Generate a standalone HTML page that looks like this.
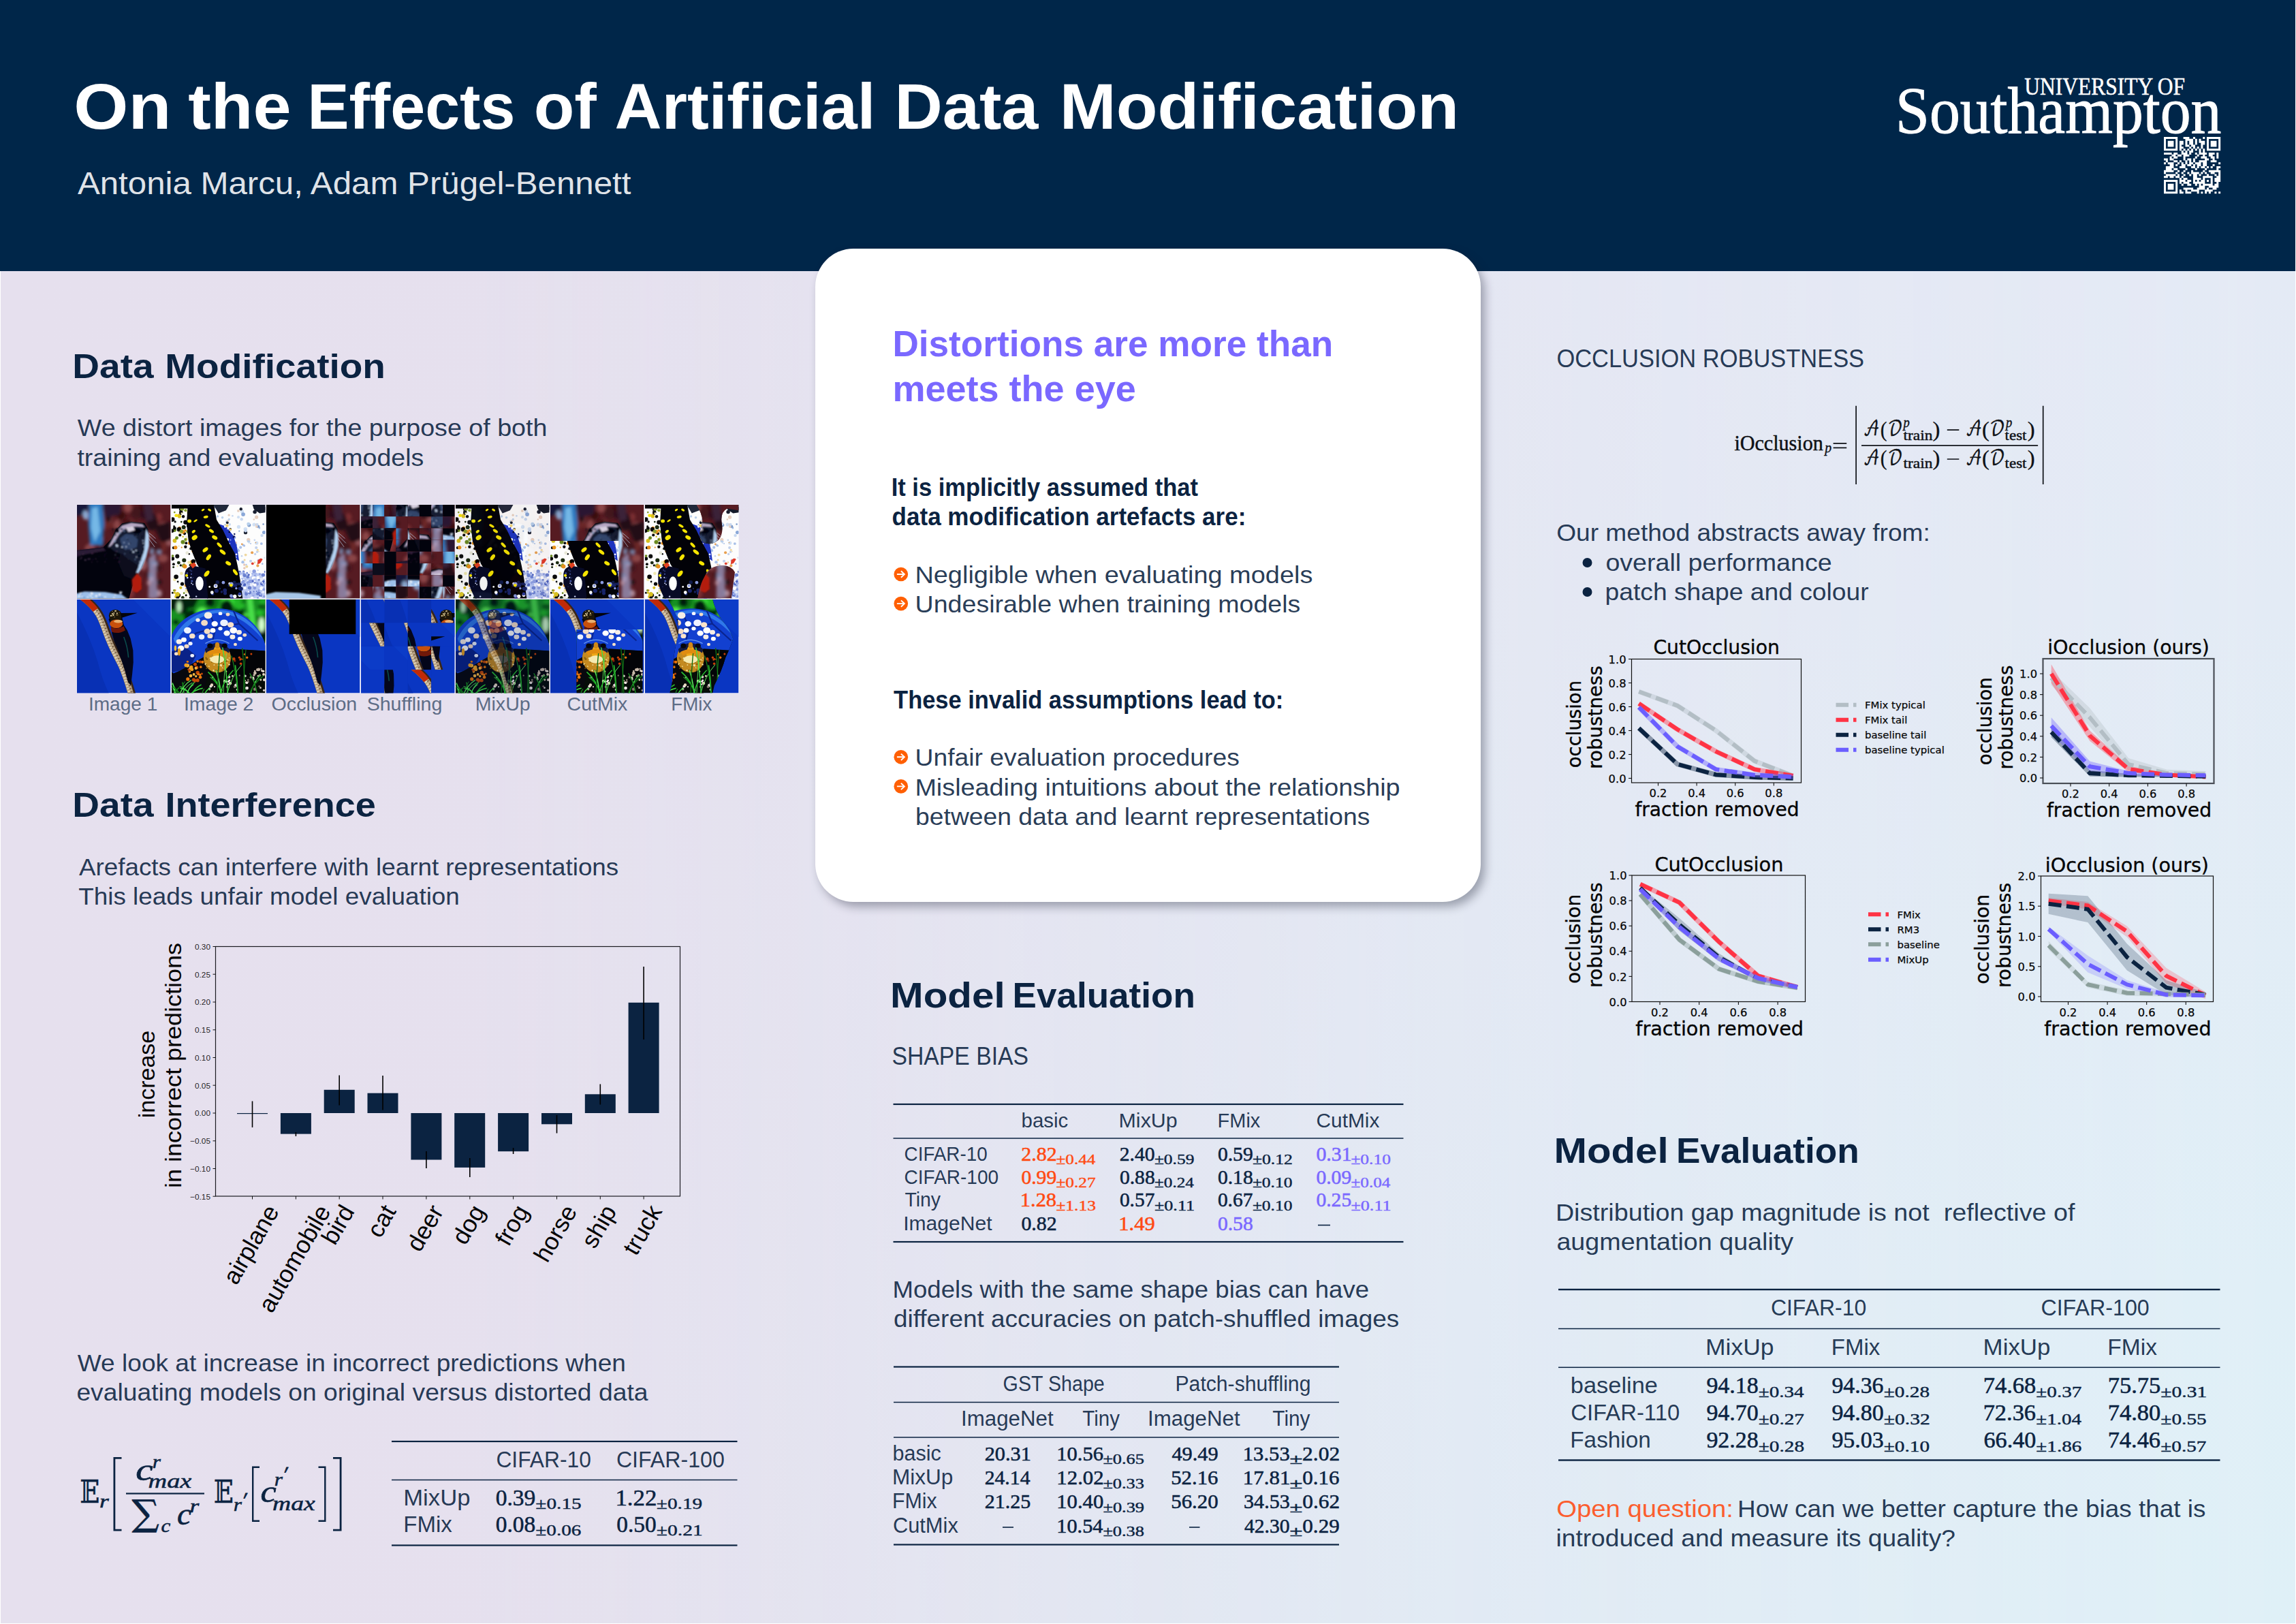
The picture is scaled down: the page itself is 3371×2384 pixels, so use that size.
<!DOCTYPE html>
<html lang="en"><head><meta charset="utf-8"><title>On the Effects of Artificial Data Modification</title>
<style>
html,body{margin:0;padding:0;background:#fff;}
body{width:3371px;height:2384px;overflow:hidden;position:relative;}
#bg{position:absolute;left:1px;top:0;width:3369px;height:2383px;background:linear-gradient(90deg,#e6e0ee 0%,#e6e1ef 100%);}
#bg2{position:absolute;left:1px;top:398px;width:3369px;height:1985px;background:linear-gradient(180deg,#e4eaf5 0%,#e3ebf5 25%,#e0eff7 75%,#dff0f7 100%);-webkit-mask-image:linear-gradient(90deg,rgba(0,0,0,0) 20%,rgba(0,0,0,.62) 62%,rgba(0,0,0,1) 100%);mask-image:linear-gradient(90deg,rgba(0,0,0,0) 20%,rgba(0,0,0,.62) 62%,rgba(0,0,0,1) 100%);}
#hdr{position:absolute;left:0;top:0;width:3370px;height:398px;background:#002649;}
#card{position:absolute;left:1197px;top:365px;width:976.5px;height:958.5px;border-radius:56px;background:#fff;box-shadow:6px 7px 14px rgba(25,30,50,.36);}
svg{position:absolute;left:0;top:0;}
text{white-space:pre;}
</style></head><body>
<div id="bg"></div><div id="bg2"></div><div id="hdr"></div><div id="card"></div>
<svg width="3371" height="2384" viewBox="0 0 3371 2384" fill="#0b2341" font-family="'Liberation Sans', sans-serif">
<text x="108.3" y="189.0" font-size="95" textLength="143.1" lengthAdjust="spacingAndGlyphs" font-weight="700" fill="#fff">On</text>
<text x="276.3" y="189.0" font-size="95" textLength="151.2" lengthAdjust="spacingAndGlyphs" font-weight="700" fill="#fff">the</text>
<text x="451.4" y="189.0" font-size="95" textLength="304.9" lengthAdjust="spacingAndGlyphs" font-weight="700" fill="#fff">Effects</text>
<text x="783.7" y="189.0" font-size="95" textLength="92.1" lengthAdjust="spacingAndGlyphs" font-weight="700" fill="#fff">of</text>
<text x="902.6" y="189.0" font-size="95" textLength="382.7" lengthAdjust="spacingAndGlyphs" font-weight="700" fill="#fff">Artificial</text>
<text x="1313.5" y="189.0" font-size="95" textLength="210.9" lengthAdjust="spacingAndGlyphs" font-weight="700" fill="#fff">Data</text>
<text x="1555.8" y="189.0" font-size="95" textLength="586.3" lengthAdjust="spacingAndGlyphs" font-weight="700" fill="#fff">Modification</text>
<text x="113.9" y="285.0" font-size="45.5" textLength="812.5" lengthAdjust="spacingAndGlyphs" fill="#fff" fill-opacity="0.9">Antonia Marcu, Adam Prügel-Bennett</text>
<text x="2783.0" y="195.0" font-size="98" textLength="478.4" lengthAdjust="spacingAndGlyphs" fill="#fff" font-family="'Liberation Serif', serif" stroke="#fff" stroke-width="1.1">Southampton</text>
<text x="2972.3" y="139.3" font-size="35.5" textLength="235.8" lengthAdjust="spacingAndGlyphs" fill="#fff" font-family="'Liberation Serif', serif" stroke="#fff" stroke-width="0.5">UNIVERSITY OF</text>
<text x="106.3" y="555.0" font-size="50.5" textLength="119.3" lengthAdjust="spacingAndGlyphs" font-weight="700">Data</text>
<text x="242.3" y="555.0" font-size="50.5" textLength="323.6" lengthAdjust="spacingAndGlyphs" font-weight="700">Modification</text>
<text x="113.8" y="640.0" font-size="35" textLength="689.6" lengthAdjust="spacingAndGlyphs" fill-opacity="0.9">We distort images for the purpose of both</text>
<text x="113.4" y="684.0" font-size="35" textLength="508.9" lengthAdjust="spacingAndGlyphs" fill-opacity="0.9">training and evaluating models</text>
<text x="129.9" y="1042.5" font-size="28" textLength="101.5" lengthAdjust="spacingAndGlyphs" fill="#5d6c86" fill-opacity="1">Image 1</text>
<text x="269.9" y="1042.5" font-size="28" textLength="102.5" lengthAdjust="spacingAndGlyphs" fill="#5d6c86" fill-opacity="1">Image 2</text>
<text x="398.6" y="1042.5" font-size="28" textLength="125.7" lengthAdjust="spacingAndGlyphs" fill="#5d6c86" fill-opacity="1">Occlusion</text>
<text x="538.7" y="1042.5" font-size="28" textLength="110.6" lengthAdjust="spacingAndGlyphs" fill="#5d6c86" fill-opacity="1">Shuffling</text>
<text x="697.7" y="1042.5" font-size="28" textLength="81.0" lengthAdjust="spacingAndGlyphs" fill="#5d6c86" fill-opacity="1">MixUp</text>
<text x="832.6" y="1042.5" font-size="28" textLength="88.8" lengthAdjust="spacingAndGlyphs" fill="#5d6c86" fill-opacity="1">CutMix</text>
<text x="985.2" y="1042.5" font-size="28" textLength="60.1" lengthAdjust="spacingAndGlyphs" fill="#5d6c86" fill-opacity="1">FMix</text>
<text x="106.3" y="1198.5" font-size="50.5" textLength="119.3" lengthAdjust="spacingAndGlyphs" font-weight="700">Data</text>
<text x="242.4" y="1198.5" font-size="50.5" textLength="309.5" lengthAdjust="spacingAndGlyphs" font-weight="700">Interference</text>
<text x="115.9" y="1284.5" font-size="35" textLength="792.4" lengthAdjust="spacingAndGlyphs" fill-opacity="0.9">Arefacts can interfere with learnt representations</text>
<text x="115.2" y="1327.5" font-size="35" textLength="559.7" lengthAdjust="spacingAndGlyphs" fill-opacity="0.9">This leads unfair model evaluation</text>
<text x="113.8" y="2012.5" font-size="35" textLength="805.1" lengthAdjust="spacingAndGlyphs" fill-opacity="0.9">We look at increase in incorrect predictions when</text>
<text x="112.4" y="2056.0" font-size="35" textLength="839.1" lengthAdjust="spacingAndGlyphs" fill-opacity="0.9">evaluating models on original versus distorted data</text>
<rect x="575.0" y="2114.90" width="507.5" height="2.2" fill="#0b2341"/>
<rect x="575.0" y="2171.75" width="507.5" height="1.5" fill="#0b2341"/>
<rect x="575.0" y="2267.40" width="507.5" height="2.2" fill="#0b2341"/>
<text x="728.4" y="2154.0" font-size="34" textLength="139.4" lengthAdjust="spacingAndGlyphs" fill-opacity="0.9">CIFAR-10</text>
<text x="904.9" y="2154.0" font-size="34" textLength="158.9" lengthAdjust="spacingAndGlyphs" fill-opacity="0.9">CIFAR-100</text>
<text x="592.2" y="2210.0" font-size="34" textLength="98.3" lengthAdjust="spacingAndGlyphs" fill-opacity="0.9">MixUp</text>
<text x="592.3" y="2249.0" font-size="34" textLength="71.6" lengthAdjust="spacingAndGlyphs" fill-opacity="0.9">FMix</text>
<text x="727.7" y="2210.0" font-size="33.3" textLength="58.7" lengthAdjust="spacingAndGlyphs" font-family="'Liberation Serif', serif" stroke="#0b2341" stroke-width="0.55">0.39</text>
<text x="786.3" y="2215.0" font-size="23" textLength="67.4" lengthAdjust="spacingAndGlyphs" font-family="'Liberation Serif', serif" stroke="#0b2341" stroke-width="0.4">±0.15</text>
<text x="903.4" y="2210.0" font-size="33.3" textLength="61.0" lengthAdjust="spacingAndGlyphs" font-family="'Liberation Serif', serif" stroke="#0b2341" stroke-width="0.55">1.22</text>
<text x="963.8" y="2215.0" font-size="23" textLength="67.4" lengthAdjust="spacingAndGlyphs" font-family="'Liberation Serif', serif" stroke="#0b2341" stroke-width="0.4">±0.19</text>
<text x="727.7" y="2249.0" font-size="33.3" textLength="58.5" lengthAdjust="spacingAndGlyphs" font-family="'Liberation Serif', serif" stroke="#0b2341" stroke-width="0.55">0.08</text>
<text x="786.3" y="2254.0" font-size="23" textLength="67.1" lengthAdjust="spacingAndGlyphs" font-family="'Liberation Serif', serif" stroke="#0b2341" stroke-width="0.4">±0.06</text>
<text x="905.2" y="2249.0" font-size="33.3" textLength="58.5" lengthAdjust="spacingAndGlyphs" font-family="'Liberation Serif', serif" stroke="#0b2341" stroke-width="0.55">0.50</text>
<text x="963.8" y="2254.0" font-size="23" textLength="68.0" lengthAdjust="spacingAndGlyphs" font-family="'Liberation Serif', serif" stroke="#0b2341" stroke-width="0.4">±0.21</text>
<text x="1310.4" y="522.5" font-size="54" textLength="646.9" lengthAdjust="spacingAndGlyphs" font-weight="700" fill="#7a68ff">Distortions are more than</text>
<text x="1310.4" y="589.0" font-size="54" textLength="357.4" lengthAdjust="spacingAndGlyphs" font-weight="700" fill="#7a68ff">meets the eye</text>
<text x="1308.7" y="727.5" font-size="36" textLength="450.2" lengthAdjust="spacingAndGlyphs" font-weight="700">It is implicitly assumed that</text>
<text x="1309.6" y="771.0" font-size="36" textLength="519.8" lengthAdjust="spacingAndGlyphs" font-weight="700">data modification artefacts are:</text>
<circle cx="1322.8" cy="843" r="10.35" fill="#ff5f03"/>
<path d="M1316.9 843H1327.4M1322.9 838.3L1327.9 843L1322.9 847.7" stroke="#fff" stroke-width="1.9" fill="none" stroke-linejoin="miter"/>
<circle cx="1322.8" cy="886.1" r="10.35" fill="#ff5f03"/>
<path d="M1316.9 886.1H1327.4M1322.9 881.4L1327.9 886.1L1322.9 890.8" stroke="#fff" stroke-width="1.9" fill="none" stroke-linejoin="miter"/>
<circle cx="1322.8" cy="1111.3" r="10.35" fill="#ff5f03"/>
<path d="M1316.9 1111.3H1327.4M1322.9 1106.6L1327.9 1111.3L1322.9 1116.0" stroke="#fff" stroke-width="1.9" fill="none" stroke-linejoin="miter"/>
<circle cx="1322.8" cy="1154.4" r="10.35" fill="#ff5f03"/>
<path d="M1316.9 1154.4H1327.4M1322.9 1149.7L1327.9 1154.4L1322.9 1159.1" stroke="#fff" stroke-width="1.9" fill="none" stroke-linejoin="miter"/>
<text x="1343.4" y="856.0" font-size="35" textLength="584.0" lengthAdjust="spacingAndGlyphs" fill-opacity="0.9">Negligible when evaluating models</text>
<text x="1343.6" y="899.0" font-size="35" textLength="565.8" lengthAdjust="spacingAndGlyphs" fill-opacity="0.9">Undesirable when training models</text>
<text x="1312.1" y="1040.0" font-size="36" textLength="572.2" lengthAdjust="spacingAndGlyphs" font-weight="700">These invalid assumptions lead to:</text>
<text x="1343.6" y="1124.0" font-size="35" textLength="476.2" lengthAdjust="spacingAndGlyphs" fill-opacity="0.9">Unfair evaluation procedures</text>
<text x="1343.4" y="1167.5" font-size="35" textLength="712.2" lengthAdjust="spacingAndGlyphs" fill-opacity="0.9">Misleading intuitions about the relationship</text>
<text x="1344.1" y="1211.0" font-size="35" textLength="667.2" lengthAdjust="spacingAndGlyphs" fill-opacity="0.9">between data and learnt representations</text>
<text x="1307.1" y="1478.5" font-size="52" textLength="168.5" lengthAdjust="spacingAndGlyphs" font-weight="700">Model</text>
<text x="1486.5" y="1478.5" font-size="52" textLength="268.3" lengthAdjust="spacingAndGlyphs" font-weight="700">Evaluation</text>
<text x="1309.5" y="1562.5" font-size="36" textLength="200.6" lengthAdjust="spacingAndGlyphs" fill-opacity="0.9">SHAPE BIAS</text>
<rect x="1311.5" y="1619.90" width="749.0" height="2.2" fill="#0b2341"/>
<rect x="1311.5" y="1670.25" width="749.0" height="1.5" fill="#0b2341"/>
<rect x="1311.5" y="1821.90" width="749.0" height="2.2" fill="#0b2341"/>
<text x="1499.6" y="1655.0" font-size="30" textLength="68.7" lengthAdjust="spacingAndGlyphs" fill-opacity="0.9">basic</text>
<text x="1642.5" y="1655.0" font-size="30" textLength="86.3" lengthAdjust="spacingAndGlyphs" fill-opacity="0.9">MixUp</text>
<text x="1787.6" y="1655.0" font-size="30" textLength="62.7" lengthAdjust="spacingAndGlyphs" fill-opacity="0.9">FMix</text>
<text x="1932.5" y="1655.0" font-size="30" textLength="92.8" lengthAdjust="spacingAndGlyphs" fill-opacity="0.9">CutMix</text>
<text x="1327.6" y="1703.5" font-size="30" textLength="122.0" lengthAdjust="spacingAndGlyphs" fill-opacity="0.9">CIFAR-10</text>
<text x="1499.2" y="1703.5" font-size="29.6" textLength="52.5" lengthAdjust="spacingAndGlyphs" fill="#ff4a12" font-family="'Liberation Serif', serif" stroke="#ff4a12" stroke-width="0.55">2.82</text>
<text x="1550.5" y="1709.0" font-size="20.5" textLength="57.9" lengthAdjust="spacingAndGlyphs" fill="#ff4a12" font-family="'Liberation Serif', serif" stroke="#ff4a12" stroke-width="0.4">±0.44</text>
<text x="1643.7" y="1703.5" font-size="29.6" textLength="51.9" lengthAdjust="spacingAndGlyphs" font-family="'Liberation Serif', serif" stroke="#0b2341" stroke-width="0.55">2.40</text>
<text x="1694.9" y="1709.0" font-size="20.5" textLength="58.6" lengthAdjust="spacingAndGlyphs" font-family="'Liberation Serif', serif" stroke="#0b2341" stroke-width="0.4">±0.59</text>
<text x="1787.9" y="1703.5" font-size="29.6" textLength="51.8" lengthAdjust="spacingAndGlyphs" font-family="'Liberation Serif', serif" stroke="#0b2341" stroke-width="0.55">0.59</text>
<text x="1838.9" y="1709.0" font-size="20.5" textLength="59.0" lengthAdjust="spacingAndGlyphs" font-family="'Liberation Serif', serif" stroke="#0b2341" stroke-width="0.4">±0.12</text>
<text x="1932.4" y="1703.5" font-size="29.6" textLength="52.4" lengthAdjust="spacingAndGlyphs" fill="#7a68ff" font-family="'Liberation Serif', serif" stroke="#7a68ff" stroke-width="0.55">0.31</text>
<text x="1983.4" y="1709.0" font-size="20.5" textLength="58.5" lengthAdjust="spacingAndGlyphs" fill="#7a68ff" font-family="'Liberation Serif', serif" stroke="#7a68ff" stroke-width="0.4">±0.10</text>
<text x="1327.6" y="1737.5" font-size="30" textLength="138.5" lengthAdjust="spacingAndGlyphs" fill-opacity="0.9">CIFAR-100</text>
<text x="1499.4" y="1737.5" font-size="29.6" textLength="51.8" lengthAdjust="spacingAndGlyphs" fill="#ff4a12" font-family="'Liberation Serif', serif" stroke="#ff4a12" stroke-width="0.55">0.99</text>
<text x="1550.4" y="1743.0" font-size="20.5" textLength="58.3" lengthAdjust="spacingAndGlyphs" fill="#ff4a12" font-family="'Liberation Serif', serif" stroke="#ff4a12" stroke-width="0.4">±0.27</text>
<text x="1643.9" y="1737.5" font-size="29.6" textLength="51.8" lengthAdjust="spacingAndGlyphs" font-family="'Liberation Serif', serif" stroke="#0b2341" stroke-width="0.55">0.88</text>
<text x="1695.0" y="1743.0" font-size="20.5" textLength="57.9" lengthAdjust="spacingAndGlyphs" font-family="'Liberation Serif', serif" stroke="#0b2341" stroke-width="0.4">±0.24</text>
<text x="1787.9" y="1737.5" font-size="29.6" textLength="51.8" lengthAdjust="spacingAndGlyphs" font-family="'Liberation Serif', serif" stroke="#0b2341" stroke-width="0.55">0.18</text>
<text x="1838.9" y="1743.0" font-size="20.5" textLength="58.5" lengthAdjust="spacingAndGlyphs" font-family="'Liberation Serif', serif" stroke="#0b2341" stroke-width="0.4">±0.10</text>
<text x="1932.4" y="1737.5" font-size="29.6" textLength="51.8" lengthAdjust="spacingAndGlyphs" fill="#7a68ff" font-family="'Liberation Serif', serif" stroke="#7a68ff" stroke-width="0.55">0.09</text>
<text x="1983.5" y="1743.0" font-size="20.5" textLength="57.9" lengthAdjust="spacingAndGlyphs" fill="#7a68ff" font-family="'Liberation Serif', serif" stroke="#7a68ff" stroke-width="0.4">±0.04</text>
<text x="1328.4" y="1771.0" font-size="30" textLength="52.7" lengthAdjust="spacingAndGlyphs" fill-opacity="0.9">Tiny</text>
<text x="1497.8" y="1771.0" font-size="29.6" textLength="53.3" lengthAdjust="spacingAndGlyphs" fill="#ff4a12" font-family="'Liberation Serif', serif" stroke="#ff4a12" stroke-width="0.55">1.28</text>
<text x="1550.4" y="1776.5" font-size="20.5" textLength="58.6" lengthAdjust="spacingAndGlyphs" fill="#ff4a12" font-family="'Liberation Serif', serif" stroke="#ff4a12" stroke-width="0.4">±1.13</text>
<text x="1643.9" y="1771.0" font-size="29.6" textLength="51.5" lengthAdjust="spacingAndGlyphs" font-family="'Liberation Serif', serif" stroke="#0b2341" stroke-width="0.55">0.57</text>
<text x="1694.9" y="1776.5" font-size="20.5" textLength="59.2" lengthAdjust="spacingAndGlyphs" font-family="'Liberation Serif', serif" stroke="#0b2341" stroke-width="0.4">±0.11</text>
<text x="1787.9" y="1771.0" font-size="29.6" textLength="51.5" lengthAdjust="spacingAndGlyphs" font-family="'Liberation Serif', serif" stroke="#0b2341" stroke-width="0.55">0.67</text>
<text x="1838.9" y="1776.5" font-size="20.5" textLength="58.5" lengthAdjust="spacingAndGlyphs" font-family="'Liberation Serif', serif" stroke="#0b2341" stroke-width="0.4">±0.10</text>
<text x="1932.4" y="1771.0" font-size="29.6" textLength="51.8" lengthAdjust="spacingAndGlyphs" fill="#7a68ff" font-family="'Liberation Serif', serif" stroke="#7a68ff" stroke-width="0.55">0.25</text>
<text x="1983.4" y="1776.5" font-size="20.5" textLength="59.2" lengthAdjust="spacingAndGlyphs" fill="#7a68ff" font-family="'Liberation Serif', serif" stroke="#7a68ff" stroke-width="0.4">±0.11</text>
<text x="1326.2" y="1806.0" font-size="30" textLength="130.5" lengthAdjust="spacingAndGlyphs" fill-opacity="0.9">ImageNet</text>
<text x="1499.4" y="1806.0" font-size="29.6" textLength="52.3" lengthAdjust="spacingAndGlyphs" font-family="'Liberation Serif', serif" stroke="#0b2341" stroke-width="0.55">0.82</text>
<text x="1642.3" y="1806.0" font-size="29.6" textLength="53.4" lengthAdjust="spacingAndGlyphs" fill="#ff4a12" font-family="'Liberation Serif', serif" stroke="#ff4a12" stroke-width="0.55">1.49</text>
<text x="1787.9" y="1806.0" font-size="29.6" textLength="51.8" lengthAdjust="spacingAndGlyphs" fill="#7a68ff" font-family="'Liberation Serif', serif" stroke="#7a68ff" stroke-width="0.55">0.58</text>
<rect x="1935.0" y="1797.70" width="18.0" height="1.6" fill="#0b2341"/>
<text x="1310.5" y="1905.0" font-size="35" textLength="699.6" lengthAdjust="spacingAndGlyphs" fill-opacity="0.9">Models with the same shape bias can have</text>
<text x="1311.9" y="1948.0" font-size="35" textLength="742.4" lengthAdjust="spacingAndGlyphs" fill-opacity="0.9">different accuracies on patch-shuffled images</text>
<rect x="1312.0" y="2005.40" width="654.0" height="2.2" fill="#0b2341"/>
<rect x="1312.0" y="2057.75" width="654.0" height="1.5" fill="#0b2341"/>
<rect x="1312.0" y="2109.25" width="654.0" height="1.5" fill="#0b2341"/>
<rect x="1312.0" y="2266.40" width="654.0" height="2.2" fill="#0b2341"/>
<text x="1472.6" y="2041.5" font-size="31" textLength="149.2" lengthAdjust="spacingAndGlyphs" fill-opacity="0.9">GST Shape</text>
<text x="1725.5" y="2041.5" font-size="31" textLength="198.9" lengthAdjust="spacingAndGlyphs" fill-opacity="0.9">Patch-shuffling</text>
<text x="1411.1" y="2092.5" font-size="31" textLength="135.6" lengthAdjust="spacingAndGlyphs" fill-opacity="0.9">ImageNet</text>
<text x="1589.3" y="2092.5" font-size="31" textLength="54.7" lengthAdjust="spacingAndGlyphs" fill-opacity="0.9">Tiny</text>
<text x="1685.1" y="2092.5" font-size="31" textLength="135.6" lengthAdjust="spacingAndGlyphs" fill-opacity="0.9">ImageNet</text>
<text x="1868.3" y="2092.5" font-size="31" textLength="55.2" lengthAdjust="spacingAndGlyphs" fill-opacity="0.9">Tiny</text>
<text x="1310.5" y="2143.5" font-size="31" textLength="71.3" lengthAdjust="spacingAndGlyphs" fill-opacity="0.9">basic</text>
<text x="1445.7" y="2143.5" font-size="29.6" textLength="68.2" lengthAdjust="spacingAndGlyphs" font-family="'Liberation Serif', serif" stroke="#0b2341" stroke-width="0.55">20.31</text>
<text x="1551.3" y="2143.5" font-size="29.6" textLength="68.6" lengthAdjust="spacingAndGlyphs" font-family="'Liberation Serif', serif" stroke="#0b2341" stroke-width="0.55">10.56</text>
<text x="1619.4" y="2149.0" font-size="20.5" textLength="60.6" lengthAdjust="spacingAndGlyphs" font-family="'Liberation Serif', serif" stroke="#0b2341" stroke-width="0.4">±0.65</text>
<text x="1720.4" y="2143.5" font-size="29.6" textLength="68.3" lengthAdjust="spacingAndGlyphs" font-family="'Liberation Serif', serif" stroke="#0b2341" stroke-width="0.55">49.49</text>
<text x="1824.8" y="2143.5" font-size="29.6" textLength="68.9" lengthAdjust="spacingAndGlyphs" font-family="'Liberation Serif', serif" stroke="#0b2341" stroke-width="0.55">13.53</text>
<text x="1893.6" y="2149.0" font-size="20.5" textLength="18.9" lengthAdjust="spacingAndGlyphs" font-family="'Liberation Serif', serif" stroke="#0b2341" stroke-width="0.55">±</text>
<text x="1912.1" y="2143.5" font-size="29.6" textLength="55.1" lengthAdjust="spacingAndGlyphs" font-family="'Liberation Serif', serif" stroke="#0b2341" stroke-width="0.55">2.02</text>
<text x="1309.9" y="2179.0" font-size="31" textLength="89.4" lengthAdjust="spacingAndGlyphs" fill-opacity="0.9">MixUp</text>
<text x="1445.7" y="2179.0" font-size="29.6" textLength="66.8" lengthAdjust="spacingAndGlyphs" font-family="'Liberation Serif', serif" stroke="#0b2341" stroke-width="0.55">24.14</text>
<text x="1551.3" y="2179.0" font-size="29.6" textLength="69.4" lengthAdjust="spacingAndGlyphs" font-family="'Liberation Serif', serif" stroke="#0b2341" stroke-width="0.55">12.02</text>
<text x="1619.4" y="2184.5" font-size="20.5" textLength="60.6" lengthAdjust="spacingAndGlyphs" font-family="'Liberation Serif', serif" stroke="#0b2341" stroke-width="0.4">±0.33</text>
<text x="1719.2" y="2179.0" font-size="29.6" textLength="69.2" lengthAdjust="spacingAndGlyphs" font-family="'Liberation Serif', serif" stroke="#0b2341" stroke-width="0.55">52.16</text>
<text x="1824.8" y="2179.0" font-size="29.6" textLength="69.6" lengthAdjust="spacingAndGlyphs" font-family="'Liberation Serif', serif" stroke="#0b2341" stroke-width="0.55">17.81</text>
<text x="1893.6" y="2184.5" font-size="20.5" textLength="18.9" lengthAdjust="spacingAndGlyphs" font-family="'Liberation Serif', serif" stroke="#0b2341" stroke-width="0.55">±</text>
<text x="1912.3" y="2179.0" font-size="29.6" textLength="54.1" lengthAdjust="spacingAndGlyphs" font-family="'Liberation Serif', serif" stroke="#0b2341" stroke-width="0.55">0.16</text>
<text x="1310.0" y="2214.0" font-size="31" textLength="65.8" lengthAdjust="spacingAndGlyphs" fill-opacity="0.9">FMix</text>
<text x="1445.7" y="2214.0" font-size="29.6" textLength="67.5" lengthAdjust="spacingAndGlyphs" font-family="'Liberation Serif', serif" stroke="#0b2341" stroke-width="0.55">21.25</text>
<text x="1551.3" y="2214.0" font-size="29.6" textLength="68.9" lengthAdjust="spacingAndGlyphs" font-family="'Liberation Serif', serif" stroke="#0b2341" stroke-width="0.55">10.40</text>
<text x="1619.4" y="2219.5" font-size="20.5" textLength="60.7" lengthAdjust="spacingAndGlyphs" font-family="'Liberation Serif', serif" stroke="#0b2341" stroke-width="0.4">±0.39</text>
<text x="1719.2" y="2214.0" font-size="29.6" textLength="69.5" lengthAdjust="spacingAndGlyphs" font-family="'Liberation Serif', serif" stroke="#0b2341" stroke-width="0.55">56.20</text>
<text x="1826.1" y="2214.0" font-size="29.6" textLength="67.6" lengthAdjust="spacingAndGlyphs" font-family="'Liberation Serif', serif" stroke="#0b2341" stroke-width="0.55">34.53</text>
<text x="1893.6" y="2219.5" font-size="20.5" textLength="18.9" lengthAdjust="spacingAndGlyphs" font-family="'Liberation Serif', serif" stroke="#0b2341" stroke-width="0.55">±</text>
<text x="1912.3" y="2214.0" font-size="29.6" textLength="54.9" lengthAdjust="spacingAndGlyphs" font-family="'Liberation Serif', serif" stroke="#0b2341" stroke-width="0.55">0.62</text>
<text x="1310.9" y="2249.5" font-size="31" textLength="95.9" lengthAdjust="spacingAndGlyphs" fill-opacity="0.9">CutMix</text>
<rect x="1472.0" y="2241.20" width="16.0" height="1.6" fill="#0b2341"/>
<text x="1551.3" y="2249.5" font-size="29.6" textLength="68.1" lengthAdjust="spacingAndGlyphs" font-family="'Liberation Serif', serif" stroke="#0b2341" stroke-width="0.55">10.54</text>
<text x="1619.4" y="2255.0" font-size="20.5" textLength="60.6" lengthAdjust="spacingAndGlyphs" font-family="'Liberation Serif', serif" stroke="#0b2341" stroke-width="0.4">±0.38</text>
<rect x="1746.0" y="2241.20" width="15.5" height="1.6" fill="#0b2341"/>
<text x="1826.9" y="2249.5" font-size="29.6" textLength="66.7" lengthAdjust="spacingAndGlyphs" font-family="'Liberation Serif', serif" stroke="#0b2341" stroke-width="0.55">42.30</text>
<text x="1893.6" y="2255.0" font-size="20.5" textLength="18.9" lengthAdjust="spacingAndGlyphs" font-family="'Liberation Serif', serif" stroke="#0b2341" stroke-width="0.55">±</text>
<text x="1912.3" y="2249.5" font-size="29.6" textLength="54.5" lengthAdjust="spacingAndGlyphs" font-family="'Liberation Serif', serif" stroke="#0b2341" stroke-width="0.55">0.29</text>
<text x="2285.4" y="538.5" font-size="36" textLength="451.7" lengthAdjust="spacingAndGlyphs" fill-opacity="0.9">OCCLUSION ROBUSTNESS</text>
<text x="2285.2" y="794.0" font-size="35" textLength="548.6" lengthAdjust="spacingAndGlyphs" fill-opacity="0.9">Our method abstracts away from:</text>
<circle cx="2330.5" cy="826" r="7" fill="#0b2341"/><circle cx="2330.5" cy="869" r="7" fill="#0b2341"/>
<text x="2357.4" y="837.5" font-size="35" textLength="332.2" lengthAdjust="spacingAndGlyphs" fill-opacity="0.9">overall performance</text>
<text x="2356.6" y="881.0" font-size="35" textLength="387.0" lengthAdjust="spacingAndGlyphs" fill-opacity="0.9">patch shape and colour</text>
<text x="2281.6" y="1706.5" font-size="52" textLength="168.0" lengthAdjust="spacingAndGlyphs" font-weight="700">Model</text>
<text x="2460.9" y="1706.5" font-size="52" textLength="268.9" lengthAdjust="spacingAndGlyphs" font-weight="700">Evaluation</text>
<text x="2283.9" y="1791.5" font-size="35" textLength="762.5" lengthAdjust="spacingAndGlyphs" fill-opacity="0.9">Distribution gap magnitude is not  reflective of</text>
<text x="2285.4" y="1835.0" font-size="35" textLength="347.7" lengthAdjust="spacingAndGlyphs" fill-opacity="0.9">augmentation quality</text>
<rect x="2288.0" y="1891.80" width="971.5" height="2.4" fill="#0b2341"/>
<rect x="2288.0" y="1949.75" width="971.5" height="1.5" fill="#0b2341"/>
<rect x="2288.0" y="2006.55" width="971.5" height="1.5" fill="#0b2341"/>
<rect x="2288.0" y="2142.30" width="971.5" height="2.4" fill="#0b2341"/>
<text x="2599.9" y="1931.0" font-size="34" textLength="140.4" lengthAdjust="spacingAndGlyphs" fill-opacity="0.9">CIFAR-10</text>
<text x="2996.4" y="1931.0" font-size="34" textLength="159.4" lengthAdjust="spacingAndGlyphs" fill-opacity="0.9">CIFAR-100</text>
<text x="2504.1" y="1989.0" font-size="34" textLength="100.4" lengthAdjust="spacingAndGlyphs" fill-opacity="0.9">MixUp</text>
<text x="2688.8" y="1989.0" font-size="34" textLength="71.6" lengthAdjust="spacingAndGlyphs" fill-opacity="0.9">FMix</text>
<text x="2911.6" y="1989.0" font-size="34" textLength="98.8" lengthAdjust="spacingAndGlyphs" fill-opacity="0.9">MixUp</text>
<text x="3094.3" y="1989.0" font-size="34" textLength="72.6" lengthAdjust="spacingAndGlyphs" fill-opacity="0.9">FMix</text>
<text x="2305.8" y="2045.0" font-size="34" textLength="128.2" lengthAdjust="spacingAndGlyphs" fill-opacity="0.9">baseline</text>
<text x="2505.4" y="2045.0" font-size="33.3" textLength="76.4" lengthAdjust="spacingAndGlyphs" font-family="'Liberation Serif', serif" stroke="#0b2341" stroke-width="0.55">94.18</text>
<text x="2581.8" y="2051.0" font-size="23" textLength="66.7" lengthAdjust="spacingAndGlyphs" font-family="'Liberation Serif', serif" stroke="#0b2341" stroke-width="0.4">±0.34</text>
<text x="2689.4" y="2045.0" font-size="33.3" textLength="76.1" lengthAdjust="spacingAndGlyphs" font-family="'Liberation Serif', serif" stroke="#0b2341" stroke-width="0.55">94.36</text>
<text x="2765.8" y="2051.0" font-size="23" textLength="67.3" lengthAdjust="spacingAndGlyphs" font-family="'Liberation Serif', serif" stroke="#0b2341" stroke-width="0.4">±0.28</text>
<text x="2911.7" y="2045.0" font-size="33.3" textLength="77.6" lengthAdjust="spacingAndGlyphs" font-family="'Liberation Serif', serif" stroke="#0b2341" stroke-width="0.55">74.68</text>
<text x="2989.3" y="2051.0" font-size="23" textLength="67.1" lengthAdjust="spacingAndGlyphs" font-family="'Liberation Serif', serif" stroke="#0b2341" stroke-width="0.4">±0.37</text>
<text x="3094.7" y="2045.0" font-size="33.3" textLength="77.6" lengthAdjust="spacingAndGlyphs" font-family="'Liberation Serif', serif" stroke="#0b2341" stroke-width="0.55">75.75</text>
<text x="3172.3" y="2051.0" font-size="23" textLength="68.0" lengthAdjust="spacingAndGlyphs" font-family="'Liberation Serif', serif" stroke="#0b2341" stroke-width="0.4">±0.31</text>
<text x="2306.3" y="2084.5" font-size="34" textLength="159.9" lengthAdjust="spacingAndGlyphs" fill-opacity="0.9">CIFAR-110</text>
<text x="2505.4" y="2084.5" font-size="33.3" textLength="76.4" lengthAdjust="spacingAndGlyphs" font-family="'Liberation Serif', serif" stroke="#0b2341" stroke-width="0.55">94.70</text>
<text x="2581.8" y="2090.5" font-size="23" textLength="67.1" lengthAdjust="spacingAndGlyphs" font-family="'Liberation Serif', serif" stroke="#0b2341" stroke-width="0.4">±0.27</text>
<text x="2689.4" y="2084.5" font-size="33.3" textLength="76.4" lengthAdjust="spacingAndGlyphs" font-family="'Liberation Serif', serif" stroke="#0b2341" stroke-width="0.55">94.80</text>
<text x="2765.8" y="2090.5" font-size="23" textLength="67.9" lengthAdjust="spacingAndGlyphs" font-family="'Liberation Serif', serif" stroke="#0b2341" stroke-width="0.4">±0.32</text>
<text x="2911.7" y="2084.5" font-size="33.3" textLength="77.3" lengthAdjust="spacingAndGlyphs" font-family="'Liberation Serif', serif" stroke="#0b2341" stroke-width="0.55">72.36</text>
<text x="2989.3" y="2090.5" font-size="23" textLength="66.7" lengthAdjust="spacingAndGlyphs" font-family="'Liberation Serif', serif" stroke="#0b2341" stroke-width="0.4">±1.04</text>
<text x="3094.7" y="2084.5" font-size="33.3" textLength="77.6" lengthAdjust="spacingAndGlyphs" font-family="'Liberation Serif', serif" stroke="#0b2341" stroke-width="0.55">74.80</text>
<text x="3172.3" y="2090.5" font-size="23" textLength="67.4" lengthAdjust="spacingAndGlyphs" font-family="'Liberation Serif', serif" stroke="#0b2341" stroke-width="0.4">±0.55</text>
<text x="2305.3" y="2124.5" font-size="34" textLength="118.4" lengthAdjust="spacingAndGlyphs" fill-opacity="0.9">Fashion</text>
<text x="2505.4" y="2124.5" font-size="33.3" textLength="76.4" lengthAdjust="spacingAndGlyphs" font-family="'Liberation Serif', serif" stroke="#0b2341" stroke-width="0.55">92.28</text>
<text x="2581.8" y="2130.5" font-size="23" textLength="67.3" lengthAdjust="spacingAndGlyphs" font-family="'Liberation Serif', serif" stroke="#0b2341" stroke-width="0.4">±0.28</text>
<text x="2689.4" y="2124.5" font-size="33.3" textLength="76.4" lengthAdjust="spacingAndGlyphs" font-family="'Liberation Serif', serif" stroke="#0b2341" stroke-width="0.55">95.03</text>
<text x="2765.8" y="2130.5" font-size="23" textLength="67.3" lengthAdjust="spacingAndGlyphs" font-family="'Liberation Serif', serif" stroke="#0b2341" stroke-width="0.4">±0.10</text>
<text x="2912.5" y="2124.5" font-size="33.3" textLength="76.8" lengthAdjust="spacingAndGlyphs" font-family="'Liberation Serif', serif" stroke="#0b2341" stroke-width="0.55">66.40</text>
<text x="2989.3" y="2130.5" font-size="23" textLength="67.1" lengthAdjust="spacingAndGlyphs" font-family="'Liberation Serif', serif" stroke="#0b2341" stroke-width="0.4">±1.86</text>
<text x="3094.7" y="2124.5" font-size="33.3" textLength="77.3" lengthAdjust="spacingAndGlyphs" font-family="'Liberation Serif', serif" stroke="#0b2341" stroke-width="0.55">74.46</text>
<text x="3172.3" y="2130.5" font-size="23" textLength="67.1" lengthAdjust="spacingAndGlyphs" font-family="'Liberation Serif', serif" stroke="#0b2341" stroke-width="0.4">±0.57</text>
<text x="2285.2" y="2226.5" font-size="35" textLength="259.8" lengthAdjust="spacingAndGlyphs" fill="#ff4a12" fill-opacity="0.9">Open question:</text>
<text x="2551.0" y="2226.5" font-size="35" textLength="687.4" lengthAdjust="spacingAndGlyphs" fill-opacity="0.9">How can we better capture the bias that is</text>
<text x="2284.5" y="2270.0" font-size="35" textLength="586.4" lengthAdjust="spacingAndGlyphs" fill-opacity="0.9">introduced and measure its quality?</text>
<rect x="316.5" y="1389.5" width="682.0" height="366.5" fill="none" stroke="#1c1c22" stroke-width="1.2"/>
<path d="M312.5 1389.5H316.5" stroke="#111" stroke-width="1"/>
<text x="309.0" y="1393.7" font-size="11.8" fill="#050505" text-anchor="end" fill-opacity="0.9">0.30</text>
<path d="M312.5 1430.2H316.5" stroke="#111" stroke-width="1"/>
<text x="309.0" y="1434.5" font-size="11.8" fill="#050505" text-anchor="end" fill-opacity="0.9">0.25</text>
<path d="M312.5 1471.0H316.5" stroke="#111" stroke-width="1"/>
<text x="309.0" y="1475.2" font-size="11.8" fill="#050505" text-anchor="end" fill-opacity="0.9">0.20</text>
<path d="M312.5 1511.8H316.5" stroke="#111" stroke-width="1"/>
<text x="309.0" y="1516.0" font-size="11.8" fill="#050505" text-anchor="end" fill-opacity="0.9">0.15</text>
<path d="M312.5 1552.5H316.5" stroke="#111" stroke-width="1"/>
<text x="309.0" y="1556.7" font-size="11.8" fill="#050505" text-anchor="end" fill-opacity="0.9">0.10</text>
<path d="M312.5 1593.2H316.5" stroke="#111" stroke-width="1"/>
<text x="309.0" y="1597.5" font-size="11.8" fill="#050505" text-anchor="end" fill-opacity="0.9">0.05</text>
<path d="M312.5 1634.0H316.5" stroke="#111" stroke-width="1"/>
<text x="309.0" y="1638.2" font-size="11.8" fill="#050505" text-anchor="end" fill-opacity="0.9">0.00</text>
<path d="M312.5 1674.8H316.5" stroke="#111" stroke-width="1"/>
<text x="309.0" y="1679.0" font-size="11.8" fill="#050505" text-anchor="end" fill-opacity="0.9">−0.05</text>
<path d="M312.5 1715.5H316.5" stroke="#111" stroke-width="1"/>
<text x="309.0" y="1719.7" font-size="11.8" fill="#050505" text-anchor="end" fill-opacity="0.9">−0.10</text>
<path d="M312.5 1756.2H316.5" stroke="#111" stroke-width="1"/>
<text x="309.0" y="1760.5" font-size="11.8" fill="#050505" text-anchor="end" fill-opacity="0.9">−0.15</text>
<rect x="348.0" y="1634.0" width="45.0" height="1.2" fill="#0b2341" />
<path d="M370.5 1616.5V1655" stroke="#000" stroke-width="1.6"/>
<path d="M370.5 1756.0v4.5" stroke="#111" stroke-width="1"/>
<text transform="translate(410.7,1778.0) rotate(-60)" font-size="35.7" text-anchor="end" fill="#050505">airplane</text>
<rect x="411.9" y="1634.0" width="45.0" height="30.6" fill="#0b2341" />
<path d="M434.4 1662V1668" stroke="#000" stroke-width="1.6"/>
<path d="M434.4 1756.0v4.5" stroke="#111" stroke-width="1"/>
<text transform="translate(486.5,1778.0) rotate(-60)" font-size="35.7" text-anchor="end" fill="#050505">automobile</text>
<rect x="475.7" y="1599.8" width="45.0" height="34.2" fill="#0b2341" />
<path d="M498.2 1578.5V1622.5" stroke="#000" stroke-width="1.6"/>
<path d="M498.2 1756.0v4.5" stroke="#111" stroke-width="1"/>
<text transform="translate(521.5,1778.0) rotate(-60)" font-size="35.7" text-anchor="end" fill="#050505">bird</text>
<rect x="539.5" y="1604.7" width="45.0" height="29.3" fill="#0b2341" />
<path d="M562.0 1579V1629.5" stroke="#000" stroke-width="1.6"/>
<path d="M562.0 1756.0v4.5" stroke="#111" stroke-width="1"/>
<text transform="translate(582.4,1778.0) rotate(-60)" font-size="35.7" text-anchor="end" fill="#050505">cat</text>
<rect x="603.4" y="1634.0" width="45.0" height="68.5" fill="#0b2341" />
<path d="M625.9 1690V1715" stroke="#000" stroke-width="1.6"/>
<path d="M625.9 1756.0v4.5" stroke="#111" stroke-width="1"/>
<text transform="translate(652.2,1778.0) rotate(-60)" font-size="35.7" text-anchor="end" fill="#050505">deer</text>
<rect x="667.2" y="1634.0" width="45.0" height="79.9" fill="#0b2341" />
<path d="M689.8 1700V1728" stroke="#000" stroke-width="1.6"/>
<path d="M689.8 1756.0v4.5" stroke="#111" stroke-width="1"/>
<text transform="translate(713.1,1778.0) rotate(-60)" font-size="35.7" text-anchor="end" fill="#050505">dog</text>
<rect x="731.1" y="1634.0" width="45.0" height="56.2" fill="#0b2341" />
<path d="M753.6 1685V1694" stroke="#000" stroke-width="1.6"/>
<path d="M753.6 1756.0v4.5" stroke="#111" stroke-width="1"/>
<text transform="translate(777.4,1778.0) rotate(-60)" font-size="35.7" text-anchor="end" fill="#050505">frog</text>
<rect x="795.0" y="1634.0" width="45.0" height="16.3" fill="#0b2341" />
<path d="M817.5 1637V1663.5" stroke="#000" stroke-width="1.6"/>
<path d="M817.5 1756.0v4.5" stroke="#111" stroke-width="1"/>
<text transform="translate(848.2,1778.0) rotate(-60)" font-size="35.7" text-anchor="end" fill="#050505">horse</text>
<rect x="858.8" y="1606.3" width="45.0" height="27.7" fill="#0b2341" />
<path d="M881.3 1591.5V1621.5" stroke="#000" stroke-width="1.6"/>
<path d="M881.3 1756.0v4.5" stroke="#111" stroke-width="1"/>
<text transform="translate(906.1,1778.0) rotate(-60)" font-size="35.7" text-anchor="end" fill="#050505">ship</text>
<rect x="922.6" y="1471.8" width="45.0" height="162.2" fill="#0b2341" />
<path d="M945.1 1419V1526" stroke="#000" stroke-width="1.6"/>
<path d="M945.1 1756.0v4.5" stroke="#111" stroke-width="1"/>
<text transform="translate(972.9,1778.0) rotate(-60)" font-size="35.7" text-anchor="end" fill="#050505">truck</text>
<text transform="translate(226.5,1577) rotate(-90)" font-size="34" text-anchor="middle" fill="#050505" textLength="128.5" lengthAdjust="spacingAndGlyphs">increase</text>
<text transform="translate(266,1564) rotate(-90)" font-size="34" text-anchor="middle" fill="#050505" textLength="360" lengthAdjust="spacingAndGlyphs">in incorrect predictions</text>
<polyline points="2406.2,1015.3 2462.8,1035.9 2519.4,1072.5 2576.0,1117.1 2632.6,1139.0" fill="none" stroke="#b3bec5" stroke-width="7" opacity="0.42"/>
<polyline points="2406.2,1015.3 2462.8,1035.9 2519.4,1072.5 2576.0,1117.1 2632.6,1139.0" fill="none" stroke="#b3bec5" stroke-width="6" stroke-dasharray="19 7.5" stroke-linejoin="miter"/>
<polyline points="2406.2,1032.8 2462.8,1070.8 2519.4,1103.1 2576.0,1129.4 2632.6,1139.0" fill="none" stroke="#ff3344" stroke-width="7" opacity="0.42"/>
<polyline points="2406.2,1032.8 2462.8,1070.8 2519.4,1103.1 2576.0,1129.4 2632.6,1139.0" fill="none" stroke="#ff3344" stroke-width="6" stroke-dasharray="19 7.5" stroke-linejoin="miter"/>
<polyline points="2406.2,1069.0 2462.8,1121.8 2519.4,1137.2 2576.0,1141.1 2632.6,1142.5" fill="none" stroke="#0b2341" stroke-width="7" opacity="0.42"/>
<polyline points="2406.2,1069.0 2462.8,1121.8 2519.4,1137.2 2576.0,1141.1 2632.6,1142.5" fill="none" stroke="#0b2341" stroke-width="6" stroke-dasharray="19 7.5" stroke-linejoin="miter"/>
<polyline points="2406.2,1038.2 2462.8,1095.8 2519.4,1129.4 2576.0,1137.6 2632.6,1140.4" fill="none" stroke="#6b5eff" stroke-width="7" opacity="0.42"/>
<polyline points="2406.2,1038.2 2462.8,1095.8 2519.4,1129.4 2576.0,1137.6 2632.6,1140.4" fill="none" stroke="#6b5eff" stroke-width="6" stroke-dasharray="19 7.5" stroke-linejoin="miter"/>
<rect x="2395.5" y="967.5" width="249.0" height="181.5" fill="none" stroke="#111" stroke-width="1.2"/>
<path d="M2391.0 967.5H2395.5" stroke="#111" stroke-width="1.1"/>
<text x="2387.5" y="973.6" font-size="16.3" fill="#050505" font-family="'DejaVu Sans', sans-serif" text-anchor="end" stroke="#050505" stroke-width="0.25">1.0</text>
<path d="M2391.0 1002.5H2395.5" stroke="#111" stroke-width="1.1"/>
<text x="2387.5" y="1008.6" font-size="16.3" fill="#050505" font-family="'DejaVu Sans', sans-serif" text-anchor="end" stroke="#050505" stroke-width="0.25">0.8</text>
<path d="M2391.0 1037.5H2395.5" stroke="#111" stroke-width="1.1"/>
<text x="2387.5" y="1043.6" font-size="16.3" fill="#050505" font-family="'DejaVu Sans', sans-serif" text-anchor="end" stroke="#050505" stroke-width="0.25">0.6</text>
<path d="M2391.0 1072.5H2395.5" stroke="#111" stroke-width="1.1"/>
<text x="2387.5" y="1078.6" font-size="16.3" fill="#050505" font-family="'DejaVu Sans', sans-serif" text-anchor="end" stroke="#050505" stroke-width="0.25">0.4</text>
<path d="M2391.0 1107.5H2395.5" stroke="#111" stroke-width="1.1"/>
<text x="2387.5" y="1113.6" font-size="16.3" fill="#050505" font-family="'DejaVu Sans', sans-serif" text-anchor="end" stroke="#050505" stroke-width="0.25">0.2</text>
<path d="M2391.0 1142.5H2395.5" stroke="#111" stroke-width="1.1"/>
<text x="2387.5" y="1148.6" font-size="16.3" fill="#050505" font-family="'DejaVu Sans', sans-serif" text-anchor="end" stroke="#050505" stroke-width="0.25">0.0</text>
<path d="M2434.5 1149v4.5" stroke="#111" stroke-width="1.1"/>
<text x="2434.5" y="1170.0" font-size="16.3" fill="#050505" font-family="'DejaVu Sans', sans-serif" text-anchor="middle" stroke="#050505" stroke-width="0.25">0.2</text>
<path d="M2491.1 1149v4.5" stroke="#111" stroke-width="1.1"/>
<text x="2491.1" y="1170.0" font-size="16.3" fill="#050505" font-family="'DejaVu Sans', sans-serif" text-anchor="middle" stroke="#050505" stroke-width="0.25">0.4</text>
<path d="M2547.7 1149v4.5" stroke="#111" stroke-width="1.1"/>
<text x="2547.7" y="1170.0" font-size="16.3" fill="#050505" font-family="'DejaVu Sans', sans-serif" text-anchor="middle" stroke="#050505" stroke-width="0.25">0.6</text>
<path d="M2604.3 1149v4.5" stroke="#111" stroke-width="1.1"/>
<text x="2604.3" y="1170.0" font-size="16.3" fill="#050505" font-family="'DejaVu Sans', sans-serif" text-anchor="middle" stroke="#050505" stroke-width="0.25">0.8</text>
<text x="2427.4" y="960.0" font-size="27.6" textLength="185.5" lengthAdjust="spacingAndGlyphs" fill="#050505" font-family="'DejaVu Sans', sans-serif" stroke="#050505" stroke-width="0.35">CutOcclusion</text>
<text x="2400.4" y="1197.5" font-size="27.6" textLength="241.2" lengthAdjust="spacingAndGlyphs" fill="#050505" font-family="'DejaVu Sans', sans-serif" stroke="#050505" stroke-width="0.35">fraction removed</text>
<text transform="translate(2320.5,1063.1) rotate(-90)" font-size="27.6" font-family="'DejaVu Sans', sans-serif" text-anchor="middle" fill="#050505" stroke="#050505" stroke-width="0.35" textLength="128.5" lengthAdjust="spacingAndGlyphs">occlusion</text>
<text transform="translate(2351.6,1052.9) rotate(-90)" font-size="27.6" font-family="'DejaVu Sans', sans-serif" text-anchor="middle" fill="#050505" stroke="#050505" stroke-width="0.35" textLength="151.5" lengthAdjust="spacingAndGlyphs">robustness</text>
<polygon points="3011.7,984.4 3068.3,1039.5 3125.1,1112.9 3181.8,1129.8 3238.4,1132.1 3238.4,1141.2 3181.8,1140.5 3125.1,1131.3 3068.3,1067.0 3011.7,1005.8" fill="#b3bec5" opacity="0.36"/>
<polygon points="3011.7,975.2 3068.3,1072.4 3125.1,1124.4 3181.8,1135.1 3238.4,1138.9 3238.4,1142.0 3181.8,1139.7 3125.1,1133.6 3068.3,1087.7 3011.7,1002.8" fill="#ff3344" opacity="0.36"/>
<polygon points="3011.7,1067.0 3068.3,1130.5 3125.1,1135.9 3181.8,1137.4 3238.4,1138.2 3238.4,1141.2 3181.8,1140.5 3125.1,1140.5 3068.3,1139.7 3011.7,1082.3" fill="#0b2341" opacity="0.36"/>
<polygon points="3011.7,1053.3 3068.3,1117.5 3125.1,1132.1 3181.8,1135.1 3238.4,1136.6 3238.4,1139.7 3181.8,1139.7 3125.1,1138.2 3068.3,1132.8 3011.7,1077.7" fill="#6b5eff" opacity="0.36"/>
<polyline points="3011.7,995.1 3068.3,1053.3 3125.1,1122.1 3181.8,1135.1 3238.4,1136.6" fill="none" stroke="#b3bec5" stroke-width="6" stroke-dasharray="19 7.5" stroke-linejoin="miter"/>
<polyline points="3011.7,989.0 3068.3,1080.0 3125.1,1129.0 3181.8,1137.4 3238.4,1140.5" fill="none" stroke="#ff3344" stroke-width="6" stroke-dasharray="19 7.5" stroke-linejoin="miter"/>
<polyline points="3011.7,1074.7 3068.3,1135.1 3125.1,1138.2 3181.8,1138.9 3238.4,1139.7" fill="none" stroke="#0b2341" stroke-width="6" stroke-dasharray="19 7.5" stroke-linejoin="miter"/>
<polyline points="3011.7,1065.5 3068.3,1125.2 3125.1,1135.1 3181.8,1137.4 3238.4,1138.2" fill="none" stroke="#6b5eff" stroke-width="6" stroke-dasharray="19 7.5" stroke-linejoin="miter"/>
<rect x="2999.5" y="967" width="251.0" height="183" fill="none" stroke="#4a4f57" stroke-width="2.2"/>
<path d="M2995.0 989.0H2999.5" stroke="#111" stroke-width="1.1"/>
<text x="2991.0" y="995.1" font-size="16.3" fill="#050505" font-family="'DejaVu Sans', sans-serif" text-anchor="end" stroke="#050505" stroke-width="0.25">1.0</text>
<path d="M2995.0 1019.6H2999.5" stroke="#111" stroke-width="1.1"/>
<text x="2991.0" y="1025.7" font-size="16.3" fill="#050505" font-family="'DejaVu Sans', sans-serif" text-anchor="end" stroke="#050505" stroke-width="0.25">0.8</text>
<path d="M2995.0 1050.2H2999.5" stroke="#111" stroke-width="1.1"/>
<text x="2991.0" y="1056.3" font-size="16.3" fill="#050505" font-family="'DejaVu Sans', sans-serif" text-anchor="end" stroke="#050505" stroke-width="0.25">0.6</text>
<path d="M2995.0 1080.8H2999.5" stroke="#111" stroke-width="1.1"/>
<text x="2991.0" y="1086.9" font-size="16.3" fill="#050505" font-family="'DejaVu Sans', sans-serif" text-anchor="end" stroke="#050505" stroke-width="0.25">0.4</text>
<path d="M2995.0 1111.4H2999.5" stroke="#111" stroke-width="1.1"/>
<text x="2991.0" y="1117.5" font-size="16.3" fill="#050505" font-family="'DejaVu Sans', sans-serif" text-anchor="end" stroke="#050505" stroke-width="0.25">0.2</text>
<path d="M2995.0 1142.0H2999.5" stroke="#111" stroke-width="1.1"/>
<text x="2991.0" y="1148.1" font-size="16.3" fill="#050505" font-family="'DejaVu Sans', sans-serif" text-anchor="end" stroke="#050505" stroke-width="0.25">0.0</text>
<path d="M3040.0 1150v4.5" stroke="#111" stroke-width="1.1"/>
<text x="3040.0" y="1171.0" font-size="16.3" fill="#050505" font-family="'DejaVu Sans', sans-serif" text-anchor="middle" stroke="#050505" stroke-width="0.25">0.2</text>
<path d="M3096.7 1150v4.5" stroke="#111" stroke-width="1.1"/>
<text x="3096.7" y="1171.0" font-size="16.3" fill="#050505" font-family="'DejaVu Sans', sans-serif" text-anchor="middle" stroke="#050505" stroke-width="0.25">0.4</text>
<path d="M3153.4 1150v4.5" stroke="#111" stroke-width="1.1"/>
<text x="3153.4" y="1171.0" font-size="16.3" fill="#050505" font-family="'DejaVu Sans', sans-serif" text-anchor="middle" stroke="#050505" stroke-width="0.25">0.6</text>
<path d="M3210.1 1150v4.5" stroke="#111" stroke-width="1.1"/>
<text x="3210.1" y="1171.0" font-size="16.3" fill="#050505" font-family="'DejaVu Sans', sans-serif" text-anchor="middle" stroke="#050505" stroke-width="0.25">0.8</text>
<text x="3006.3" y="960.0" font-size="27.6" textLength="237.6" lengthAdjust="spacingAndGlyphs" fill="#050505" font-family="'DejaVu Sans', sans-serif" stroke="#050505" stroke-width="0.35">iOcclusion (ours)</text>
<text x="3004.9" y="1198.5" font-size="27.6" textLength="242.2" lengthAdjust="spacingAndGlyphs" fill="#050505" font-family="'DejaVu Sans', sans-serif" stroke="#050505" stroke-width="0.35">fraction removed</text>
<text transform="translate(2924.1,1058.7) rotate(-90)" font-size="27.6" font-family="'DejaVu Sans', sans-serif" text-anchor="middle" fill="#050505" stroke="#050505" stroke-width="0.35" textLength="129.2" lengthAdjust="spacingAndGlyphs">occlusion</text>
<text transform="translate(2955.3,1053) rotate(-90)" font-size="27.6" font-family="'DejaVu Sans', sans-serif" text-anchor="middle" fill="#050505" stroke="#050505" stroke-width="0.35" textLength="152.9" lengthAdjust="spacingAndGlyphs">robustness</text>
<polygon points="2408.2,1301.3 2465.8,1348.1 2523.6,1399.5 2581.2,1434.9 2638.9,1447.3 2638.9,1451.0 2581.2,1439.3 2523.6,1410.6 2465.8,1366.6 2408.2,1305.8" fill="#0b2341" opacity="0.22"/>
<polyline points="2408.2,1298.0 2465.8,1324.9 2523.6,1382.4 2581.2,1432.5 2638.9,1449.2" fill="none" stroke="#ff3344" stroke-width="7" opacity="0.42"/>
<polyline points="2408.2,1298.0 2465.8,1324.9 2523.6,1382.4 2581.2,1432.5 2638.9,1449.2" fill="none" stroke="#ff3344" stroke-width="6" stroke-dasharray="19 7.5" stroke-linejoin="miter"/>
<polyline points="2408.2,1303.5 2465.8,1357.3 2523.6,1405.0 2581.2,1437.1 2638.9,1449.2" fill="none" stroke="#0b2341" stroke-width="6" stroke-dasharray="19 7.5" stroke-linejoin="miter"/>
<polyline points="2408.2,1312.8 2465.8,1379.6 2523.6,1422.3 2581.2,1440.8 2638.9,1450.1" fill="none" stroke="#8b9f9b" stroke-width="7" opacity="0.42"/>
<polyline points="2408.2,1312.8 2465.8,1379.6 2523.6,1422.3 2581.2,1440.8 2638.9,1450.1" fill="none" stroke="#8b9f9b" stroke-width="6" stroke-dasharray="19 7.5" stroke-linejoin="miter"/>
<polyline points="2408.2,1305.4 2465.8,1361.1 2523.6,1407.4 2581.2,1436.0 2638.9,1449.2" fill="none" stroke="#6b5eff" stroke-width="7" opacity="0.42"/>
<polyline points="2408.2,1305.4 2465.8,1361.1 2523.6,1407.4 2581.2,1436.0 2638.9,1449.2" fill="none" stroke="#6b5eff" stroke-width="6" stroke-dasharray="19 7.5" stroke-linejoin="miter"/>
<rect x="2396" y="1285" width="254.5" height="185.5" fill="none" stroke="#111" stroke-width="1.2"/>
<path d="M2391.5 1285.0H2396" stroke="#111" stroke-width="1.1"/>
<text x="2388.5" y="1291.1" font-size="16.3" fill="#050505" font-family="'DejaVu Sans', sans-serif" text-anchor="end" stroke="#050505" stroke-width="0.25">1.0</text>
<path d="M2391.5 1322.1H2396" stroke="#111" stroke-width="1.1"/>
<text x="2388.5" y="1328.2" font-size="16.3" fill="#050505" font-family="'DejaVu Sans', sans-serif" text-anchor="end" stroke="#050505" stroke-width="0.25">0.8</text>
<path d="M2391.5 1359.2H2396" stroke="#111" stroke-width="1.1"/>
<text x="2388.5" y="1365.3" font-size="16.3" fill="#050505" font-family="'DejaVu Sans', sans-serif" text-anchor="end" stroke="#050505" stroke-width="0.25">0.6</text>
<path d="M2391.5 1396.3H2396" stroke="#111" stroke-width="1.1"/>
<text x="2388.5" y="1402.4" font-size="16.3" fill="#050505" font-family="'DejaVu Sans', sans-serif" text-anchor="end" stroke="#050505" stroke-width="0.25">0.4</text>
<path d="M2391.5 1433.4H2396" stroke="#111" stroke-width="1.1"/>
<text x="2388.5" y="1439.5" font-size="16.3" fill="#050505" font-family="'DejaVu Sans', sans-serif" text-anchor="end" stroke="#050505" stroke-width="0.25">0.2</text>
<path d="M2391.5 1470.5H2396" stroke="#111" stroke-width="1.1"/>
<text x="2388.5" y="1476.6" font-size="16.3" fill="#050505" font-family="'DejaVu Sans', sans-serif" text-anchor="end" stroke="#050505" stroke-width="0.25">0.0</text>
<path d="M2437.0 1470.5v4.5" stroke="#111" stroke-width="1.1"/>
<text x="2437.0" y="1492.0" font-size="16.3" fill="#050505" font-family="'DejaVu Sans', sans-serif" text-anchor="middle" stroke="#050505" stroke-width="0.25">0.2</text>
<path d="M2494.7 1470.5v4.5" stroke="#111" stroke-width="1.1"/>
<text x="2494.7" y="1492.0" font-size="16.3" fill="#050505" font-family="'DejaVu Sans', sans-serif" text-anchor="middle" stroke="#050505" stroke-width="0.25">0.4</text>
<path d="M2552.4 1470.5v4.5" stroke="#111" stroke-width="1.1"/>
<text x="2552.4" y="1492.0" font-size="16.3" fill="#050505" font-family="'DejaVu Sans', sans-serif" text-anchor="middle" stroke="#050505" stroke-width="0.25">0.6</text>
<path d="M2610.1 1470.5v4.5" stroke="#111" stroke-width="1.1"/>
<text x="2610.1" y="1492.0" font-size="16.3" fill="#050505" font-family="'DejaVu Sans', sans-serif" text-anchor="middle" stroke="#050505" stroke-width="0.25">0.8</text>
<text x="2429.4" y="1278.5" font-size="28.2" textLength="189.1" lengthAdjust="spacingAndGlyphs" fill="#050505" font-family="'DejaVu Sans', sans-serif" stroke="#050505" stroke-width="0.35">CutOcclusion</text>
<text x="2401.3" y="1520.0" font-size="28.2" textLength="246.8" lengthAdjust="spacingAndGlyphs" fill="#050505" font-family="'DejaVu Sans', sans-serif" stroke="#050505" stroke-width="0.35">fraction removed</text>
<text transform="translate(2319.8,1378.4) rotate(-90)" font-size="28.2" font-family="'DejaVu Sans', sans-serif" text-anchor="middle" fill="#050505" stroke="#050505" stroke-width="0.35" textLength="131.2" lengthAdjust="spacingAndGlyphs">occlusion</text>
<text transform="translate(2351.6,1372.6) rotate(-90)" font-size="28.2" font-family="'DejaVu Sans', sans-serif" text-anchor="middle" fill="#050505" stroke="#050505" stroke-width="0.35" textLength="154.9" lengthAdjust="spacingAndGlyphs">robustness</text>
<polygon points="3007.7,1317.9 3065.3,1324.1 3122.9,1359.5 3180.5,1421.0 3238.1,1455.9 3238.1,1466.5 3180.5,1444.0 3122.9,1375.4 3065.3,1334.7 3007.7,1326.7" fill="#ff3344" opacity="0.22"/>
<polygon points="3007.7,1311.7 3065.3,1315.2 3122.9,1385.6 3180.5,1439.1 3238.1,1456.8 3238.1,1463.9 3180.5,1460.3 3122.9,1424.5 3065.3,1354.1 3007.7,1341.8" fill="#0b2341" opacity="0.22"/>
<polygon points="3007.7,1381.6 3065.3,1440.9 3122.9,1453.3 3180.5,1455.5 3238.1,1457.7 3238.1,1463.0 3180.5,1462.6 3122.9,1462.1 3065.3,1449.7 3007.7,1394.0" fill="#8b9f9b" opacity="0.22"/>
<polygon points="3007.7,1360.3 3065.3,1402.8 3122.9,1439.1 3180.5,1456.8 3238.1,1458.6 3238.1,1463.9 3180.5,1463.9 3122.9,1451.5 3065.3,1427.6 3007.7,1367.4" fill="#6b5eff" opacity="0.22"/>
<polyline points="3007.7,1322.3 3065.3,1329.4 3122.9,1367.4 3180.5,1432.5 3238.1,1461.2" fill="none" stroke="#ff3344" stroke-width="6" stroke-dasharray="19 7.5" stroke-linejoin="miter"/>
<polyline points="3007.7,1326.7 3065.3,1334.7 3122.9,1405.0 3180.5,1449.7 3238.1,1460.3" fill="none" stroke="#0b2341" stroke-width="6" stroke-dasharray="19 7.5" stroke-linejoin="miter"/>
<polyline points="3007.7,1387.8 3065.3,1445.3 3122.9,1457.7 3180.5,1459.0 3238.1,1460.3" fill="none" stroke="#8b9f9b" stroke-width="6" stroke-dasharray="19 7.5" stroke-linejoin="miter"/>
<polyline points="3007.7,1363.9 3065.3,1415.2 3122.9,1445.3 3180.5,1460.3 3238.1,1461.2" fill="none" stroke="#6b5eff" stroke-width="6" stroke-dasharray="19 7.5" stroke-linejoin="miter"/>
<rect x="2996.5" y="1286" width="253.0" height="184.5" fill="none" stroke="#111" stroke-width="1.2"/>
<path d="M2992.0 1286.0H2996.5" stroke="#111" stroke-width="1.1"/>
<text x="2988.5" y="1292.1" font-size="16.3" fill="#050505" font-family="'DejaVu Sans', sans-serif" text-anchor="end" stroke="#050505" stroke-width="0.25">2.0</text>
<path d="M2992.0 1330.2H2996.5" stroke="#111" stroke-width="1.1"/>
<text x="2988.5" y="1336.3" font-size="16.3" fill="#050505" font-family="'DejaVu Sans', sans-serif" text-anchor="end" stroke="#050505" stroke-width="0.25">1.5</text>
<path d="M2992.0 1374.5H2996.5" stroke="#111" stroke-width="1.1"/>
<text x="2988.5" y="1380.6" font-size="16.3" fill="#050505" font-family="'DejaVu Sans', sans-serif" text-anchor="end" stroke="#050505" stroke-width="0.25">1.0</text>
<path d="M2992.0 1418.8H2996.5" stroke="#111" stroke-width="1.1"/>
<text x="2988.5" y="1424.8" font-size="16.3" fill="#050505" font-family="'DejaVu Sans', sans-serif" text-anchor="end" stroke="#050505" stroke-width="0.25">0.5</text>
<path d="M2992.0 1463.0H2996.5" stroke="#111" stroke-width="1.1"/>
<text x="2988.5" y="1469.1" font-size="16.3" fill="#050505" font-family="'DejaVu Sans', sans-serif" text-anchor="end" stroke="#050505" stroke-width="0.25">0.0</text>
<path d="M3036.5 1470.5v4.5" stroke="#111" stroke-width="1.1"/>
<text x="3036.5" y="1492.0" font-size="16.3" fill="#050505" font-family="'DejaVu Sans', sans-serif" text-anchor="middle" stroke="#050505" stroke-width="0.25">0.2</text>
<path d="M3094.1 1470.5v4.5" stroke="#111" stroke-width="1.1"/>
<text x="3094.1" y="1492.0" font-size="16.3" fill="#050505" font-family="'DejaVu Sans', sans-serif" text-anchor="middle" stroke="#050505" stroke-width="0.25">0.4</text>
<path d="M3151.7 1470.5v4.5" stroke="#111" stroke-width="1.1"/>
<text x="3151.7" y="1492.0" font-size="16.3" fill="#050505" font-family="'DejaVu Sans', sans-serif" text-anchor="middle" stroke="#050505" stroke-width="0.25">0.6</text>
<path d="M3209.3 1470.5v4.5" stroke="#111" stroke-width="1.1"/>
<text x="3209.3" y="1492.0" font-size="16.3" fill="#050505" font-family="'DejaVu Sans', sans-serif" text-anchor="middle" stroke="#050505" stroke-width="0.25">0.8</text>
<text x="3002.8" y="1279.5" font-size="28.2" textLength="240.2" lengthAdjust="spacingAndGlyphs" fill="#050505" font-family="'DejaVu Sans', sans-serif" stroke="#050505" stroke-width="0.35">iOcclusion (ours)</text>
<text x="3001.3" y="1520.0" font-size="28.2" textLength="245.2" lengthAdjust="spacingAndGlyphs" fill="#050505" font-family="'DejaVu Sans', sans-serif" stroke="#050505" stroke-width="0.35">fraction removed</text>
<text transform="translate(2920,1378.7) rotate(-90)" font-size="28.2" font-family="'DejaVu Sans', sans-serif" text-anchor="middle" fill="#050505" stroke="#050505" stroke-width="0.35" textLength="131.9" lengthAdjust="spacingAndGlyphs">occlusion</text>
<text transform="translate(2951.6,1373) rotate(-90)" font-size="28.2" font-family="'DejaVu Sans', sans-serif" text-anchor="middle" fill="#050505" stroke="#050505" stroke-width="0.35" textLength="154.2" lengthAdjust="spacingAndGlyphs">robustness</text>
<path d="M2695.5 1034.8h18.5M2721.0 1034.8h4.5" stroke="#b3bec5" stroke-width="6"/>
<text x="2738.0" y="1040.0" font-size="14.9" fill="#050505" font-family="'DejaVu Sans', sans-serif" stroke="#050505" stroke-width="0.25">FMix typical</text>
<path d="M2695.5 1056.8h18.5M2721.0 1056.8h4.5" stroke="#ff3344" stroke-width="6"/>
<text x="2738.0" y="1062.0" font-size="14.9" fill="#050505" font-family="'DejaVu Sans', sans-serif" stroke="#050505" stroke-width="0.25">FMix tail</text>
<path d="M2695.5 1078.8h18.5M2721.0 1078.8h4.5" stroke="#0b2341" stroke-width="6"/>
<text x="2738.0" y="1084.0" font-size="14.9" fill="#050505" font-family="'DejaVu Sans', sans-serif" stroke="#050505" stroke-width="0.25">baseline tail</text>
<path d="M2695.5 1100.8h18.5M2721.0 1100.8h4.5" stroke="#6b5eff" stroke-width="6"/>
<text x="2738.0" y="1106.0" font-size="14.9" fill="#050505" font-family="'DejaVu Sans', sans-serif" stroke="#050505" stroke-width="0.25">baseline typical</text>
<path d="M2743 1342.3h18.5M2768.5 1342.3h4.5" stroke="#ff3344" stroke-width="6"/>
<text x="2785.5" y="1347.5" font-size="14.9" fill="#050505" font-family="'DejaVu Sans', sans-serif" stroke="#050505" stroke-width="0.25">FMix</text>
<path d="M2743 1364.3h18.5M2768.5 1364.3h4.5" stroke="#0b2341" stroke-width="6"/>
<text x="2785.5" y="1369.5" font-size="14.9" fill="#050505" font-family="'DejaVu Sans', sans-serif" stroke="#050505" stroke-width="0.25">RM3</text>
<path d="M2743 1386.3h18.5M2768.5 1386.3h4.5" stroke="#8b9f9b" stroke-width="6"/>
<text x="2785.5" y="1391.5" font-size="14.9" fill="#050505" font-family="'DejaVu Sans', sans-serif" stroke="#050505" stroke-width="0.25">baseline</text>
<path d="M2743 1408.8h18.5M2768.5 1408.8h4.5" stroke="#6b5eff" stroke-width="6"/>
<text x="2785.5" y="1414.0" font-size="14.9" fill="#050505" font-family="'DejaVu Sans', sans-serif" stroke="#050505" stroke-width="0.25">MixUp</text>
<defs><filter id="bl1" x="-10%" y="-10%" width="120%" height="120%"><feGaussianBlur stdDeviation="1.6"/></filter><filter id="bl2" x="-10%" y="-10%" width="120%" height="120%"><feGaussianBlur stdDeviation="0.7"/></filter><clipPath id="sq"><rect x="0" y="0" width="100" height="100"/></clipPath><g id="imA" clip-path="url(#sq)"><rect width="100" height="100" fill="#561b22"/><g filter="url(#bl1)"><g><ellipse cx="32.4" cy="15.1" rx="5.1" ry="7.2" fill="#8a4446"/><ellipse cx="9.4" cy="58.3" rx="6.1" ry="3.3" fill="#6a2628"/><ellipse cx="43.4" cy="7.0" rx="2.9" ry="1.6" fill="#42161f"/><ellipse cx="56.5" cy="94.7" rx="5.0" ry="5.7" fill="#7a2e30"/><ellipse cx="39.7" cy="97.6" rx="2.7" ry="2.2" fill="#32101c"/><ellipse cx="14.4" cy="11.8" rx="3.7" ry="2.3" fill="#32101c"/><ellipse cx="57.1" cy="18.8" rx="2.9" ry="3.2" fill="#8a4446"/><ellipse cx="61.9" cy="49.6" rx="4.6" ry="4.7" fill="#94545a"/><ellipse cx="92.3" cy="36.2" rx="3.5" ry="4.4" fill="#32101c"/><ellipse cx="24.4" cy="57.4" rx="4.6" ry="6.0" fill="#94545a"/><ellipse cx="28.8" cy="98.0" rx="3.0" ry="2.0" fill="#42161f"/><ellipse cx="34.2" cy="93.3" rx="4.2" ry="5.6" fill="#8a4446"/><ellipse cx="57.3" cy="87.5" rx="3.8" ry="4.3" fill="#94545a"/><ellipse cx="58.0" cy="45.6" rx="5.9" ry="6.0" fill="#220a14"/><ellipse cx="66.4" cy="6.1" rx="5.3" ry="4.3" fill="#3a0e10"/><ellipse cx="38.6" cy="66.9" rx="2.6" ry="2.3" fill="#3a0e10"/><ellipse cx="61.1" cy="49.4" rx="3.4" ry="2.2" fill="#220a14"/><ellipse cx="24.8" cy="39.1" rx="6.0" ry="4.1" fill="#8a4446"/><ellipse cx="40.2" cy="27.8" rx="3.0" ry="4.4" fill="#42161f"/><ellipse cx="27.8" cy="41.5" rx="3.9" ry="6.1" fill="#42161f"/><ellipse cx="15.1" cy="17.6" rx="3.4" ry="1.8" fill="#6a2628"/><ellipse cx="83.1" cy="18.2" rx="3.6" ry="3.5" fill="#32101c"/><ellipse cx="36.9" cy="56.6" rx="6.3" ry="6.3" fill="#7a2e30"/><ellipse cx="87.1" cy="95.2" rx="5.2" ry="4.9" fill="#42161f"/><ellipse cx="39.4" cy="48.2" rx="4.1" ry="2.4" fill="#6a2628"/><ellipse cx="20.9" cy="16.2" rx="3.9" ry="2.4" fill="#7a2e30"/><ellipse cx="56.7" cy="53.7" rx="6.3" ry="3.6" fill="#7a2e30"/><ellipse cx="20.8" cy="37.6" rx="5.0" ry="5.9" fill="#94545a"/><ellipse cx="47.4" cy="11.5" rx="4.5" ry="4.6" fill="#3a0e10"/><ellipse cx="31.2" cy="14.4" rx="5.5" ry="5.6" fill="#220a14"/><ellipse cx="69.2" cy="51.6" rx="3.3" ry="2.2" fill="#94545a"/><ellipse cx="54.3" cy="2.7" rx="4.6" ry="5.8" fill="#8a4446"/><ellipse cx="26.1" cy="36.7" rx="3.2" ry="3.4" fill="#6a2628"/><ellipse cx="77.9" cy="33.0" rx="3.4" ry="4.7" fill="#6a2628"/><ellipse cx="81.8" cy="74.0" rx="3.4" ry="3.0" fill="#3a0e10"/><ellipse cx="2.9" cy="2.8" rx="3.6" ry="2.6" fill="#220a14"/><ellipse cx="60.5" cy="34.4" rx="5.7" ry="8.9" fill="#94545a"/><ellipse cx="36.5" cy="22.0" rx="3.4" ry="3.0" fill="#6a2628"/><ellipse cx="48.3" cy="98.5" rx="4.9" ry="5.1" fill="#7a2e30"/><ellipse cx="65.3" cy="80.0" rx="2.8" ry="4.3" fill="#8a4446"/><ellipse cx="78.2" cy="75.0" rx="4.4" ry="4.3" fill="#32101c"/><ellipse cx="63.6" cy="8.7" rx="6.3" ry="6.3" fill="#42161f"/><ellipse cx="74.3" cy="8.5" rx="3.1" ry="1.7" fill="#32101c"/><ellipse cx="59.1" cy="46.5" rx="5.1" ry="6.3" fill="#3a0e10"/><ellipse cx="35.0" cy="54.9" rx="3.0" ry="4.2" fill="#7a2e30"/><ellipse cx="72.6" cy="10.3" rx="5.5" ry="5.4" fill="#32101c"/><ellipse cx="87.2" cy="82.6" rx="3.3" ry="2.5" fill="#220a14"/><ellipse cx="50.1" cy="76.4" rx="3.8" ry="5.4" fill="#42161f"/><ellipse cx="6.1" cy="74.0" rx="6.1" ry="8.6" fill="#42161f"/><ellipse cx="87.8" cy="13.1" rx="3.1" ry="4.5" fill="#7a2e30"/><ellipse cx="77.7" cy="60.9" rx="5.6" ry="3.9" fill="#32101c"/><ellipse cx="47.3" cy="72.5" rx="4.7" ry="5.9" fill="#94545a"/><ellipse cx="53.1" cy="48.2" rx="5.6" ry="4.3" fill="#7a2e30"/><ellipse cx="27.7" cy="77.2" rx="4.5" ry="6.1" fill="#7a2e30"/><ellipse cx="91.2" cy="44.3" rx="5.0" ry="6.2" fill="#6a2628"/><ellipse cx="45.2" cy="53.3" rx="4.4" ry="5.6" fill="#6a2628"/><ellipse cx="87.7" cy="94.2" rx="3.5" ry="5.0" fill="#6a2628"/><ellipse cx="13.7" cy="12.2" rx="4.3" ry="5.3" fill="#8a4446"/><ellipse cx="42.8" cy="21.3" rx="3.7" ry="5.5" fill="#8a4446"/><ellipse cx="15.4" cy="71.6" rx="5.1" ry="4.0" fill="#32101c"/><ellipse cx="13.7" cy="46.8" rx="5.5" ry="5.1" fill="#8a4446"/><ellipse cx="48.7" cy="99.0" rx="5.8" ry="7.4" fill="#32101c"/><ellipse cx="99.4" cy="40.4" rx="4.2" ry="3.6" fill="#94545a"/><ellipse cx="72.2" cy="1.9" rx="4.7" ry="6.0" fill="#3a0e10"/><ellipse cx="38.4" cy="51.7" rx="3.7" ry="2.3" fill="#8a4446"/><ellipse cx="91.9" cy="22.9" rx="6.0" ry="4.8" fill="#8a4446"/><ellipse cx="4.0" cy="77.9" rx="3.6" ry="5.0" fill="#32101c"/><ellipse cx="85.0" cy="67.6" rx="6.3" ry="4.2" fill="#42161f"/><ellipse cx="91.9" cy="57.1" rx="5.3" ry="4.3" fill="#8a4446"/><ellipse cx="80.0" cy="18.3" rx="6.1" ry="9.3" fill="#220a14"/><ellipse cx="63.4" cy="80.2" rx="2.8" ry="1.6" fill="#6a2628"/><ellipse cx="86.3" cy="45.4" rx="3.9" ry="5.9" fill="#42161f"/><ellipse cx="26.8" cy="12.9" rx="4.6" ry="7.1" fill="#6a2628"/><ellipse cx="96.9" cy="26.2" rx="3.2" ry="3.8" fill="#220a14"/><ellipse cx="53.1" cy="20.6" rx="4.3" ry="3.4" fill="#32101c"/><ellipse cx="80.4" cy="99.4" rx="2.6" ry="3.5" fill="#7a2e30"/><ellipse cx="55.1" cy="18.9" rx="4.4" ry="2.7" fill="#3a0e10"/><ellipse cx="81.9" cy="43.2" rx="4.5" ry="7.0" fill="#42161f"/><ellipse cx="30.8" cy="21.5" rx="3.4" ry="4.8" fill="#6a2628"/><ellipse cx="70.7" cy="63.6" rx="4.1" ry="6.5" fill="#94545a"/></g><path d="M13 -3 L27 -3 L29 20 L27 43 L14 43 L12 20Z" fill="#2a78c0"/><path d="M16 4 L22 2 L25 28 L19 40 L15 25Z" fill="#74b8e6"/><path d="M-2 -2 L12 -2 L11 10 L-2 12Z" fill="#14183a"/><ellipse cx="9" cy="11" rx="3" ry="5" fill="#8aa8d0"/><path d="M28 -2 L48 -2 L46 10 L30 14Z" fill="#2a1830"/><path d="M82 22 L100 18 L100 38 L90 40Z" fill="#200812"/><path d="M70 -2 L80 -2 L82 16 L74 18Z" fill="#3a2038"/><path d="M77 56 L84 52 L86 100 L76 100Z" fill="#8a7a9a"/><g><ellipse cx="87.7" cy="50.7" rx="2.4" ry="2.4" fill="#7a8ab0"/><ellipse cx="76.8" cy="83.3" rx="2.1" ry="2.6" fill="#b08a9a"/><ellipse cx="79.9" cy="62.1" rx="1.9" ry="1.4" fill="#7a8ab0"/><ellipse cx="79.8" cy="50.2" rx="2.0" ry="3.2" fill="#7a8ab0"/><ellipse cx="83.7" cy="62.2" rx="2.9" ry="2.2" fill="#7a8ab0"/><ellipse cx="78.6" cy="66.8" rx="1.6" ry="1.7" fill="#7a8ab0"/><ellipse cx="78.8" cy="75.2" rx="1.5" ry="2.1" fill="#7a8ab0"/><ellipse cx="78.0" cy="79.3" rx="2.1" ry="1.7" fill="#7a8ab0"/><ellipse cx="79.3" cy="79.3" rx="2.3" ry="2.8" fill="#a898b8"/><ellipse cx="86.0" cy="94.0" rx="2.1" ry="2.7" fill="#7a8ab0"/><ellipse cx="82.9" cy="64.2" rx="2.4" ry="1.3" fill="#a898b8"/><ellipse cx="87.7" cy="94.6" rx="2.4" ry="3.1" fill="#b08a9a"/></g></g><path d="M-2 49 L28 45.5 L36.5 36.5 L41 27.5 L48 20 L58 18 L72 19.5 L76 26 L76.5 38 L74.5 52 L70 65.5 L64.5 74.5 L59 88 L55 102 L-2 102Z" fill="#02030d"/><g filter="url(#bl2)"><path d="M33 44 L38 36 L43 27 L49 21.5 L58 19.5 L70 21 L74 27 L74 40 L71 54 L66 66 L58 60 L50 62 L46 52 L40 50Z" fill="#121a30"/><path d="M48 22 L58 19 L70 20.5 L73 24 L64 23 L54 24 L46 30 L41 38 L37 43 L33 46 L38 36 L43 27Z" fill="#b6a8c4"/><path d="M74 25 L77 32 L77 44 L74 56 L69 68 L65 74 L63 72 L68 60 L72 48 L73 36Z" fill="#b4d2f2"/><path d="M46 36 L52 31 L60 32 L65 37 L64 45 L58 48 L50 47 L47 42Z" fill="#33446a"/><g><circle cx="55.2" cy="58.6" r="1.0" fill="#060a18"/><circle cx="66.4" cy="54.6" r="1.1" fill="#060a18"/><circle cx="65.1" cy="51.0" r="1.2" fill="#060a18"/><circle cx="45.8" cy="25.2" r="0.6" fill="#5a6e94"/><circle cx="70.6" cy="38.3" r="0.8" fill="#8ea2c4"/><circle cx="59.3" cy="47.8" r="1.0" fill="#0a1024"/><circle cx="47.0" cy="41.4" r="0.5" fill="#060a18"/><circle cx="68.5" cy="27.5" r="0.9" fill="#060a18"/><circle cx="63.1" cy="33.6" r="0.6" fill="#5a6e94"/><circle cx="46.0" cy="52.7" r="0.7" fill="#060a18"/><circle cx="71.2" cy="42.8" r="0.8" fill="#0a1024"/><circle cx="69.0" cy="34.9" r="0.5" fill="#060a18"/><circle cx="59.9" cy="26.9" r="0.6" fill="#5a6e94"/><circle cx="60.2" cy="50.3" r="0.9" fill="#c4d4ec"/><circle cx="38.4" cy="26.3" r="0.7" fill="#060a18"/><circle cx="41.4" cy="32.3" r="0.8" fill="#060a18"/><circle cx="55.6" cy="41.7" r="0.8" fill="#8ea2c4"/><circle cx="71.8" cy="44.9" r="0.7" fill="#8ea2c4"/><circle cx="69.8" cy="24.7" r="0.8" fill="#060a18"/><circle cx="70.9" cy="41.1" r="0.7" fill="#c4d4ec"/><circle cx="69.2" cy="59.4" r="0.6" fill="#8ea2c4"/><circle cx="42.8" cy="43.9" r="1.2" fill="#c4d4ec"/><circle cx="58.5" cy="48.0" r="0.7" fill="#8ea2c4"/><circle cx="61.9" cy="32.8" r="1.1" fill="#0a1024"/><circle cx="51.4" cy="30.0" r="1.2" fill="#060a18"/><circle cx="53.3" cy="35.5" r="0.6" fill="#5a6e94"/><circle cx="50.8" cy="28.6" r="0.7" fill="#5a6e94"/><circle cx="63.5" cy="55.9" r="0.6" fill="#c4d4ec"/><circle cx="62.2" cy="58.3" r="0.7" fill="#5a6e94"/><circle cx="40.2" cy="38.8" r="1.1" fill="#8ea2c4"/><circle cx="50.3" cy="40.3" r="0.7" fill="#8ea2c4"/><circle cx="47.5" cy="26.0" r="1.0" fill="#060a18"/><circle cx="69.8" cy="33.5" r="0.7" fill="#060a18"/><circle cx="48.7" cy="53.4" r="1.0" fill="#0a1024"/><circle cx="68.1" cy="54.9" r="0.9" fill="#060a18"/><circle cx="56.7" cy="51.3" r="0.5" fill="#060a18"/><circle cx="52.0" cy="47.4" r="0.6" fill="#5a6e94"/><circle cx="54.5" cy="58.7" r="0.9" fill="#c4d4ec"/><circle cx="54.1" cy="37.1" r="0.7" fill="#060a18"/><circle cx="63.1" cy="48.8" r="0.8" fill="#c4d4ec"/><circle cx="48.2" cy="45.2" r="0.8" fill="#c4d4ec"/><circle cx="59.9" cy="26.9" r="0.9" fill="#0a1024"/><circle cx="56.7" cy="41.2" r="0.7" fill="#0a1024"/><circle cx="52.5" cy="44.8" r="0.7" fill="#c4d4ec"/><circle cx="49.6" cy="27.5" r="0.7" fill="#5a6e94"/><circle cx="65.5" cy="31.7" r="0.5" fill="#0a1024"/><circle cx="51.0" cy="52.3" r="0.6" fill="#5a6e94"/><circle cx="49.5" cy="26.4" r="0.7" fill="#5a6e94"/><circle cx="42.3" cy="43.1" r="0.9" fill="#c4d4ec"/><circle cx="41.1" cy="58.1" r="0.8" fill="#060a18"/><circle cx="53.2" cy="60.2" r="1.1" fill="#8ea2c4"/><circle cx="42.3" cy="40.2" r="1.0" fill="#0a1024"/><circle cx="70.9" cy="42.6" r="0.6" fill="#060a18"/><circle cx="67.1" cy="60.9" r="0.7" fill="#8ea2c4"/><circle cx="45.6" cy="29.8" r="1.2" fill="#8ea2c4"/><circle cx="70.0" cy="51.4" r="1.0" fill="#0a1024"/><circle cx="40.9" cy="53.5" r="0.5" fill="#c4d4ec"/><circle cx="45.9" cy="59.0" r="1.0" fill="#5a6e94"/><circle cx="70.7" cy="47.8" r="0.9" fill="#0a1024"/><circle cx="61.8" cy="28.3" r="0.5" fill="#060a18"/></g><ellipse cx="43" cy="27.5" rx="2.2" ry="2.6" fill="#04050c"/><ellipse cx="64" cy="28" rx="4.6" ry="2.8" fill="#04050c"/><ellipse cx="72.3" cy="25.7" rx="1.8" ry="2.2" fill="#04050c"/><path d="M52 24 L60 23 L62 27 L55 29Z" fill="#d8d0e0"/><path d="M46 52 L58 60 L66 66 L60 80 L50 76 L44 62Z" fill="#070a1c"/><path d="M-2 49 L28 45.5 L31 49 L-2 55Z" fill="#2c1a34"/><g><circle cx="42.5" cy="49.9" r="0.5" fill="#6a4a6a"/><circle cx="0.1" cy="55.1" r="0.9" fill="#2a1a3a"/><circle cx="43.2" cy="56.7" r="0.8" fill="#2a1a3a"/><circle cx="23.7" cy="55.2" r="0.4" fill="#2a1a3a"/><circle cx="31.7" cy="51.6" r="0.4" fill="#2a1a3a"/><circle cx="39.8" cy="56.7" r="0.4" fill="#4a2a4a"/><circle cx="30.0" cy="60.9" r="0.5" fill="#4a2a4a"/><circle cx="31.3" cy="57.8" r="0.6" fill="#2a1a3a"/><circle cx="8.9" cy="59.0" r="0.8" fill="#6a4a6a"/><circle cx="3.0" cy="54.4" r="0.5" fill="#4a2a4a"/><circle cx="10.4" cy="50.3" r="0.8" fill="#2a1a3a"/><circle cx="4.9" cy="56.4" r="0.7" fill="#4a2a4a"/><circle cx="21.8" cy="60.7" r="0.4" fill="#6a4a6a"/><circle cx="6.6" cy="52.9" r="0.5" fill="#6a4a6a"/><circle cx="6.4" cy="47.8" r="0.4" fill="#2a1a3a"/><circle cx="20.2" cy="57.7" r="0.6" fill="#4a2a4a"/><circle cx="44.9" cy="61.0" r="0.6" fill="#4a2a4a"/><circle cx="29.4" cy="54.9" r="0.6" fill="#2a1a3a"/><circle cx="29.9" cy="52.7" r="0.6" fill="#2a1a3a"/><circle cx="19.9" cy="48.6" r="0.4" fill="#4a2a4a"/><circle cx="15.8" cy="61.3" r="0.5" fill="#4a2a4a"/><circle cx="17.1" cy="58.5" r="0.6" fill="#2a1a3a"/><circle cx="3.9" cy="57.6" r="0.5" fill="#6a4a6a"/><circle cx="41.4" cy="49.9" r="0.6" fill="#2a1a3a"/><circle cx="1.4" cy="53.2" r="0.8" fill="#2a1a3a"/><circle cx="1.8" cy="47.5" r="0.4" fill="#4a2a4a"/><circle cx="11.6" cy="58.2" r="0.8" fill="#2a1a3a"/><circle cx="16.3" cy="52.0" r="0.9" fill="#4a2a4a"/><circle cx="11.8" cy="57.7" r="0.6" fill="#2a1a3a"/><circle cx="13.4" cy="57.8" r="0.7" fill="#6a4a6a"/></g></g><g filter="url(#bl2)"><path d="M-2 95 L8 92.5 L30 93 L48 96 L56 102 L-2 102Z" fill="#9cc0ea"/><g><circle cx="47.3" cy="93.5" r="1.0" fill="#d8e8f8"/><circle cx="23.8" cy="99.7" r="1.1" fill="#5a88c8"/><circle cx="39.5" cy="99.4" r="1.0" fill="#d8e8f8"/><circle cx="46.4" cy="94.3" r="1.0" fill="#ffffff"/><circle cx="15.2" cy="97.8" r="0.6" fill="#d8e8f8"/><circle cx="16.4" cy="95.2" r="0.7" fill="#ffffff"/><circle cx="4.0" cy="94.4" r="1.0" fill="#d8e8f8"/><circle cx="20.4" cy="97.5" r="0.8" fill="#ffffff"/><circle cx="16.3" cy="99.9" r="1.0" fill="#d8e8f8"/><circle cx="13.2" cy="93.6" r="0.6" fill="#5a88c8"/><circle cx="49.4" cy="99.8" r="0.6" fill="#d8e8f8"/><circle cx="20.8" cy="97.3" r="0.9" fill="#ffffff"/><circle cx="26.9" cy="98.4" r="1.0" fill="#5a88c8"/><circle cx="14.7" cy="97.0" r="0.7" fill="#ffffff"/><circle cx="13.0" cy="96.1" r="0.6" fill="#d8e8f8"/><circle cx="7.7" cy="99.2" r="0.8" fill="#5a88c8"/><circle cx="3.2" cy="94.8" r="0.6" fill="#ffffff"/><circle cx="11.6" cy="98.7" r="0.9" fill="#d8e8f8"/><circle cx="5.1" cy="96.3" r="1.0" fill="#5a88c8"/><circle cx="45.7" cy="93.3" r="0.7" fill="#d8e8f8"/><circle cx="2.5" cy="97.2" r="1.0" fill="#d8e8f8"/><circle cx="46.5" cy="95.6" r="1.0" fill="#5a88c8"/><circle cx="30.2" cy="98.4" r="0.9" fill="#d8e8f8"/><circle cx="5.3" cy="97.2" r="0.9" fill="#d8e8f8"/><circle cx="1.9" cy="95.4" r="0.5" fill="#5a88c8"/><circle cx="1.9" cy="98.1" r="1.0" fill="#d8e8f8"/><circle cx="40.9" cy="95.9" r="0.7" fill="#ffffff"/><circle cx="15.6" cy="94.4" r="1.0" fill="#ffffff"/><circle cx="24.2" cy="95.9" r="1.0" fill="#ffffff"/><circle cx="27.5" cy="97.5" r="0.6" fill="#d8e8f8"/></g><path d="M58.5 80 L64 73 L68.5 78 L69 90 L64 94 L59.5 92Z" fill="#b21a08"/></g><path d="M77 30 L84 36 M77 33 L85 41 M76.5 36 L83 45" stroke="#b8cce8" stroke-width="0.5" fill="none"/></g><g id="imB" clip-path="url(#sq)"><rect width="100" height="100" fill="#fdfdfd"/><g><circle cx="9.5" cy="29.3" r="2.4" fill="#f0e8b0"/><circle cx="10.0" cy="8.0" r="2.0" fill="#101010"/><circle cx="9.9" cy="4.8" r="2.0" fill="#101010"/><circle cx="15.5" cy="40.9" r="1.4" fill="#0a0a0a"/><circle cx="10.4" cy="18.2" r="1.0" fill="#1a2a10"/><circle cx="9.7" cy="88.6" r="1.5" fill="#d8c020"/><circle cx="3.1" cy="8.0" r="1.0" fill="#8aa030"/><circle cx="2.1" cy="63.4" r="1.4" fill="#050505"/><circle cx="4.1" cy="36.8" r="1.1" fill="#d8c020"/><circle cx="22.2" cy="13.6" r="1.6" fill="#6a8a20"/><circle cx="7.2" cy="84.2" r="0.9" fill="#e8e8d8"/><circle cx="7.5" cy="61.9" r="1.8" fill="#1a2a10"/><circle cx="21.7" cy="63.2" r="2.1" fill="#d8c020"/><circle cx="15.4" cy="86.1" r="1.8" fill="#e8901c"/><circle cx="20.3" cy="83.4" r="1.1" fill="#6a8a20"/><circle cx="1.0" cy="94.0" r="1.1" fill="#101010"/><circle cx="3.0" cy="27.0" r="2.0" fill="#6a8a20"/><circle cx="1.0" cy="57.5" r="2.0" fill="#0a0a0a"/><circle cx="16.0" cy="34.4" r="1.4" fill="#e8e8d8"/><circle cx="13.2" cy="63.8" r="1.3" fill="#8aa030"/><circle cx="7.4" cy="27.2" r="1.4" fill="#101010"/><circle cx="10.7" cy="45.5" r="0.8" fill="#e8901c"/><circle cx="23.7" cy="48.1" r="1.5" fill="#e8901c"/><circle cx="18.7" cy="47.5" r="1.1" fill="#e8e8d8"/><circle cx="9.6" cy="9.5" r="1.4" fill="#101010"/><circle cx="2.2" cy="45.9" r="1.6" fill="#0a0a0a"/><circle cx="1.0" cy="15.6" r="2.3" fill="#101010"/><circle cx="18.7" cy="52.6" r="0.9" fill="#050505"/><circle cx="21.5" cy="66.3" r="2.1" fill="#0a0a0a"/><circle cx="20.6" cy="99.6" r="2.0" fill="#1a2a10"/><circle cx="4.6" cy="98.2" r="1.6" fill="#d8c020"/><circle cx="16.5" cy="72.9" r="1.2" fill="#101010"/><circle cx="14.7" cy="27.5" r="1.3" fill="#e8901c"/><circle cx="6.6" cy="82.1" r="1.0" fill="#050505"/><circle cx="23.1" cy="49.6" r="1.7" fill="#e8901c"/><circle cx="12.1" cy="34.0" r="0.9" fill="#d8c020"/><circle cx="9.7" cy="64.7" r="1.2" fill="#101010"/><circle cx="21.5" cy="19.4" r="2.1" fill="#1a2a10"/><circle cx="18.4" cy="7.7" r="2.2" fill="#e8e8d8"/><circle cx="13.3" cy="59.3" r="2.2" fill="#1a2a10"/><circle cx="6.0" cy="55.0" r="2.2" fill="#101010"/><circle cx="6.4" cy="99.1" r="1.7" fill="#101010"/><circle cx="7.9" cy="10.9" r="1.2" fill="#e8901c"/><circle cx="17.8" cy="7.7" r="2.1" fill="#f0e8b0"/><circle cx="7.4" cy="96.7" r="2.2" fill="#101010"/><circle cx="17.6" cy="75.5" r="1.2" fill="#f0e8b0"/><circle cx="14.8" cy="44.9" r="1.6" fill="#0a0a0a"/><circle cx="3.2" cy="25.0" r="1.8" fill="#0a0a0a"/><circle cx="1.3" cy="58.0" r="1.3" fill="#050505"/><circle cx="8.6" cy="24.8" r="1.7" fill="#e8901c"/><circle cx="3.2" cy="38.5" r="2.1" fill="#d8c020"/><circle cx="3.2" cy="93.8" r="1.2" fill="#d8c020"/><circle cx="10.8" cy="9.2" r="1.0" fill="#f0e8b0"/><circle cx="9.6" cy="28.6" r="0.8" fill="#050505"/><circle cx="21.4" cy="60.7" r="1.7" fill="#e8901c"/><circle cx="22.5" cy="74.2" r="1.2" fill="#0a0a0a"/><circle cx="1.1" cy="54.6" r="1.4" fill="#6a8a20"/><circle cx="3.8" cy="91.4" r="1.0" fill="#e8901c"/><circle cx="13.2" cy="94.3" r="1.0" fill="#6a8a20"/><circle cx="12.4" cy="65.3" r="1.8" fill="#8aa030"/><circle cx="19.5" cy="19.9" r="1.3" fill="#f0e8b0"/><circle cx="15.0" cy="99.4" r="2.0" fill="#e8e8d8"/><circle cx="17.2" cy="3.6" r="2.2" fill="#e8e8d8"/><circle cx="1.9" cy="66.6" r="1.1" fill="#1a2a10"/><circle cx="6.3" cy="65.5" r="1.0" fill="#f0e8b0"/><circle cx="17.1" cy="28.8" r="1.7" fill="#8aa030"/><circle cx="16.5" cy="92.0" r="2.4" fill="#f0e8b0"/><circle cx="15.4" cy="96.6" r="1.1" fill="#050505"/><circle cx="0.4" cy="28.3" r="1.2" fill="#6a8a20"/><circle cx="22.7" cy="75.4" r="1.3" fill="#8aa030"/><circle cx="7.9" cy="26.2" r="2.3" fill="#050505"/><circle cx="11.3" cy="84.5" r="1.9" fill="#0a0a0a"/><circle cx="10.5" cy="73.3" r="1.7" fill="#f0e8b0"/><circle cx="18.9" cy="41.0" r="1.7" fill="#e8901c"/><circle cx="21.9" cy="17.0" r="0.8" fill="#1a2a10"/><circle cx="14.9" cy="18.7" r="2.4" fill="#0a0a0a"/><circle cx="0.7" cy="16.4" r="1.8" fill="#0a0a0a"/><circle cx="16.7" cy="74.5" r="0.9" fill="#e8901c"/><circle cx="18.3" cy="22.3" r="2.3" fill="#050505"/><circle cx="21.4" cy="9.4" r="2.2" fill="#8aa030"/><circle cx="2.6" cy="23.0" r="1.0" fill="#0a0a0a"/><circle cx="22.8" cy="91.4" r="2.0" fill="#1a2a10"/><circle cx="19.8" cy="64.3" r="1.3" fill="#1a2a10"/><circle cx="3.2" cy="79.8" r="1.8" fill="#f0e8b0"/><circle cx="7.7" cy="44.1" r="0.8" fill="#f0e8b0"/><circle cx="22.3" cy="7.7" r="2.0" fill="#101010"/><circle cx="18.5" cy="61.4" r="1.6" fill="#f0e8b0"/><circle cx="14.8" cy="6.0" r="1.5" fill="#8aa030"/><circle cx="12.4" cy="12.5" r="1.6" fill="#0a0a0a"/><circle cx="12.9" cy="24.0" r="2.2" fill="#1a2a10"/><circle cx="13.8" cy="30.8" r="1.5" fill="#050505"/><circle cx="4.8" cy="76.9" r="2.4" fill="#0a0a0a"/><circle cx="8.3" cy="12.3" r="1.9" fill="#d8c020"/><circle cx="23.2" cy="60.5" r="2.3" fill="#050505"/><circle cx="6.3" cy="94.6" r="1.3" fill="#6a8a20"/><circle cx="22.5" cy="25.5" r="1.1" fill="#1a2a10"/><circle cx="11.8" cy="99.1" r="1.7" fill="#1a2a10"/><circle cx="15.1" cy="37.5" r="1.4" fill="#8aa030"/><circle cx="21.4" cy="75.3" r="1.5" fill="#0a0a0a"/><circle cx="8.9" cy="32.4" r="1.5" fill="#050505"/><circle cx="12.0" cy="39.8" r="2.2" fill="#6a8a20"/><circle cx="22.7" cy="15.3" r="1.8" fill="#e8901c"/><circle cx="15.5" cy="36.8" r="1.3" fill="#d8c020"/><circle cx="20.8" cy="46.7" r="1.7" fill="#101010"/><circle cx="4.1" cy="45.6" r="2.0" fill="#e8901c"/><circle cx="5.5" cy="35.4" r="1.8" fill="#6a8a20"/><circle cx="12.2" cy="28.9" r="2.0" fill="#e8901c"/><circle cx="3.7" cy="18.1" r="1.2" fill="#101010"/><circle cx="14.5" cy="36.8" r="1.2" fill="#6a8a20"/><circle cx="6.2" cy="95.6" r="2.4" fill="#d8c020"/><circle cx="23.1" cy="12.9" r="1.4" fill="#d8c020"/><circle cx="19.1" cy="74.1" r="1.5" fill="#6a8a20"/><circle cx="2.6" cy="91.4" r="1.2" fill="#8aa030"/><circle cx="11.1" cy="4.2" r="2.2" fill="#8aa030"/><circle cx="16.6" cy="51.5" r="1.8" fill="#e8e8d8"/><circle cx="0.5" cy="27.9" r="2.0" fill="#0a0a0a"/><circle cx="17.8" cy="91.1" r="1.5" fill="#e8901c"/><circle cx="14.1" cy="65.8" r="2.2" fill="#e8901c"/><circle cx="20.5" cy="68.9" r="1.8" fill="#e8e8d8"/><circle cx="10.4" cy="28.2" r="1.9" fill="#8aa030"/></g><g><circle cx="59.1" cy="18.0" r="1.8" fill="#d0e0f4"/><circle cx="59.5" cy="19.1" r="1.4" fill="#1a2030"/><circle cx="92.4" cy="23.3" r="1.7" fill="#7a98c8"/><circle cx="55.9" cy="29.5" r="1.9" fill="#e8d0c0"/><circle cx="90.9" cy="40.9" r="0.9" fill="#8aa8d8"/><circle cx="75.3" cy="7.2" r="1.9" fill="#d0e0f4"/><circle cx="74.0" cy="4.5" r="1.6" fill="#1a2030"/><circle cx="57.1" cy="21.4" r="0.7" fill="#7a98c8"/><circle cx="90.8" cy="23.5" r="1.3" fill="#e8d0c0"/><circle cx="57.3" cy="30.8" r="1.3" fill="#7a98c8"/><circle cx="96.4" cy="32.8" r="1.6" fill="#c8d8f0"/><circle cx="49.1" cy="12.3" r="1.3" fill="#b8d0ec"/><circle cx="50.1" cy="41.2" r="1.6" fill="#c8d8f0"/><circle cx="65.0" cy="11.9" r="1.0" fill="#c8d8f0"/><circle cx="67.6" cy="42.9" r="2.2" fill="#7a98c8"/><circle cx="97.9" cy="20.8" r="0.9" fill="#7a98c8"/><circle cx="49.7" cy="35.9" r="1.0" fill="#c8d8f0"/><circle cx="76.4" cy="10.2" r="2.1" fill="#8aa8d8"/><circle cx="82.0" cy="37.4" r="1.9" fill="#e8d0c0"/><circle cx="71.3" cy="13.2" r="1.5" fill="#d0e0f4"/><circle cx="88.1" cy="21.1" r="1.9" fill="#d0e0f4"/><circle cx="60.4" cy="16.9" r="1.1" fill="#e8d0c0"/><circle cx="82.7" cy="21.7" r="1.9" fill="#7a98c8"/><circle cx="61.2" cy="11.0" r="1.2" fill="#e8d0c0"/><circle cx="72.2" cy="28.1" r="0.8" fill="#8aa8d8"/><circle cx="54.2" cy="13.6" r="1.3" fill="#b8d0ec"/><circle cx="90.7" cy="40.8" r="1.9" fill="#d0e0f4"/><circle cx="74.7" cy="15.5" r="1.6" fill="#c8d8f0"/><circle cx="46.6" cy="42.8" r="1.7" fill="#8aa8d8"/><circle cx="78.8" cy="26.0" r="2.0" fill="#d0e0f4"/><circle cx="87.9" cy="15.6" r="0.9" fill="#e8d0c0"/><circle cx="88.8" cy="7.6" r="2.0" fill="#1a2030"/><circle cx="98.8" cy="4.1" r="2.1" fill="#1a2030"/><circle cx="88.6" cy="37.7" r="1.0" fill="#c8d8f0"/><circle cx="57.5" cy="3.5" r="2.0" fill="#c8d8f0"/><circle cx="93.7" cy="25.0" r="1.1" fill="#d0e0f4"/><circle cx="90.7" cy="21.3" r="1.5" fill="#e8d0c0"/><circle cx="71.2" cy="6.5" r="1.4" fill="#e8d0c0"/><circle cx="54.9" cy="27.0" r="1.8" fill="#d0e0f4"/><circle cx="91.4" cy="21.1" r="1.5" fill="#c8d8f0"/><circle cx="62.0" cy="21.0" r="1.3" fill="#c8d8f0"/><circle cx="50.1" cy="28.7" r="1.7" fill="#b8d0ec"/><circle cx="47.1" cy="2.1" r="1.8" fill="#8aa8d8"/><circle cx="89.7" cy="4.2" r="1.4" fill="#7a98c8"/><circle cx="94.5" cy="1.5" r="1.8" fill="#c8d8f0"/><circle cx="52.9" cy="4.3" r="1.7" fill="#8aa8d8"/><circle cx="71.6" cy="23.6" r="1.9" fill="#d0e0f4"/><circle cx="61.3" cy="15.4" r="1.1" fill="#b8d0ec"/><circle cx="90.6" cy="13.2" r="1.9" fill="#e8d0c0"/><circle cx="64.0" cy="44.3" r="2.0" fill="#8aa8d8"/><circle cx="98.6" cy="29.5" r="1.9" fill="#8aa8d8"/><circle cx="56.4" cy="32.1" r="0.9" fill="#c8d8f0"/><circle cx="50.7" cy="44.8" r="1.3" fill="#1a2030"/><circle cx="93.8" cy="24.5" r="0.8" fill="#8aa8d8"/><circle cx="51.9" cy="2.1" r="1.9" fill="#e8d0c0"/><circle cx="78.9" cy="29.6" r="1.9" fill="#1a2030"/><circle cx="79.0" cy="27.8" r="1.6" fill="#c8d8f0"/><circle cx="83.2" cy="39.4" r="0.8" fill="#b8d0ec"/><circle cx="82.0" cy="20.6" r="1.8" fill="#b8d0ec"/><circle cx="81.8" cy="39.1" r="1.3" fill="#b8d0ec"/></g><g><circle cx="96.9" cy="63.0" r="1.0" fill="#a8c0e8"/><circle cx="69.0" cy="50.8" r="1.3" fill="#a8c0e8"/><circle cx="74.9" cy="54.8" r="0.9" fill="#c0d0ec"/><circle cx="84.4" cy="60.2" r="1.5" fill="#c0d0ec"/><circle cx="84.4" cy="41.4" r="0.7" fill="#a8c0e8"/><circle cx="79.2" cy="64.3" r="1.0" fill="#d8e4f4"/><circle cx="64.5" cy="53.5" r="1.2" fill="#e8a050"/><circle cx="99.3" cy="56.6" r="1.0" fill="#d8e4f4"/><circle cx="67.0" cy="56.5" r="1.5" fill="#e8a050"/><circle cx="64.6" cy="40.2" r="1.3" fill="#d8e4f4"/><circle cx="99.5" cy="70.0" r="0.8" fill="#d8e4f4"/><circle cx="68.6" cy="40.6" r="1.3" fill="#e8c8b8"/><circle cx="80.2" cy="66.0" r="1.5" fill="#f0d8a0"/><circle cx="91.9" cy="65.0" r="1.5" fill="#e8a050"/><circle cx="91.3" cy="50.3" r="1.2" fill="#c0d0ec"/><circle cx="80.6" cy="72.6" r="0.9" fill="#d8e4f4"/><circle cx="89.8" cy="40.4" r="0.6" fill="#e8a050"/><circle cx="88.7" cy="61.6" r="1.0" fill="#f0d8a0"/><circle cx="90.3" cy="45.8" r="1.5" fill="#c0d0ec"/><circle cx="85.9" cy="51.1" r="1.5" fill="#e8a050"/><circle cx="79.8" cy="63.7" r="0.7" fill="#a8c0e8"/><circle cx="68.2" cy="73.4" r="0.8" fill="#a8c0e8"/><circle cx="79.0" cy="53.5" r="1.4" fill="#f0d8a0"/><circle cx="92.2" cy="59.8" r="0.9" fill="#d8e4f4"/><circle cx="86.4" cy="62.8" r="1.4" fill="#e04030"/><circle cx="76.0" cy="61.2" r="1.6" fill="#a8c0e8"/><circle cx="69.4" cy="69.1" r="1.2" fill="#e8c8b8"/><circle cx="77.6" cy="64.0" r="1.2" fill="#e8c8b8"/><circle cx="93.1" cy="49.9" r="0.6" fill="#f0d8a0"/><circle cx="73.6" cy="45.5" r="1.5" fill="#a8c0e8"/><circle cx="95.9" cy="41.5" r="1.4" fill="#a8c0e8"/><circle cx="96.1" cy="74.7" r="0.7" fill="#a8c0e8"/><circle cx="92.7" cy="59.2" r="1.4" fill="#c0d0ec"/><circle cx="76.5" cy="43.0" r="1.2" fill="#a8c0e8"/><circle cx="77.7" cy="67.6" r="1.3" fill="#e8c8b8"/><circle cx="75.1" cy="42.0" r="1.0" fill="#e8a050"/><circle cx="71.4" cy="48.9" r="1.4" fill="#a8c0e8"/><circle cx="77.9" cy="58.9" r="1.1" fill="#f0d8a0"/><circle cx="91.8" cy="48.2" r="1.2" fill="#f0d8a0"/><circle cx="95.9" cy="58.3" r="1.1" fill="#e04030"/><circle cx="71.3" cy="47.4" r="0.7" fill="#a8c0e8"/><circle cx="89.2" cy="52.7" r="1.2" fill="#c0d0ec"/><circle cx="92.1" cy="70.0" r="0.8" fill="#c0d0ec"/><circle cx="77.5" cy="43.7" r="1.2" fill="#a8c0e8"/><circle cx="66.9" cy="51.1" r="0.6" fill="#f0d8a0"/><circle cx="82.7" cy="40.7" r="0.6" fill="#a8c0e8"/></g><rect x="74" y="73" width="26" height="27" fill="#bccaf2"/><g><circle cx="96.0" cy="84.6" r="1.4" fill="#6a80d0"/><circle cx="97.8" cy="78.4" r="0.8" fill="#e8ecfa"/><circle cx="93.0" cy="94.6" r="2.0" fill="#6a80d0"/><circle cx="95.3" cy="80.2" r="2.0" fill="#e8ecfa"/><circle cx="72.5" cy="71.5" r="1.4" fill="#4a60c0"/><circle cx="91.2" cy="84.6" r="1.8" fill="#8a9ce0"/><circle cx="95.9" cy="89.2" r="1.9" fill="#ffffff"/><circle cx="98.8" cy="77.7" r="1.4" fill="#ffffff"/><circle cx="72.7" cy="97.6" r="1.4" fill="#ffffff"/><circle cx="83.5" cy="74.8" r="2.0" fill="#ffffff"/><circle cx="76.7" cy="71.2" r="1.0" fill="#6a80d0"/><circle cx="71.8" cy="86.6" r="0.7" fill="#8a9ce0"/><circle cx="77.7" cy="85.4" r="1.7" fill="#4a60c0"/><circle cx="99.6" cy="71.7" r="0.9" fill="#4a60c0"/><circle cx="70.2" cy="76.0" r="1.7" fill="#a8b8ec"/><circle cx="87.7" cy="92.7" r="0.8" fill="#6a80d0"/><circle cx="81.2" cy="81.7" r="1.2" fill="#e8ecfa"/><circle cx="75.1" cy="77.2" r="0.9" fill="#ffffff"/><circle cx="96.8" cy="84.0" r="1.9" fill="#4a60c0"/><circle cx="71.1" cy="97.8" r="1.0" fill="#a8b8ec"/><circle cx="96.0" cy="96.7" r="0.9" fill="#e8ecfa"/><circle cx="98.7" cy="97.8" r="1.2" fill="#8a9ce0"/><circle cx="88.9" cy="83.6" r="1.1" fill="#4a60c0"/><circle cx="77.0" cy="73.5" r="1.2" fill="#6a80d0"/><circle cx="76.6" cy="71.7" r="1.6" fill="#a8b8ec"/><circle cx="96.7" cy="83.2" r="0.9" fill="#e8ecfa"/><circle cx="82.4" cy="74.7" r="1.1" fill="#4a60c0"/><circle cx="78.9" cy="94.1" r="1.0" fill="#8a9ce0"/><circle cx="79.5" cy="97.1" r="0.8" fill="#a8b8ec"/><circle cx="71.7" cy="96.9" r="1.6" fill="#ffffff"/><circle cx="86.8" cy="95.1" r="0.9" fill="#4a60c0"/><circle cx="76.0" cy="80.9" r="2.0" fill="#ffffff"/><circle cx="97.8" cy="72.9" r="1.1" fill="#ffffff"/><circle cx="71.7" cy="91.8" r="1.1" fill="#ffffff"/><circle cx="70.5" cy="94.2" r="1.1" fill="#ffffff"/><circle cx="83.3" cy="93.7" r="1.9" fill="#6a80d0"/><circle cx="75.6" cy="83.1" r="1.9" fill="#ffffff"/><circle cx="78.3" cy="75.4" r="1.8" fill="#a8b8ec"/><circle cx="93.1" cy="91.3" r="1.0" fill="#8a9ce0"/><circle cx="94.9" cy="96.7" r="1.7" fill="#4a60c0"/><circle cx="78.2" cy="76.2" r="1.5" fill="#ffffff"/><circle cx="88.9" cy="75.8" r="1.1" fill="#8a9ce0"/><circle cx="72.0" cy="92.0" r="1.2" fill="#ffffff"/><circle cx="97.5" cy="85.6" r="1.2" fill="#6a80d0"/><circle cx="95.3" cy="95.9" r="1.3" fill="#8a9ce0"/><circle cx="82.3" cy="92.9" r="0.9" fill="#ffffff"/><circle cx="78.0" cy="75.6" r="1.8" fill="#6a80d0"/><circle cx="71.1" cy="91.1" r="1.4" fill="#4a60c0"/><circle cx="70.1" cy="85.6" r="1.3" fill="#a8b8ec"/><circle cx="72.1" cy="80.7" r="1.0" fill="#4a60c0"/><circle cx="96.0" cy="79.6" r="1.6" fill="#e8ecfa"/><circle cx="87.3" cy="96.9" r="1.1" fill="#8a9ce0"/><circle cx="98.6" cy="84.8" r="1.4" fill="#a8b8ec"/><circle cx="94.1" cy="74.0" r="1.0" fill="#8a9ce0"/><circle cx="76.7" cy="75.5" r="0.8" fill="#6a80d0"/><circle cx="86.7" cy="98.7" r="0.7" fill="#ffffff"/><circle cx="92.2" cy="77.8" r="1.8" fill="#ffffff"/><circle cx="87.3" cy="85.7" r="1.6" fill="#8a9ce0"/><circle cx="80.5" cy="72.8" r="0.9" fill="#6a80d0"/><circle cx="73.7" cy="84.8" r="1.4" fill="#6a80d0"/><circle cx="73.3" cy="73.6" r="1.8" fill="#a8b8ec"/><circle cx="87.8" cy="95.8" r="0.9" fill="#a8b8ec"/><circle cx="83.9" cy="81.9" r="1.9" fill="#8a9ce0"/><circle cx="98.1" cy="81.7" r="1.2" fill="#4a60c0"/><circle cx="88.1" cy="71.1" r="2.0" fill="#8a9ce0"/><circle cx="93.3" cy="80.2" r="1.0" fill="#6a80d0"/><circle cx="91.5" cy="95.3" r="1.4" fill="#6a80d0"/><circle cx="94.5" cy="95.4" r="0.8" fill="#a8b8ec"/><circle cx="74.4" cy="90.4" r="1.2" fill="#4a60c0"/><circle cx="82.7" cy="89.0" r="1.2" fill="#a8b8ec"/><circle cx="75.6" cy="79.7" r="1.0" fill="#ffffff"/><circle cx="70.6" cy="74.2" r="2.0" fill="#4a60c0"/><circle cx="99.9" cy="83.6" r="0.8" fill="#8a9ce0"/><circle cx="71.0" cy="89.2" r="1.0" fill="#ffffff"/><circle cx="88.7" cy="88.8" r="1.7" fill="#8a9ce0"/><circle cx="88.6" cy="77.5" r="1.4" fill="#e8ecfa"/><circle cx="77.1" cy="71.2" r="0.8" fill="#6a80d0"/><circle cx="89.4" cy="73.6" r="1.5" fill="#a8b8ec"/><circle cx="97.0" cy="72.5" r="1.5" fill="#ffffff"/><circle cx="83.2" cy="85.3" r="1.9" fill="#e8ecfa"/><circle cx="87.3" cy="78.2" r="1.7" fill="#ffffff"/><circle cx="86.4" cy="95.2" r="1.5" fill="#a8b8ec"/><circle cx="76.6" cy="81.6" r="1.4" fill="#6a80d0"/><circle cx="83.8" cy="86.4" r="1.5" fill="#e8ecfa"/><circle cx="94.6" cy="70.9" r="1.1" fill="#ffffff"/><circle cx="85.4" cy="81.5" r="1.5" fill="#8a9ce0"/><circle cx="97.7" cy="74.9" r="1.9" fill="#6a80d0"/><circle cx="86.7" cy="84.7" r="1.1" fill="#ffffff"/><circle cx="78.9" cy="93.2" r="0.9" fill="#8a9ce0"/><circle cx="88.2" cy="80.4" r="1.6" fill="#a8b8ec"/><circle cx="81.6" cy="83.2" r="1.7" fill="#8a9ce0"/><circle cx="85.6" cy="99.7" r="1.6" fill="#ffffff"/><circle cx="82.5" cy="90.0" r="0.9" fill="#ffffff"/><circle cx="88.5" cy="95.5" r="1.8" fill="#a8b8ec"/><circle cx="72.9" cy="95.7" r="1.9" fill="#e8ecfa"/><circle cx="78.1" cy="88.9" r="1.5" fill="#ffffff"/><circle cx="73.8" cy="96.1" r="0.7" fill="#4a60c0"/><circle cx="86.5" cy="73.5" r="1.2" fill="#a8b8ec"/><circle cx="74.5" cy="95.5" r="1.1" fill="#a8b8ec"/><circle cx="88.2" cy="81.4" r="1.3" fill="#e8ecfa"/><circle cx="78.6" cy="80.6" r="1.2" fill="#a8b8ec"/><circle cx="86.7" cy="81.5" r="1.1" fill="#4a60c0"/><circle cx="92.4" cy="99.7" r="1.2" fill="#6a80d0"/><circle cx="75.5" cy="79.1" r="0.9" fill="#a8b8ec"/><circle cx="81.3" cy="77.0" r="1.8" fill="#6a80d0"/><circle cx="79.7" cy="95.3" r="1.8" fill="#6a80d0"/><circle cx="76.1" cy="82.8" r="1.9" fill="#8a9ce0"/><circle cx="70.8" cy="77.7" r="1.9" fill="#6a80d0"/><circle cx="97.6" cy="93.2" r="1.4" fill="#e8ecfa"/><circle cx="85.5" cy="85.5" r="1.6" fill="#e8ecfa"/><circle cx="83.9" cy="71.2" r="1.6" fill="#e8ecfa"/><circle cx="98.4" cy="90.3" r="1.4" fill="#8a9ce0"/><circle cx="82.3" cy="85.0" r="1.5" fill="#a8b8ec"/><circle cx="74.6" cy="75.6" r="1.2" fill="#e8ecfa"/><circle cx="83.2" cy="88.7" r="2.0" fill="#6a80d0"/><circle cx="90.7" cy="92.4" r="0.8" fill="#6a80d0"/><circle cx="79.5" cy="99.4" r="1.8" fill="#a8b8ec"/><circle cx="75.3" cy="89.7" r="1.1" fill="#6a80d0"/><circle cx="94.6" cy="99.7" r="1.9" fill="#e8ecfa"/><circle cx="88.9" cy="85.7" r="1.8" fill="#ffffff"/></g><path d="M86 -1 L101 -1 L101 8 L94 9 L88 5Z" fill="#141a2a"/><path d="M44 -1 L62 -1 L58 6 L50 9Z" fill="#20283a"/><path d="M92 59 l3 -2 l1.5 2.5 l-2 3 l-3 1Z" fill="#e03a2a"/><path d="M49 20 L58 23 L66 33 L70 46 L72 60 L66 56 L60 46 L54 34Z" fill="#1e34c0"/><g><circle cx="61.6" cy="29.1" r="0.9" fill="#0a0a20"/><circle cx="62.7" cy="26.1" r="1.3" fill="#0a0a20"/><circle cx="64.1" cy="23.6" r="1.1" fill="#ffffff"/><circle cx="57.8" cy="48.2" r="0.7" fill="#101a60"/><circle cx="59.6" cy="25.7" r="0.7" fill="#ffffff"/><circle cx="55.7" cy="40.9" r="1.3" fill="#101a60"/><circle cx="68.6" cy="56.0" r="1.2" fill="#8aa0f0"/><circle cx="62.9" cy="37.6" r="0.8" fill="#8aa0f0"/><circle cx="61.9" cy="41.4" r="0.7" fill="#ffffff"/><circle cx="55.2" cy="41.9" r="1.5" fill="#ffffff"/><circle cx="60.2" cy="52.4" r="1.4" fill="#0a0a20"/><circle cx="66.6" cy="34.3" r="1.4" fill="#101a60"/><circle cx="57.2" cy="23.2" r="1.3" fill="#ffffff"/><circle cx="53.2" cy="29.3" r="1.3" fill="#ffffff"/><circle cx="53.0" cy="55.8" r="1.3" fill="#ffffff"/><circle cx="60.4" cy="45.6" r="0.9" fill="#ffffff"/><circle cx="55.0" cy="44.3" r="0.9" fill="#ffffff"/><circle cx="69.1" cy="53.0" r="1.0" fill="#ffffff"/><circle cx="56.8" cy="55.7" r="1.7" fill="#ffffff"/><circle cx="56.6" cy="36.8" r="1.4" fill="#8aa0f0"/><circle cx="59.9" cy="37.1" r="1.4" fill="#ffffff"/><circle cx="67.1" cy="31.2" r="0.9" fill="#101a60"/><circle cx="59.2" cy="22.3" r="1.6" fill="#f0d070"/><circle cx="62.7" cy="26.4" r="1.2" fill="#f0d070"/><circle cx="58.4" cy="46.7" r="1.7" fill="#f0d070"/><circle cx="67.7" cy="35.3" r="0.9" fill="#8aa0f0"/></g><path d="M-1 -1 L45 -1 L48 16 L55 27.5 L61.5 41 L67.5 52 L70.5 65.5 L73 79 L76 101 L38 101 L36 89 L34 78 L30 68 L27 63 L22.5 52 L18 38.5 L16 20 L17 4 L-1 4Z" fill="#020208"/><path d="M14 74 Q15 65 25 65.5 L36 68 L39 101 L21 101 L17 92 L14 84Z" fill="#070a26"/><ellipse cx="29.8" cy="84" rx="4.2" ry="7.4" fill="#fff"/><g><circle cx="20.6" cy="77.7" r="0.8" fill="#c8d0f0"/><circle cx="23.0" cy="77.6" r="0.6" fill="#20285a"/><circle cx="16.6" cy="73.1" r="0.9" fill="#4a5aa8"/><circle cx="21.7" cy="81.5" r="1.1" fill="#4a5aa8"/><circle cx="16.9" cy="77.9" r="1.0" fill="#c8d0f0"/><circle cx="22.6" cy="85.0" r="0.7" fill="#c8d0f0"/><circle cx="21.1" cy="74.0" r="0.8" fill="#4a5aa8"/><circle cx="26.3" cy="97.9" r="0.9" fill="#c8d0f0"/><circle cx="22.1" cy="78.4" r="0.7" fill="#20285a"/><circle cx="21.1" cy="70.9" r="1.0" fill="#20285a"/><circle cx="21.2" cy="83.8" r="0.7" fill="#c8d0f0"/><circle cx="15.3" cy="89.3" r="0.6" fill="#4a5aa8"/><circle cx="19.7" cy="69.7" r="0.6" fill="#4a5aa8"/><circle cx="18.9" cy="87.5" r="0.6" fill="#20285a"/></g><g><circle cx="72.7" cy="96.5" r="1.8" fill="#ffffff"/><circle cx="40.5" cy="87.6" r="1.0" fill="#ffffff"/><circle cx="69.0" cy="89.2" r="1.2" fill="#8a9ae0"/><circle cx="67.4" cy="97.9" r="2.0" fill="#ffffff"/><circle cx="73.6" cy="85.2" r="1.2" fill="#18246a"/><circle cx="64.3" cy="98.1" r="0.6" fill="#18246a"/><circle cx="64.6" cy="86.5" r="2.0" fill="#16205a"/><circle cx="72.4" cy="83.8" r="1.1" fill="#16205a"/><circle cx="72.7" cy="95.2" r="1.7" fill="#2a3a9a"/><circle cx="53.4" cy="93.0" r="1.3" fill="#16205a"/><circle cx="43.9" cy="95.3" r="1.5" fill="#18246a"/><circle cx="62.3" cy="85.2" r="1.9" fill="#101a4a"/><circle cx="56.9" cy="91.4" r="2.1" fill="#18246a"/><circle cx="64.0" cy="88.3" r="0.6" fill="#18246a"/><circle cx="48.9" cy="82.8" r="2.0" fill="#101a4a"/><circle cx="64.4" cy="99.5" r="1.7" fill="#2a3a9a"/><circle cx="68.1" cy="85.8" r="2.1" fill="#18246a"/><circle cx="72.7" cy="89.5" r="1.8" fill="#18246a"/><circle cx="61.4" cy="86.0" r="1.4" fill="#16205a"/><circle cx="74.0" cy="89.6" r="2.1" fill="#18246a"/><circle cx="57.1" cy="94.4" r="1.9" fill="#18246a"/><circle cx="55.2" cy="83.0" r="1.7" fill="#8a9ae0"/><circle cx="63.6" cy="97.2" r="1.8" fill="#8a9ae0"/><circle cx="67.0" cy="82.8" r="1.7" fill="#101a4a"/><circle cx="47.9" cy="91.8" r="2.2" fill="#18246a"/><circle cx="47.0" cy="86.7" r="2.1" fill="#ffffff"/><circle cx="51.6" cy="89.4" r="0.9" fill="#16205a"/><circle cx="43.2" cy="94.4" r="1.4" fill="#8a9ae0"/><circle cx="47.0" cy="86.4" r="1.4" fill="#8a9ae0"/><circle cx="43.1" cy="93.5" r="1.7" fill="#ffffff"/><circle cx="71.6" cy="84.6" r="1.5" fill="#16205a"/><circle cx="61.9" cy="84.1" r="1.3" fill="#ffffff"/><circle cx="63.7" cy="84.8" r="2.2" fill="#8a9ae0"/><circle cx="69.6" cy="84.1" r="1.1" fill="#16205a"/></g><ellipse cx="36.5" cy="13" rx="2.6" ry="1.4" transform="rotate(-10 36.5 13)" fill="#f6e400"/><ellipse cx="40.5" cy="5.5" rx="2.0" ry="1.2" transform="rotate(30 40.5 5.5)" fill="#f6e400"/><ellipse cx="33.5" cy="5.5" rx="1.8" ry="1.0" transform="rotate(-30 33.5 5.5)" fill="#f6e400"/><ellipse cx="19" cy="17.5" rx="2.2" ry="1.8" transform="rotate(0 19 17.5)" fill="#f6e400"/><ellipse cx="25.5" cy="17" rx="2.2" ry="1.0" transform="rotate(-30 25.5 17)" fill="#f6e400"/><ellipse cx="38.5" cy="22.5" rx="3.0" ry="1.3" transform="rotate(30 38.5 22.5)" fill="#f6e400"/><ellipse cx="42.5" cy="28" rx="3.0" ry="1.5" transform="rotate(35 42.5 28)" fill="#f6e400"/><ellipse cx="23.5" cy="28.5" rx="2.2" ry="1.4" transform="rotate(-35 23.5 28.5)" fill="#f6e400"/><ellipse cx="24.5" cy="35" rx="3.2" ry="2.4" transform="rotate(-35 24.5 35)" fill="#f6e400"/><ellipse cx="46" cy="35" rx="3.2" ry="1.9" transform="rotate(30 46 35)" fill="#f6e400"/><ellipse cx="51" cy="43" rx="3.4" ry="1.5" transform="rotate(45 51 43)" fill="#f6e400"/><ellipse cx="36" cy="48" rx="3.4" ry="2.0" transform="rotate(-40 36 48)" fill="#f6e400"/><ellipse cx="54.5" cy="50.5" rx="3.8" ry="1.8" transform="rotate(40 54.5 50.5)" fill="#f6e400"/><ellipse cx="39.5" cy="56" rx="3.6" ry="2.0" transform="rotate(-55 39.5 56)" fill="#f6e400"/><ellipse cx="60.5" cy="62.5" rx="3.2" ry="1.9" transform="rotate(30 60.5 62.5)" fill="#f6e400"/><ellipse cx="37.5" cy="73.5" rx="3.9" ry="2.1" transform="rotate(-50 37.5 73.5)" fill="#f6e400"/><ellipse cx="68" cy="72" rx="3.8" ry="1.7" transform="rotate(55 68 72)" fill="#f6e400"/><ellipse cx="63.5" cy="86" rx="1.7" ry="1.6" transform="rotate(0 63.5 86)" fill="#f6e400"/><ellipse cx="16" cy="75.5" rx="1.5" ry="1.5" transform="rotate(0 16 75.5)" fill="#f6e400"/><ellipse cx="5" cy="11.5" rx="1.9" ry="1.6" transform="rotate(0 5 11.5)" fill="#f6e400"/><path d="M19.5 64 l4.5 -2.5 l2.5 3 l-4 3.5Z" fill="#e04020"/></g><g id="imC" clip-path="url(#sq)"><rect width="100" height="100" fill="#0a36c2"/><path d="M0 14 Q14 40 22 66 Q27 86 34 100 L0 100Z" fill="#0830b4"/><path d="M60 0 L100 0 L100 40Z" fill="#0c3cc8"/><g id="imCf"><path d="M6 -3 C14 3 20 9 24 16 C29 25 31 34 35 43 C39 53 44 62 48 70 C52 79 55 88 59 102" stroke="#3a2618" stroke-width="8" fill="none"/><path d="M6 -3 C14 3 20 9 24 16 C29 25 31 34 35 43 C39 53 44 62 48 70 C52 79 55 88 59 102" stroke="#b8a284" stroke-width="6" fill="none" transform="translate(-1,0.4)"/><path d="M6 -3 C14 3 20 9 24 16 C29 25 31 34 35 43 C39 53 44 62 48 70 C52 79 55 88 59 102" stroke="#e0d4bc" stroke-width="2.6" fill="none" stroke-dasharray="1.3 1.7" transform="translate(-2.2,0.8)"/><path d="M6 -3 C14 3 20 9 24 16 C29 25 31 34 35 43 C39 53 44 62 48 70 C52 79 55 88 59 102" stroke="#6a5038" stroke-width="2.2" fill="none" stroke-dasharray="0.9 2.6" transform="translate(0.2,0)"/><path d="M6 -3 C12 1.5 17 6 20.5 11" stroke="#c02a08" stroke-width="6.4" fill="none" transform="translate(-0.8,0.3)"/><path d="M33.8 21 Q40 14 48.2 19 L50 27.3 L53.6 32.7 L57.2 41.7 L59.9 54.4 L60.2 67 L59 79.7 L57.5 92 L54.5 88 L50.9 75 L48.2 67 L44.6 56.2 L40 45.3 L37.4 36.3 L36.5 28Z" fill="#04061a"/><ellipse cx="41" cy="17.3" rx="7" ry="6.6" fill="#1c1608"/><path d="M46.5 14.5 L64.6 14.3 L47.5 19.6Z" fill="#03040c"/><g><circle cx="41.4" cy="12.3" r="0.8" fill="#e0d0a0"/><circle cx="38.2" cy="16.9" r="0.6" fill="#b8a060"/><circle cx="37.8" cy="15.1" r="0.7" fill="#e0d0a0"/><circle cx="37.8" cy="12.5" r="0.4" fill="#e0d0a0"/><circle cx="36.9" cy="17.0" r="0.9" fill="#6a5a30"/><circle cx="38.9" cy="16.5" r="0.9" fill="#e0d0a0"/><circle cx="38.1" cy="15.8" r="0.4" fill="#b8a060"/><circle cx="43.1" cy="16.4" r="0.9" fill="#6a5a30"/><circle cx="43.7" cy="16.6" r="0.4" fill="#6a5a30"/><circle cx="36.3" cy="17.4" r="0.8" fill="#e0d0a0"/><circle cx="40.0" cy="18.7" r="0.7" fill="#6a5a30"/><circle cx="37.9" cy="17.5" r="0.8" fill="#6a5a30"/><circle cx="42.8" cy="14.7" r="0.7" fill="#e0d0a0"/><circle cx="39.5" cy="14.6" r="0.7" fill="#e0d0a0"/><circle cx="45.2" cy="13.8" r="0.4" fill="#b8a060"/><circle cx="42.2" cy="16.4" r="0.8" fill="#6a5a30"/><circle cx="40.4" cy="12.4" r="0.5" fill="#e0d0a0"/><circle cx="41.5" cy="13.1" r="0.5" fill="#6a5a30"/></g><ellipse cx="42" cy="26" rx="7" ry="4.6" fill="#c8500c"/><ellipse cx="44" cy="23.4" rx="4.5" ry="1.7" fill="#e8b070"/><path d="M36 29 Q42 33 50 28.5 L51.5 33 Q44 37.5 37 34.5Z" fill="#701808"/><path d="M50 40 Q54 50 55 62" stroke="#0a4a4a" stroke-width="1.2" fill="none"/></g></g><g id="imD" clip-path="url(#sq)"><rect width="100" height="100" fill="#060c08"/><g filter="url(#bl1)"><rect x="-5" y="-5" width="110" height="50" fill="#189020"/><g><ellipse cx="62.6" cy="5.7" rx="3.9" ry="3.9" fill="#38e038"/><ellipse cx="97.0" cy="3.6" rx="3.2" ry="3.2" fill="#22b828"/><ellipse cx="21.8" cy="14.9" rx="3.1" ry="4.5" fill="#062a10"/><ellipse cx="78.7" cy="17.0" rx="4.1" ry="2.3" fill="#58f050"/><ellipse cx="71.1" cy="35.6" rx="3.3" ry="4.0" fill="#0a5a14"/><ellipse cx="82.6" cy="36.2" rx="3.7" ry="1.8" fill="#0c7018"/><ellipse cx="80.4" cy="27.0" rx="5.3" ry="3.1" fill="#22b828"/><ellipse cx="32.4" cy="18.4" rx="6.9" ry="10.0" fill="#58f050"/><ellipse cx="97.4" cy="38.5" rx="5.5" ry="7.6" fill="#041a08"/><ellipse cx="72.3" cy="13.3" rx="5.6" ry="6.4" fill="#062a10"/><ellipse cx="95.3" cy="19.2" rx="5.6" ry="8.1" fill="#0c7018"/><ellipse cx="53.0" cy="25.3" rx="6.4" ry="8.0" fill="#38e038"/><ellipse cx="44.7" cy="3.4" rx="5.6" ry="6.3" fill="#0c7018"/><ellipse cx="94.3" cy="14.4" rx="4.0" ry="3.7" fill="#22b828"/><ellipse cx="11.4" cy="7.2" rx="6.6" ry="8.7" fill="#062a10"/><ellipse cx="22.1" cy="33.5" rx="5.6" ry="6.1" fill="#38e038"/><ellipse cx="25.2" cy="19.6" rx="5.2" ry="5.7" fill="#38e038"/><ellipse cx="69.7" cy="29.4" rx="6.6" ry="3.9" fill="#062a10"/><ellipse cx="40.8" cy="2.9" rx="4.8" ry="5.0" fill="#041a08"/><ellipse cx="50.7" cy="33.5" rx="6.8" ry="10.8" fill="#58f050"/><ellipse cx="72.2" cy="4.1" rx="6.3" ry="6.9" fill="#22b828"/><ellipse cx="96.8" cy="7.7" rx="4.9" ry="3.2" fill="#0a5a14"/><ellipse cx="77.6" cy="2.3" rx="3.9" ry="2.2" fill="#0c7018"/><ellipse cx="70.2" cy="38.2" rx="4.8" ry="6.2" fill="#0a5a14"/><ellipse cx="42.6" cy="35.5" rx="5.5" ry="4.0" fill="#041a08"/><ellipse cx="11.5" cy="29.1" rx="4.4" ry="5.8" fill="#0c7018"/><ellipse cx="34.1" cy="30.5" rx="5.7" ry="4.5" fill="#041a08"/><ellipse cx="23.9" cy="20.5" rx="5.1" ry="6.6" fill="#0c7018"/><ellipse cx="4.4" cy="24.2" rx="3.4" ry="2.9" fill="#062a10"/><ellipse cx="60.3" cy="1.4" rx="6.6" ry="5.2" fill="#38e038"/><ellipse cx="19.3" cy="17.9" rx="6.4" ry="6.3" fill="#062a10"/><ellipse cx="79.1" cy="19.5" rx="3.3" ry="2.3" fill="#0c7018"/><ellipse cx="55.4" cy="11.6" rx="5.7" ry="8.2" fill="#22b828"/><ellipse cx="58.8" cy="10.0" rx="7.0" ry="9.7" fill="#041a08"/></g><path d="M-3 -3 L30 -3 L24 9 L-3 12Z" fill="#06240c"/><path d="M80 -2 L86 -2 L92 44 L86 44Z" fill="#48e048"/><ellipse cx="96" cy="27" rx="3" ry="8" fill="#d8ffd0"/><ellipse cx="8" cy="8" rx="2.5" ry="6" fill="#c0f8c0"/></g><path d="M-1 76 L-1 41 C4 24 24 10 49.6 9.7 C74 9.5 92 26 98.4 43.5 L101 51.6 L101 55 L63 52.5 L37 60 L9 76 L3 80Z" fill="#1240d0"/><path d="M2 42 C10 24 28 12 49.6 11 C72 11 90 26 97 42 C86 29 70 15 50 14.5 C32 15 14 27 4 47Z" fill="#2f78ea"/><path d="M-1 56 L14 50 L26 60 L22 68 L9 76 L-1 78Z" fill="#0a2288"/><path d="M40 14 L47 30 L44 43 M47 30 L72 26 L92 44 M47 30 L26 36 L14 52 M72 26 L66 12" stroke="#0a2490" stroke-width="1.6" fill="none"/><ellipse cx="39" cy="17" rx="4.2" ry="3.6" fill="#f6eee6"/><ellipse cx="46" cy="26" rx="3.4" ry="2.9" fill="#ffffff"/><ellipse cx="35" cy="25" rx="3.6" ry="3.1" fill="#f4dcc4"/><ellipse cx="56" cy="25" rx="4.2" ry="3.6" fill="#eef2ff"/><ellipse cx="63" cy="27" rx="3.4" ry="2.9" fill="#fae2ca"/><ellipse cx="66" cy="33" rx="3.9" ry="3.4" fill="#ffffff"/><ellipse cx="72" cy="35" rx="2.9" ry="2.5" fill="#f6eee6"/><ellipse cx="44" cy="33" rx="2.9" ry="2.5" fill="#ffffff"/><ellipse cx="38" cy="34" rx="3.4" ry="2.9" fill="#f4dcc4"/><ellipse cx="32" cy="40" rx="3.1" ry="2.7" fill="#eef2ff"/><ellipse cx="41" cy="39" rx="2.9" ry="2.5" fill="#fae2ca"/><ellipse cx="59" cy="36" rx="3.4" ry="2.9" fill="#ffffff"/><ellipse cx="65" cy="40" rx="2.9" ry="2.5" fill="#f6eee6"/><ellipse cx="73" cy="42" rx="2.6" ry="2.2" fill="#ffffff"/><ellipse cx="78" cy="38" rx="2.1" ry="1.8" fill="#f4dcc4"/><ellipse cx="17" cy="33" rx="3.9" ry="3.4" fill="#eef2ff"/><ellipse cx="22" cy="39" rx="3.1" ry="2.7" fill="#fae2ca"/><ellipse cx="13" cy="43" rx="2.9" ry="2.5" fill="#ffffff"/><ellipse cx="8" cy="45" rx="3.1" ry="2.7" fill="#f6eee6"/><ellipse cx="10" cy="52" rx="3.4" ry="2.9" fill="#ffffff"/><ellipse cx="16" cy="50" rx="2.6" ry="2.2" fill="#f4dcc4"/><ellipse cx="20" cy="47" rx="2.3" ry="2.0" fill="#eef2ff"/><ellipse cx="5" cy="58" rx="2.1" ry="1.8" fill="#fae2ca"/><ellipse cx="52" cy="31" rx="2.3" ry="2.0" fill="#ffffff"/><ellipse cx="28" cy="22" rx="2.3" ry="2.0" fill="#f6eee6"/><ellipse cx="52" cy="15" rx="2.1" ry="1.8" fill="#ffffff"/><ellipse cx="60" cy="16" rx="2.1" ry="1.8" fill="#f4dcc4"/><ellipse cx="22" cy="60" rx="2.1" ry="1.8" fill="#eef2ff"/><ellipse cx="68" cy="48" rx="1.8" ry="1.6" fill="#fae2ca"/><ellipse cx="8" cy="56" rx="1.6" ry="4" fill="#e8a020"/><ellipse cx="4" cy="52" rx="1.2" ry="3" fill="#f0c040"/><path d="M61 53 L101 55 L101 80 L66 82 L60 72Z" fill="#030408"/><g><circle cx="85.0" cy="58.2" r="1.1" fill="#c84008"/><circle cx="75.7" cy="63.8" r="0.8" fill="#c84008"/><circle cx="67.5" cy="65.4" r="1.3" fill="#802004"/><circle cx="73.9" cy="63.7" r="0.9" fill="#e87010"/><circle cx="73.9" cy="68.5" r="1.3" fill="#c84008"/><circle cx="73.2" cy="64.3" r="1.0" fill="#c84008"/><circle cx="77.8" cy="58.5" r="0.9" fill="#e87010"/><circle cx="80.5" cy="62.0" r="1.2" fill="#e87010"/><circle cx="72.3" cy="62.0" r="1.2" fill="#c84008"/><circle cx="66.4" cy="63.5" r="1.6" fill="#c84008"/></g><path d="M-1 80 L9 76 L37 60 L40 74 L36 92 L20 100 L-1 100Z" fill="#08080e"/><g><circle cx="26.0" cy="82.0" r="1.2" fill="#f8b840"/><circle cx="19.2" cy="77.0" r="1.3" fill="#f0a020"/><circle cx="32.9" cy="66.8" r="1.6" fill="#e8780c"/><circle cx="30.6" cy="83.0" r="1.7" fill="#e8780c"/><circle cx="20.9" cy="72.2" r="1.9" fill="#f0a020"/><circle cx="26.9" cy="72.7" r="1.8" fill="#c04808"/><circle cx="23.7" cy="80.0" r="1.4" fill="#f8b840"/><circle cx="20.4" cy="81.5" r="1.7" fill="#f8b840"/><circle cx="23.6" cy="85.7" r="1.9" fill="#c04808"/><circle cx="16.9" cy="70.5" r="2.0" fill="#f8b840"/><circle cx="21.7" cy="74.7" r="1.8" fill="#f0a020"/><circle cx="25.1" cy="69.2" r="1.8" fill="#c04808"/><circle cx="27.8" cy="78.1" r="2.0" fill="#c04808"/><circle cx="15.4" cy="70.2" r="2.0" fill="#f0a020"/><circle cx="19.8" cy="73.8" r="1.5" fill="#f8b840"/><circle cx="27.7" cy="86.3" r="1.9" fill="#c04808"/><circle cx="31.1" cy="72.1" r="1.3" fill="#e8780c"/><circle cx="28.4" cy="79.8" r="1.3" fill="#e8780c"/><circle cx="18.1" cy="74.8" r="1.2" fill="#c04808"/><circle cx="30.4" cy="80.3" r="1.2" fill="#e8780c"/><circle cx="32.3" cy="79.2" r="1.1" fill="#c04808"/><circle cx="27.7" cy="66.1" r="1.3" fill="#e8780c"/><circle cx="26.2" cy="86.3" r="1.2" fill="#c04808"/><circle cx="30.5" cy="66.6" r="1.5" fill="#c04808"/><circle cx="17.3" cy="85.0" r="1.9" fill="#e8780c"/><circle cx="25.9" cy="73.4" r="1.5" fill="#f8b840"/><circle cx="18.9" cy="76.2" r="1.0" fill="#c04808"/><circle cx="24.7" cy="87.7" r="1.1" fill="#c04808"/><circle cx="17.0" cy="66.4" r="1.2" fill="#e8780c"/><circle cx="20.8" cy="74.0" r="1.4" fill="#f0a020"/></g><ellipse cx="48.7" cy="62.5" rx="14.6" ry="15.5" fill="#c48a20"/><g><circle cx="53.1" cy="71.0" r="0.7" fill="#f0e0a0"/><circle cx="57.1" cy="69.2" r="0.5" fill="#f0e0a0"/><circle cx="52.9" cy="70.2" r="0.9" fill="#f0e0a0"/><circle cx="45.4" cy="69.9" r="0.7" fill="#f0e0a0"/><circle cx="36.2" cy="69.1" r="0.9" fill="#f0e0a0"/><circle cx="39.9" cy="71.4" r="0.7" fill="#e8d080"/><circle cx="60.4" cy="71.4" r="0.6" fill="#8a6010"/><circle cx="50.4" cy="64.7" r="1.1" fill="#f0e0a0"/><circle cx="55.2" cy="75.5" r="1.0" fill="#8a6010"/><circle cx="49.7" cy="67.3" r="0.9" fill="#5a4008"/><circle cx="61.5" cy="69.5" r="0.9" fill="#f0e0a0"/><circle cx="59.4" cy="67.8" r="0.6" fill="#e8d080"/><circle cx="38.8" cy="73.0" r="0.5" fill="#5a4008"/><circle cx="53.5" cy="67.3" r="0.6" fill="#5a4008"/><circle cx="46.7" cy="75.8" r="1.1" fill="#8a6010"/><circle cx="36.8" cy="62.3" r="0.9" fill="#8a6010"/><circle cx="42.0" cy="65.0" r="1.0" fill="#f0e0a0"/><circle cx="43.8" cy="76.9" r="0.6" fill="#8a6010"/><circle cx="48.4" cy="76.0" r="1.0" fill="#8a6010"/><circle cx="57.4" cy="66.2" r="0.7" fill="#5a4008"/><circle cx="58.7" cy="65.7" r="0.7" fill="#5a4008"/><circle cx="41.5" cy="62.8" r="1.0" fill="#f0e0a0"/><circle cx="37.2" cy="73.6" r="0.8" fill="#5a4008"/><circle cx="58.5" cy="76.9" r="0.7" fill="#e8d080"/><circle cx="56.9" cy="64.3" r="1.0" fill="#8a6010"/><circle cx="59.7" cy="64.3" r="0.9" fill="#e8d080"/><circle cx="55.5" cy="69.0" r="0.7" fill="#5a4008"/><circle cx="44.8" cy="75.8" r="0.9" fill="#f0e0a0"/><circle cx="61.5" cy="62.5" r="0.6" fill="#e8d080"/><circle cx="37.0" cy="69.6" r="0.6" fill="#5a4008"/><circle cx="54.2" cy="72.9" r="0.5" fill="#f0e0a0"/><circle cx="37.7" cy="63.7" r="1.1" fill="#8a6010"/><circle cx="49.7" cy="62.0" r="0.6" fill="#8a6010"/><circle cx="52.5" cy="70.2" r="1.1" fill="#f0e0a0"/><circle cx="57.8" cy="76.4" r="0.5" fill="#8a6010"/><circle cx="58.2" cy="76.6" r="0.6" fill="#e8d080"/><circle cx="43.1" cy="64.7" r="0.7" fill="#e8d080"/><circle cx="61.1" cy="64.9" r="0.5" fill="#f0e0a0"/><circle cx="42.9" cy="66.9" r="0.5" fill="#5a4008"/><circle cx="50.1" cy="70.2" r="0.9" fill="#f0e0a0"/></g><path d="M35.5 53 Q48.7 40 62 53 L61 57 Q48.7 50 36.5 57Z" fill="#141a40"/><ellipse cx="48.7" cy="58" rx="4.5" ry="9" fill="#f0a818"/><path d="M38 56 Q48.7 50 59.5 56 L57 60 Q48.7 55 40.5 60Z" fill="#e08c10"/><ellipse cx="48.7" cy="64" rx="7.5" ry="4.2" fill="#f6eab0"/><ellipse cx="41" cy="49.5" rx="3" ry="2.6" fill="#06060c"/><ellipse cx="56.5" cy="49.5" rx="3" ry="2.6" fill="#06060c"/><path d="M36 47 Q48.7 39.5 61.5 47" stroke="#6a9af0" stroke-width="0.9" fill="none"/><ellipse cx="48.7" cy="49" rx="2.4" ry="3.4" fill="#d08818"/><g><circle cx="61.6" cy="86.4" r="1.1" fill="#f0e8e8"/><circle cx="60.8" cy="87.7" r="1.1" fill="#f0e8e8"/><circle cx="93.5" cy="92.7" r="0.9" fill="#8a7a70"/><circle cx="80.4" cy="94.6" r="1.7" fill="#f0e8e8"/><circle cx="78.5" cy="81.7" r="1.3" fill="#d8c8c8"/><circle cx="94.1" cy="81.0" r="1.4" fill="#8a7a70"/><circle cx="79.8" cy="88.8" r="1.3" fill="#e8d8c0"/><circle cx="98.2" cy="80.0" r="1.4" fill="#e8d8c0"/><circle cx="68.6" cy="91.8" r="1.7" fill="#f0e8e8"/><circle cx="88.8" cy="95.8" r="1.6" fill="#8a7a70"/><circle cx="81.6" cy="87.9" r="1.2" fill="#8a7a70"/><circle cx="40.6" cy="95.9" r="1.3" fill="#8a7a70"/><circle cx="52.8" cy="96.8" r="1.5" fill="#8a7a70"/><circle cx="69.4" cy="89.5" r="0.8" fill="#f0e8e8"/><circle cx="40.2" cy="95.1" r="1.0" fill="#f0e8e8"/><circle cx="69.8" cy="96.3" r="0.9" fill="#f0e8e8"/><circle cx="45.8" cy="93.2" r="0.8" fill="#d8c8c8"/><circle cx="56.6" cy="87.2" r="1.5" fill="#e8d8c0"/><circle cx="43.9" cy="83.1" r="0.9" fill="#d8c8c8"/><circle cx="59.3" cy="93.3" r="1.2" fill="#8a7a70"/><circle cx="65.0" cy="81.8" r="1.0" fill="#e8d8c0"/><circle cx="80.5" cy="89.0" r="1.1" fill="#f0e8e8"/><circle cx="84.6" cy="83.0" r="1.3" fill="#8a7a70"/><circle cx="67.3" cy="93.2" r="1.3" fill="#8a7a70"/><circle cx="87.3" cy="85.1" r="1.2" fill="#d8c8c8"/><circle cx="72.5" cy="81.2" r="0.8" fill="#8a7a70"/><circle cx="94.7" cy="85.1" r="0.9" fill="#e8d8c0"/><circle cx="41.8" cy="92.7" r="1.5" fill="#f0e8e8"/><circle cx="44.2" cy="99.2" r="0.9" fill="#8a7a70"/><circle cx="94.9" cy="94.3" r="1.0" fill="#d8c8c8"/><circle cx="81.6" cy="85.9" r="1.0" fill="#8a7a70"/><circle cx="58.6" cy="87.7" r="1.2" fill="#f0e8e8"/><circle cx="98.6" cy="97.0" r="1.2" fill="#d8c8c8"/><circle cx="78.6" cy="86.6" r="0.7" fill="#e8d8c0"/><circle cx="60.3" cy="90.5" r="1.1" fill="#d8c8c8"/><circle cx="42.9" cy="91.3" r="1.6" fill="#e8d8c0"/><circle cx="62.6" cy="89.5" r="1.6" fill="#e8d8c0"/><circle cx="61.4" cy="82.7" r="1.4" fill="#d8c8c8"/><circle cx="78.9" cy="94.8" r="1.0" fill="#d8c8c8"/><circle cx="95.2" cy="85.9" r="1.0" fill="#e8d8c0"/></g><g><circle cx="96.3" cy="76.1" r="1.0" fill="#e8dcd0"/><circle cx="93.1" cy="74.3" r="1.3" fill="#e8dcd0"/><circle cx="93.0" cy="75.0" r="1.5" fill="#c8b8a8"/><circle cx="91.7" cy="75.0" r="1.5" fill="#c8b8a8"/><circle cx="97.5" cy="76.5" r="1.2" fill="#e8dcd0"/><circle cx="98.0" cy="76.6" r="1.1" fill="#e8dcd0"/><circle cx="87.0" cy="83.7" r="1.3" fill="#e8dcd0"/><circle cx="89.0" cy="78.6" r="1.7" fill="#c8b8a8"/><circle cx="92.2" cy="81.6" r="0.9" fill="#c8b8a8"/><circle cx="88.0" cy="80.8" r="1.2" fill="#c8b8a8"/><circle cx="88.9" cy="76.4" r="1.0" fill="#c8b8a8"/><circle cx="98.9" cy="85.8" r="1.5" fill="#e8dcd0"/><circle cx="89.9" cy="88.4" r="1.0" fill="#e8dcd0"/><circle cx="95.7" cy="74.2" r="0.9" fill="#c8b8a8"/></g><path d="M3.5 101 Q2.9 96.4 1.3 94.0" stroke="#3ee048" stroke-width="1.1" fill="none"/><path d="M59.2 101 Q63.9 81.8 74.9 69.6" stroke="#60f060" stroke-width="0.7" fill="none"/><path d="M20.3 101 Q24.2 96.9 33.2 94.8" stroke="#3ee048" stroke-width="1.1" fill="none"/><path d="M7.2 101 Q3.7 92.1 -4.3 86.8" stroke="#148818" stroke-width="1.0" fill="none"/><path d="M16.4 101 Q18.8 93.1 24.3 88.5" stroke="#3ee048" stroke-width="0.9" fill="none"/><path d="M15.9 101 Q18.2 94.5 23.6 90.8" stroke="#60f060" stroke-width="0.7" fill="none"/><path d="M78.4 101 Q77.5 71.1 75.4 51.8" stroke="#0e6a14" stroke-width="1.1" fill="none"/><path d="M70.6 101 Q69.8 82.0 67.9 70.1" stroke="#28c030" stroke-width="1.2" fill="none"/><path d="M13.3 101 Q12.8 93.1 11.4 88.4" stroke="#148818" stroke-width="1.1" fill="none"/><path d="M70.7 101 Q68.6 76.1 63.8 60.1" stroke="#1a9020" stroke-width="0.8" fill="none"/><path d="M84.1 101 Q87.4 88.3 94.9 80.5" stroke="#3ee048" stroke-width="0.8" fill="none"/><path d="M3.3 101 Q4.8 96.3 8.4 93.8" stroke="#148818" stroke-width="1.0" fill="none"/><path d="M19.8 101 Q16.4 95.6 8.4 92.7" stroke="#60f060" stroke-width="0.7" fill="none"/><path d="M82.8 101 Q87.4 89.0 98.1 81.6" stroke="#0e6a14" stroke-width="1.2" fill="none"/><path d="M52.6 101 Q51.0 85.3 47.2 75.5" stroke="#60f060" stroke-width="1.1" fill="none"/><path d="M91.3 101 Q88.9 87.3 83.4 78.8" stroke="#1a9020" stroke-width="1.0" fill="none"/><path d="M54.1 101 Q50.2 89.7 41.1 82.8" stroke="#1a9020" stroke-width="1.1" fill="none"/><path d="M76.5 101 Q77.4 72.1 79.3 53.4" stroke="#1a9020" stroke-width="0.6" fill="none"/><path d="M59.9 101 Q58.2 70.7 54.3 51.2" stroke="#3ee048" stroke-width="1.0" fill="none"/><path d="M5.0 101 Q4.5 96.1 3.2 93.5" stroke="#0e6a14" stroke-width="0.8" fill="none"/><path d="M11.0 101 Q14.3 93.3 22.1 88.8" stroke="#60f060" stroke-width="0.7" fill="none"/><path d="M55.2 101 Q56.2 74.6 58.6 57.6" stroke="#60f060" stroke-width="0.6" fill="none"/><path d="M4.0 101 Q3.0 93.4 0.8 89.0" stroke="#60f060" stroke-width="0.9" fill="none"/><path d="M35.3 101 Q37.0 96.6 41.2 94.4" stroke="#3ee048" stroke-width="1.0" fill="none"/><path d="M9.0 101 Q10.6 92.6 14.2 87.6" stroke="#1a9020" stroke-width="0.7" fill="none"/><path d="M9.4 101 Q5.3 94.6 -4.4 91.0" stroke="#148818" stroke-width="0.9" fill="none"/><path d="M32.4 101 Q33.2 97.3 34.9 95.6" stroke="#1a9020" stroke-width="0.8" fill="none"/><path d="M19.8 101 Q16.6 96.8 9.1 94.7" stroke="#3ee048" stroke-width="1.0" fill="none"/><path d="M53.5 101 Q49.1 86.4 38.9 77.4" stroke="#28c030" stroke-width="1.2" fill="none"/><path d="M48.8 101 Q49.6 74.5 51.4 57.5" stroke="#0e6a14" stroke-width="1.0" fill="none"/><path d="M8.7 101 Q12.4 91.6 21.0 86.0" stroke="#60f060" stroke-width="0.8" fill="none"/><path d="M51.8 101 Q56.0 85.3 65.9 75.5" stroke="#28c030" stroke-width="1.0" fill="none"/><path d="M21.8 101 Q24.7 94.5 31.7 90.9" stroke="#28c030" stroke-width="1.1" fill="none"/><path d="M7.3 101 Q3.0 96.3 -7.2 93.9" stroke="#0e6a14" stroke-width="0.7" fill="none"/></g><clipPath id="cOc1"><rect x="63.5" y="0" width="40" height="100"/></clipPath><clipPath id="fm1"><path d="M55 0 L100 0 L100 6 L88 4 Q80 8 82 20 Q84 32 78 38 Q70 44 62 40 Q56 34 60 24 Q64 14 55 0Z M64 76 Q68 66 80 65 Q92 64 96 72 L92 101 L56 101 Q58 86 64 76Z"/></clipPath><clipPath id="fm2"><path d="M24 -1 L72 -1 Q74 10 82 22 Q92 34 94 42 Q90 54 86 62 Q82 76 74 92 L72 101 L26 101 Q30 88 30 76 Q30 60 34 44 Q38 30 34 18 Q30 8 24 -1Z"/></clipPath></defs>
<rect x="112.7" y="740.7" width="972.1" height="277.1" fill="#f4f2fa" />
<g transform="translate(113.0,741.0) scale(1.375)"><g clip-path="url(#sq)"><use href="#imA" /></g></g>
<g transform="translate(113.0,880.0) scale(1.375)"><g clip-path="url(#sq)"><use href="#imC" /></g></g>
<g transform="translate(252.0,741.0) scale(1.375)"><g clip-path="url(#sq)"><use href="#imB" /></g></g>
<g transform="translate(252.0,880.0) scale(1.375)"><g clip-path="url(#sq)"><use href="#imD" /></g></g>
<g transform="translate(391.0,741.0) scale(1.375)"><g clip-path="url(#sq)"><rect width="100" height="100" fill="#000"/><g clip-path="url(#cOc1)"><use href="#imA" /></g><g filter="url(#bl2)"><path d="M-2 96 L10 93 L35 94 L58 97 L58 102 L-2 102Z" fill="#a6c6e8"/></g></g></g>
<g transform="translate(391.0,880.0) scale(1.375)"><g clip-path="url(#sq)"><use href="#imC" /><rect x="24.5" y="0" width="71" height="37" fill="#000"/></g></g>
<g transform="translate(530.0,741.0) scale(1.375)"><g clip-path="url(#sq)"><rect width="100" height="100" fill="#3a1218"/><svg x="0.00" y="0.00" width="12.62" height="12.62" viewBox="62.50 37.50 12.50 12.50" preserveAspectRatio="none"><use href="#imA"/></svg><svg x="12.50" y="0.00" width="12.62" height="12.62" viewBox="12.50 0.00 12.50 12.50" preserveAspectRatio="none"><use href="#imA"/></svg><svg x="25.00" y="0.00" width="12.62" height="12.62" viewBox="62.50 0.00 12.50 12.50" preserveAspectRatio="none"><use href="#imA"/></svg><svg x="37.50" y="0.00" width="12.62" height="12.62" viewBox="62.50 25.00 12.50 12.50" preserveAspectRatio="none"><use href="#imA"/></svg><svg x="50.00" y="0.00" width="12.62" height="12.62" viewBox="50.00 25.00 12.50 12.50" preserveAspectRatio="none"><use href="#imA"/></svg><svg x="62.50" y="0.00" width="12.62" height="12.62" viewBox="12.50 75.00 12.50 12.50" preserveAspectRatio="none"><use href="#imA"/></svg><svg x="75.00" y="0.00" width="12.62" height="12.62" viewBox="37.50 37.50 12.50 12.50" preserveAspectRatio="none"><use href="#imA"/></svg><svg x="87.50" y="0.00" width="12.62" height="12.62" viewBox="12.50 62.50 12.50 12.50" preserveAspectRatio="none"><use href="#imA"/></svg><svg x="0.00" y="12.50" width="12.62" height="12.62" viewBox="0.00 50.00 12.50 12.50" preserveAspectRatio="none"><use href="#imA"/></svg><svg x="12.50" y="12.50" width="12.62" height="12.62" viewBox="75.00 0.00 12.50 12.50" preserveAspectRatio="none"><use href="#imA"/></svg><svg x="25.00" y="12.50" width="12.62" height="12.62" viewBox="12.50 25.00 12.50 12.50" preserveAspectRatio="none"><use href="#imA"/></svg><svg x="37.50" y="12.50" width="12.62" height="12.62" viewBox="87.50 75.00 12.50 12.50" preserveAspectRatio="none"><use href="#imA"/></svg><svg x="50.00" y="12.50" width="12.62" height="12.62" viewBox="87.50 0.00 12.50 12.50" preserveAspectRatio="none"><use href="#imA"/></svg><svg x="62.50" y="12.50" width="12.62" height="12.62" viewBox="87.50 37.50 12.50 12.50" preserveAspectRatio="none"><use href="#imA"/></svg><svg x="75.00" y="12.50" width="12.62" height="12.62" viewBox="50.00 37.50 12.50 12.50" preserveAspectRatio="none"><use href="#imA"/></svg><svg x="87.50" y="12.50" width="12.62" height="12.62" viewBox="37.50 0.00 12.50 12.50" preserveAspectRatio="none"><use href="#imA"/></svg><svg x="0.00" y="25.00" width="12.62" height="12.62" viewBox="37.50 12.50 12.50 12.50" preserveAspectRatio="none"><use href="#imA"/></svg><svg x="12.50" y="25.00" width="12.62" height="12.62" viewBox="50.00 50.00 12.50 12.50" preserveAspectRatio="none"><use href="#imA"/></svg><svg x="25.00" y="25.00" width="12.62" height="12.62" viewBox="50.00 75.00 12.50 12.50" preserveAspectRatio="none"><use href="#imA"/></svg><svg x="37.50" y="25.00" width="12.62" height="12.62" viewBox="25.00 25.00 12.50 12.50" preserveAspectRatio="none"><use href="#imA"/></svg><svg x="50.00" y="25.00" width="12.62" height="12.62" viewBox="75.00 25.00 12.50 12.50" preserveAspectRatio="none"><use href="#imA"/></svg><svg x="62.50" y="25.00" width="12.62" height="12.62" viewBox="62.50 12.50 12.50 12.50" preserveAspectRatio="none"><use href="#imA"/></svg><svg x="75.00" y="25.00" width="12.62" height="12.62" viewBox="75.00 62.50 12.50 12.50" preserveAspectRatio="none"><use href="#imA"/></svg><svg x="87.50" y="25.00" width="12.62" height="12.62" viewBox="37.50 87.50 12.50 12.50" preserveAspectRatio="none"><use href="#imA"/></svg><svg x="0.00" y="37.50" width="12.62" height="12.62" viewBox="37.50 25.00 12.50 12.50" preserveAspectRatio="none"><use href="#imA"/></svg><svg x="12.50" y="37.50" width="12.62" height="12.62" viewBox="87.50 12.50 12.50 12.50" preserveAspectRatio="none"><use href="#imA"/></svg><svg x="25.00" y="37.50" width="12.62" height="12.62" viewBox="50.00 87.50 12.50 12.50" preserveAspectRatio="none"><use href="#imA"/></svg><svg x="37.50" y="37.50" width="12.62" height="12.62" viewBox="25.00 37.50 12.50 12.50" preserveAspectRatio="none"><use href="#imA"/></svg><svg x="50.00" y="37.50" width="12.62" height="12.62" viewBox="37.50 62.50 12.50 12.50" preserveAspectRatio="none"><use href="#imA"/></svg><svg x="62.50" y="37.50" width="12.62" height="12.62" viewBox="25.00 62.50 12.50 12.50" preserveAspectRatio="none"><use href="#imA"/></svg><svg x="75.00" y="37.50" width="12.62" height="12.62" viewBox="75.00 75.00 12.50 12.50" preserveAspectRatio="none"><use href="#imA"/></svg><svg x="87.50" y="37.50" width="12.62" height="12.62" viewBox="25.00 0.00 12.50 12.50" preserveAspectRatio="none"><use href="#imA"/></svg><svg x="0.00" y="50.00" width="12.62" height="12.62" viewBox="25.00 12.50 12.50 12.50" preserveAspectRatio="none"><use href="#imA"/></svg><svg x="12.50" y="50.00" width="12.62" height="12.62" viewBox="62.50 75.00 12.50 12.50" preserveAspectRatio="none"><use href="#imA"/></svg><svg x="25.00" y="50.00" width="12.62" height="12.62" viewBox="37.50 75.00 12.50 12.50" preserveAspectRatio="none"><use href="#imA"/></svg><svg x="37.50" y="50.00" width="12.62" height="12.62" viewBox="0.00 37.50 12.50 12.50" preserveAspectRatio="none"><use href="#imA"/></svg><svg x="50.00" y="50.00" width="12.62" height="12.62" viewBox="12.50 50.00 12.50 12.50" preserveAspectRatio="none"><use href="#imA"/></svg><svg x="62.50" y="50.00" width="12.62" height="12.62" viewBox="87.50 50.00 12.50 12.50" preserveAspectRatio="none"><use href="#imA"/></svg><svg x="75.00" y="50.00" width="12.62" height="12.62" viewBox="87.50 62.50 12.50 12.50" preserveAspectRatio="none"><use href="#imA"/></svg><svg x="87.50" y="50.00" width="12.62" height="12.62" viewBox="12.50 12.50 12.50 12.50" preserveAspectRatio="none"><use href="#imA"/></svg><svg x="0.00" y="62.50" width="12.62" height="12.62" viewBox="12.50 37.50 12.50 12.50" preserveAspectRatio="none"><use href="#imA"/></svg><svg x="12.50" y="62.50" width="12.62" height="12.62" viewBox="50.00 62.50 12.50 12.50" preserveAspectRatio="none"><use href="#imA"/></svg><svg x="25.00" y="62.50" width="12.62" height="12.62" viewBox="0.00 75.00 12.50 12.50" preserveAspectRatio="none"><use href="#imA"/></svg><svg x="37.50" y="62.50" width="12.62" height="12.62" viewBox="62.50 87.50 12.50 12.50" preserveAspectRatio="none"><use href="#imA"/></svg><svg x="50.00" y="62.50" width="12.62" height="12.62" viewBox="25.00 75.00 12.50 12.50" preserveAspectRatio="none"><use href="#imA"/></svg><svg x="62.50" y="62.50" width="12.62" height="12.62" viewBox="62.50 62.50 12.50 12.50" preserveAspectRatio="none"><use href="#imA"/></svg><svg x="75.00" y="62.50" width="12.62" height="12.62" viewBox="50.00 12.50 12.50 12.50" preserveAspectRatio="none"><use href="#imA"/></svg><svg x="87.50" y="62.50" width="12.62" height="12.62" viewBox="75.00 12.50 12.50 12.50" preserveAspectRatio="none"><use href="#imA"/></svg><svg x="0.00" y="75.00" width="12.62" height="12.62" viewBox="37.50 50.00 12.50 12.50" preserveAspectRatio="none"><use href="#imA"/></svg><svg x="12.50" y="75.00" width="12.62" height="12.62" viewBox="0.00 25.00 12.50 12.50" preserveAspectRatio="none"><use href="#imA"/></svg><svg x="25.00" y="75.00" width="12.62" height="12.62" viewBox="0.00 87.50 12.50 12.50" preserveAspectRatio="none"><use href="#imA"/></svg><svg x="37.50" y="75.00" width="12.62" height="12.62" viewBox="0.00 0.00 12.50 12.50" preserveAspectRatio="none"><use href="#imA"/></svg><svg x="50.00" y="75.00" width="12.62" height="12.62" viewBox="12.50 87.50 12.50 12.50" preserveAspectRatio="none"><use href="#imA"/></svg><svg x="62.50" y="75.00" width="12.62" height="12.62" viewBox="50.00 0.00 12.50 12.50" preserveAspectRatio="none"><use href="#imA"/></svg><svg x="75.00" y="75.00" width="12.62" height="12.62" viewBox="75.00 87.50 12.50 12.50" preserveAspectRatio="none"><use href="#imA"/></svg><svg x="87.50" y="75.00" width="12.62" height="12.62" viewBox="0.00 62.50 12.50 12.50" preserveAspectRatio="none"><use href="#imA"/></svg><svg x="0.00" y="87.50" width="12.62" height="12.62" viewBox="87.50 87.50 12.50 12.50" preserveAspectRatio="none"><use href="#imA"/></svg><svg x="12.50" y="87.50" width="12.62" height="12.62" viewBox="75.00 50.00 12.50 12.50" preserveAspectRatio="none"><use href="#imA"/></svg><svg x="25.00" y="87.50" width="12.62" height="12.62" viewBox="25.00 87.50 12.50 12.50" preserveAspectRatio="none"><use href="#imA"/></svg><svg x="37.50" y="87.50" width="12.62" height="12.62" viewBox="87.50 25.00 12.50 12.50" preserveAspectRatio="none"><use href="#imA"/></svg><svg x="50.00" y="87.50" width="12.62" height="12.62" viewBox="0.00 12.50 12.50 12.50" preserveAspectRatio="none"><use href="#imA"/></svg><svg x="62.50" y="87.50" width="12.62" height="12.62" viewBox="25.00 50.00 12.50 12.50" preserveAspectRatio="none"><use href="#imA"/></svg><svg x="75.00" y="87.50" width="12.62" height="12.62" viewBox="62.50 50.00 12.50 12.50" preserveAspectRatio="none"><use href="#imA"/></svg><svg x="87.50" y="87.50" width="12.62" height="12.62" viewBox="75.00 37.50 12.50 12.50" preserveAspectRatio="none"><use href="#imA"/></svg></g></g>
<g transform="translate(530.0,880.0) scale(1.375)"><g clip-path="url(#sq)"><rect width="100" height="100" fill="#0a36c2"/><svg x="0.00" y="0.00" width="25.12" height="25.12" viewBox="0.00 25.00 25.00 25.00" preserveAspectRatio="none"><use href="#imC"/></svg><svg x="25.00" y="0.00" width="25.12" height="25.12" viewBox="0.00 50.00 25.00 25.00" preserveAspectRatio="none"><use href="#imC"/></svg><svg x="50.00" y="0.00" width="25.12" height="25.12" viewBox="0.00 75.00 25.00 25.00" preserveAspectRatio="none"><use href="#imC"/></svg><svg x="75.00" y="0.00" width="25.12" height="25.12" viewBox="25.00 0.00 25.00 25.00" preserveAspectRatio="none"><use href="#imC"/></svg><svg x="0.00" y="25.00" width="25.12" height="25.12" viewBox="25.00 50.00 25.00 25.00" preserveAspectRatio="none"><use href="#imC"/></svg><svg x="25.00" y="25.00" width="25.12" height="25.12" viewBox="25.00 75.00 25.00 25.00" preserveAspectRatio="none"><use href="#imC"/></svg><svg x="50.00" y="25.00" width="25.12" height="25.12" viewBox="50.00 25.00 25.00 25.00" preserveAspectRatio="none"><use href="#imC"/></svg><svg x="75.00" y="25.00" width="25.12" height="25.12" viewBox="50.00 0.00 25.00 25.00" preserveAspectRatio="none"><use href="#imC"/></svg><svg x="0.00" y="50.00" width="25.12" height="25.12" viewBox="75.00 0.00 25.00 25.00" preserveAspectRatio="none"><use href="#imC"/></svg><svg x="25.00" y="50.00" width="25.12" height="25.12" viewBox="75.00 25.00 25.00 25.00" preserveAspectRatio="none"><use href="#imC"/></svg><svg x="50.00" y="50.00" width="25.12" height="25.12" viewBox="25.00 25.00 25.00 25.00" preserveAspectRatio="none"><use href="#imC"/></svg><svg x="75.00" y="50.00" width="25.12" height="25.12" viewBox="50.00 75.00 25.00 25.00" preserveAspectRatio="none"><use href="#imC"/></svg><svg x="0.00" y="75.00" width="25.12" height="25.12" viewBox="75.00 50.00 25.00 25.00" preserveAspectRatio="none"><use href="#imC"/></svg><svg x="25.00" y="75.00" width="25.12" height="25.12" viewBox="50.00 50.00 25.00 25.00" preserveAspectRatio="none"><use href="#imC"/></svg><svg x="50.00" y="75.00" width="25.12" height="25.12" viewBox="0.00 0.00 25.00 25.00" preserveAspectRatio="none"><use href="#imC"/></svg><svg x="75.00" y="75.00" width="25.12" height="25.12" viewBox="75.00 75.00 25.00 25.00" preserveAspectRatio="none"><use href="#imC"/></svg></g></g>
<g transform="translate(669.0,741.0) scale(1.375)"><g clip-path="url(#sq)"><use href="#imB" /><g opacity="0.05"><use href="#imA" /></g></g></g>
<g transform="translate(669.0,880.0) scale(1.375)"><g clip-path="url(#sq)"><use href="#imD" /><rect width="100" height="100" fill="#02103a" opacity="0.22"/><g opacity="0.62"><use href="#imCf" /></g></g></g>
<g transform="translate(808.0,741.0) scale(1.375)"><g clip-path="url(#sq)"><use href="#imA" /><svg x="0" y="38.5" width="73" height="61.5" viewBox="0 38.5 73 61.5" preserveAspectRatio="none"><use href="#imB" /></svg></g></g>
<g transform="translate(808.0,880.0) scale(1.375)"><g clip-path="url(#sq)"><use href="#imC" /><svg x="28" y="32" width="70.5" height="68" viewBox="28 32 70.5 68" preserveAspectRatio="none"><use href="#imD" /></svg></g></g>
<g transform="translate(947.0,741.0) scale(1.375)"><g clip-path="url(#sq)"><use href="#imB" /><g clip-path="url(#fm1)"><use href="#imA" /></g></g></g>
<g transform="translate(947.0,880.0) scale(1.375)"><g clip-path="url(#sq)"><use href="#imC" /><g clip-path="url(#fm2)"><use href="#imD" /></g></g></g>
<text x="116.0" y="2206.0" font-size="47" textLength="31.5" lengthAdjust="spacingAndGlyphs" font-family="'DejaVu Math TeX Gyre', 'DejaVu Serif', serif" stroke="#0b2341" stroke-width="0.4">𝔼</text>
<text x="146.1" y="2212.5" font-size="27" textLength="13.8" lengthAdjust="spacingAndGlyphs" font-family="'Liberation Serif', serif" font-style="italic" stroke="#0b2341" stroke-width="0.5">r</text>
<path d="M178.5 2140.4H167.9V2246.1H178.5" stroke="#0b2341" stroke-width="2.8" fill="none"/>
<text x="199.2" y="2172.5" font-size="46" textLength="25.4" lengthAdjust="spacingAndGlyphs" font-family="'Liberation Serif', serif" font-style="italic" stroke="#0b2341" stroke-width="0.7">c</text>
<text x="223.7" y="2155.0" font-size="27" textLength="12.2" lengthAdjust="spacingAndGlyphs" font-family="'Liberation Serif', serif" font-style="italic" stroke="#0b2341" stroke-width="0.5">r</text>
<text x="217.6" y="2184.0" font-size="30" textLength="63.7" lengthAdjust="spacingAndGlyphs" font-family="'Liberation Serif', serif" font-style="italic" stroke="#0b2341" stroke-width="0.5">max</text>
<rect x="185.0" y="2191.40" width="115.0" height="2.2" fill="#0b2341"/>
<text x="190.0" y="2238.0" font-size="46" textLength="47.0" lengthAdjust="spacingAndGlyphs" font-family="'DejaVu Math TeX Gyre', 'DejaVu Serif', serif" stroke="#0b2341" stroke-width="0.4">∑</text>
<text x="236.5" y="2249.0" font-size="27" textLength="13.8" lengthAdjust="spacingAndGlyphs" font-family="'Liberation Serif', serif" font-style="italic" stroke="#0b2341" stroke-width="0.5">c</text>
<text x="260.0" y="2237.5" font-size="46" textLength="21.0" lengthAdjust="spacingAndGlyphs" font-family="'Liberation Serif', serif" font-style="italic" stroke="#0b2341" stroke-width="0.7">c</text>
<text x="278.6" y="2220.0" font-size="27" textLength="13.8" lengthAdjust="spacingAndGlyphs" font-family="'Liberation Serif', serif" font-style="italic" stroke="#0b2341" stroke-width="0.5">r</text>
<text x="312.5" y="2206.0" font-size="47" textLength="31.5" lengthAdjust="spacingAndGlyphs" font-family="'DejaVu Math TeX Gyre', 'DejaVu Serif', serif" stroke="#0b2341" stroke-width="0.4">𝔼</text>
<text x="342.7" y="2218.0" font-size="27" textLength="12.2" lengthAdjust="spacingAndGlyphs" font-family="'Liberation Serif', serif" font-style="italic" stroke="#0b2341" stroke-width="0.5">r</text>
<text x="356.0" y="2216.0" font-size="32" textLength="9.0" lengthAdjust="spacingAndGlyphs" font-family="'DejaVu Math TeX Gyre', 'DejaVu Serif', serif" stroke="#0b2341" stroke-width="0.8">′</text>
<path d="M381 2153.7H371.2V2232.8H381" stroke="#0b2341" stroke-width="2.4" fill="none"/>
<text x="382.4" y="2205.0" font-size="46" textLength="23.2" lengthAdjust="spacingAndGlyphs" font-family="'Liberation Serif', serif" font-style="italic" stroke="#0b2341" stroke-width="0.7">c</text>
<text x="402.7" y="2181.0" font-size="27" textLength="12.2" lengthAdjust="spacingAndGlyphs" font-family="'Liberation Serif', serif" font-style="italic" stroke="#0b2341" stroke-width="0.5">r</text>
<text x="416.0" y="2178.0" font-size="32" textLength="9.0" lengthAdjust="spacingAndGlyphs" font-family="'DejaVu Math TeX Gyre', 'DejaVu Serif', serif" stroke="#0b2341" stroke-width="0.8">′</text>
<text x="400.1" y="2216.5" font-size="30" textLength="62.6" lengthAdjust="spacingAndGlyphs" font-family="'Liberation Serif', serif" font-style="italic" stroke="#0b2341" stroke-width="0.5">max</text>
<path d="M467.5 2153.7H477.3V2232.8H467.5" stroke="#0b2341" stroke-width="2.4" fill="none"/>
<path d="M489 2140.4H500.1V2246.1H489" stroke="#0b2341" stroke-width="2.8" fill="none"/>
<text x="2546.4" y="661.0" font-size="32" textLength="130.4" lengthAdjust="spacingAndGlyphs" fill="#0e1116" font-family="'Liberation Serif', serif" stroke="#0e1116" stroke-width="0.5">iOcclusion</text>
<text x="2679.2" y="663.8" font-size="21" textLength="9.9" lengthAdjust="spacingAndGlyphs" fill="#0e1116" font-family="'Liberation Serif', serif" font-style="italic" stroke="#0e1116" stroke-width="0.4">p</text>
<path d="M2691.6 650.8h19.6M2691.6 657.3h19.6" stroke="#0e1116" stroke-width="1.7"/>
<path d="M2725.1 595.7V711.1M2999.7 595.7V711.1" stroke="#0e1116" stroke-width="1.7"/>
<rect x="2733.0" y="653.15" width="259.1" height="1.7" fill="#0e1116"/>
<text x="2735.8" y="639.2" font-size="30" textLength="23.9" lengthAdjust="spacingAndGlyphs" fill="#0e1116" font-family="'DejaVu Math TeX Gyre', 'DejaVu Serif', serif" stroke="#0e1116" stroke-width="0.5">𝒜</text>
<text x="2760.7" y="640.7" font-size="32" textLength="9.7" lengthAdjust="spacingAndGlyphs" fill="#0e1116" font-family="'Liberation Serif', serif" stroke="#0e1116" stroke-width="0.3">(</text>
<text x="2771.7" y="639.2" font-size="30" textLength="21.8" lengthAdjust="spacingAndGlyphs" fill="#0e1116" font-family="'DejaVu Math TeX Gyre', 'DejaVu Serif', serif" stroke="#0e1116" stroke-width="0.5">𝒟</text>
<text x="2794.6" y="626.8" font-size="20" textLength="9.3" lengthAdjust="spacingAndGlyphs" fill="#0e1116" font-family="'Liberation Serif', serif" font-style="italic" stroke="#0e1116" stroke-width="0.4">p</text>
<text x="2794.4" y="646.4" font-size="22" textLength="43.0" lengthAdjust="spacingAndGlyphs" fill="#0e1116" font-family="'Liberation Serif', serif" stroke="#0e1116" stroke-width="0.45">train</text>
<text x="2837.4" y="640.7" font-size="32" textLength="10.9" lengthAdjust="spacingAndGlyphs" fill="#0e1116" font-family="'Liberation Serif', serif" stroke="#0e1116" stroke-width="0.3">)</text>
<text x="2886.0" y="639.2" font-size="30" textLength="24.0" lengthAdjust="spacingAndGlyphs" fill="#0e1116" font-family="'DejaVu Math TeX Gyre', 'DejaVu Serif', serif" stroke="#0e1116" stroke-width="0.5">𝒜</text>
<text x="2910.1" y="640.7" font-size="32" textLength="10.8" lengthAdjust="spacingAndGlyphs" fill="#0e1116" font-family="'Liberation Serif', serif" stroke="#0e1116" stroke-width="0.3">(</text>
<text x="2921.3" y="639.2" font-size="30" textLength="22.5" lengthAdjust="spacingAndGlyphs" fill="#0e1116" font-family="'DejaVu Math TeX Gyre', 'DejaVu Serif', serif" stroke="#0e1116" stroke-width="0.5">𝒟</text>
<text x="2944.9" y="626.8" font-size="20" textLength="9.3" lengthAdjust="spacingAndGlyphs" fill="#0e1116" font-family="'Liberation Serif', serif" font-style="italic" stroke="#0e1116" stroke-width="0.4">p</text>
<text x="2943.6" y="646.4" font-size="22" textLength="31.9" lengthAdjust="spacingAndGlyphs" fill="#0e1116" font-family="'Liberation Serif', serif" stroke="#0e1116" stroke-width="0.45">test</text>
<text x="2976.7" y="640.7" font-size="32" textLength="10.9" lengthAdjust="spacingAndGlyphs" fill="#0e1116" font-family="'Liberation Serif', serif" stroke="#0e1116" stroke-width="0.3">)</text>
<text x="2735.8" y="681.9" font-size="30" textLength="23.9" lengthAdjust="spacingAndGlyphs" fill="#0e1116" font-family="'DejaVu Math TeX Gyre', 'DejaVu Serif', serif" stroke="#0e1116" stroke-width="0.5">𝒜</text>
<text x="2760.7" y="683.4" font-size="32" textLength="9.7" lengthAdjust="spacingAndGlyphs" fill="#0e1116" font-family="'Liberation Serif', serif" stroke="#0e1116" stroke-width="0.3">(</text>
<text x="2771.7" y="681.9" font-size="30" textLength="21.8" lengthAdjust="spacingAndGlyphs" fill="#0e1116" font-family="'DejaVu Math TeX Gyre', 'DejaVu Serif', serif" stroke="#0e1116" stroke-width="0.5">𝒟</text>
<text x="2794.4" y="686.7" font-size="22" textLength="43.0" lengthAdjust="spacingAndGlyphs" fill="#0e1116" font-family="'Liberation Serif', serif" stroke="#0e1116" stroke-width="0.45">train</text>
<text x="2837.4" y="683.4" font-size="32" textLength="10.9" lengthAdjust="spacingAndGlyphs" fill="#0e1116" font-family="'Liberation Serif', serif" stroke="#0e1116" stroke-width="0.3">)</text>
<text x="2886.0" y="681.9" font-size="30" textLength="24.0" lengthAdjust="spacingAndGlyphs" fill="#0e1116" font-family="'DejaVu Math TeX Gyre', 'DejaVu Serif', serif" stroke="#0e1116" stroke-width="0.5">𝒜</text>
<text x="2910.1" y="683.4" font-size="32" textLength="10.8" lengthAdjust="spacingAndGlyphs" fill="#0e1116" font-family="'Liberation Serif', serif" stroke="#0e1116" stroke-width="0.3">(</text>
<text x="2921.3" y="681.9" font-size="30" textLength="22.5" lengthAdjust="spacingAndGlyphs" fill="#0e1116" font-family="'DejaVu Math TeX Gyre', 'DejaVu Serif', serif" stroke="#0e1116" stroke-width="0.5">𝒟</text>
<text x="2943.6" y="686.7" font-size="22" textLength="31.9" lengthAdjust="spacingAndGlyphs" fill="#0e1116" font-family="'Liberation Serif', serif" stroke="#0e1116" stroke-width="0.45">test</text>
<text x="2976.7" y="683.4" font-size="32" textLength="10.9" lengthAdjust="spacingAndGlyphs" fill="#0e1116" font-family="'Liberation Serif', serif" stroke="#0e1116" stroke-width="0.3">)</text>
<path d="M2858.8 631.2h17.5M2858.8 674h17.5" stroke="#0e1116" stroke-width="1.7"/>
<path d="M3177.00 201.00h20.18v3.01h-20.18zM3205.62 201.00h8.74v3.01h-8.74zM3219.93 201.00h3.01v3.01h-3.01zM3234.24 201.00h3.01v3.01h-3.01zM3239.97 201.00h20.18v3.01h-20.18zM3177.00 203.86h3.01v3.01h-3.01zM3194.17 203.86h3.01v3.01h-3.01zM3208.48 203.86h11.60v3.01h-11.60zM3222.79 203.86h3.01v3.01h-3.01zM3228.52 203.86h3.01v3.01h-3.01zM3239.97 203.86h3.01v3.01h-3.01zM3257.14 203.86h3.01v3.01h-3.01zM3177.00 206.72h3.01v3.01h-3.01zM3182.72 206.72h8.74v3.01h-8.74zM3194.17 206.72h3.01v3.01h-3.01zM3199.90 206.72h5.87v3.01h-5.87zM3208.48 206.72h3.01v3.01h-3.01zM3214.21 206.72h5.87v3.01h-5.87zM3222.79 206.72h3.01v3.01h-3.01zM3228.52 206.72h8.74v3.01h-8.74zM3239.97 206.72h3.01v3.01h-3.01zM3245.69 206.72h8.74v3.01h-8.74zM3257.14 206.72h3.01v3.01h-3.01zM3177.00 209.59h3.01v3.01h-3.01zM3182.72 209.59h8.74v3.01h-8.74zM3194.17 209.59h3.01v3.01h-3.01zM3199.90 209.59h5.87v3.01h-5.87zM3208.48 209.59h3.01v3.01h-3.01zM3214.21 209.59h5.87v3.01h-5.87zM3222.79 209.59h3.01v3.01h-3.01zM3231.38 209.59h5.87v3.01h-5.87zM3239.97 209.59h3.01v3.01h-3.01zM3245.69 209.59h8.74v3.01h-8.74zM3257.14 209.59h3.01v3.01h-3.01zM3177.00 212.45h3.01v3.01h-3.01zM3182.72 212.45h8.74v3.01h-8.74zM3194.17 212.45h3.01v3.01h-3.01zM3199.90 212.45h3.01v3.01h-3.01zM3208.48 212.45h5.87v3.01h-5.87zM3217.07 212.45h5.87v3.01h-5.87zM3231.38 212.45h3.01v3.01h-3.01zM3239.97 212.45h3.01v3.01h-3.01zM3245.69 212.45h8.74v3.01h-8.74zM3257.14 212.45h3.01v3.01h-3.01zM3177.00 215.31h3.01v3.01h-3.01zM3194.17 215.31h3.01v3.01h-3.01zM3199.90 215.31h5.87v3.01h-5.87zM3214.21 215.31h3.01v3.01h-3.01zM3219.93 215.31h3.01v3.01h-3.01zM3225.66 215.31h3.01v3.01h-3.01zM3231.38 215.31h3.01v3.01h-3.01zM3239.97 215.31h3.01v3.01h-3.01zM3257.14 215.31h3.01v3.01h-3.01zM3177.00 218.17h20.18v3.01h-20.18zM3199.90 218.17h3.01v3.01h-3.01zM3205.62 218.17h3.01v3.01h-3.01zM3211.34 218.17h3.01v3.01h-3.01zM3217.07 218.17h3.01v3.01h-3.01zM3222.79 218.17h3.01v3.01h-3.01zM3228.52 218.17h3.01v3.01h-3.01zM3234.24 218.17h3.01v3.01h-3.01zM3239.97 218.17h20.18v3.01h-20.18zM3202.76 221.03h3.01v3.01h-3.01zM3208.48 221.03h3.01v3.01h-3.01zM3214.21 221.03h5.87v3.01h-5.87zM3228.52 221.03h3.01v3.01h-3.01zM3234.24 221.03h3.01v3.01h-3.01zM3177.00 223.90h11.60v3.01h-11.60zM3191.31 223.90h5.87v3.01h-5.87zM3202.76 223.90h8.74v3.01h-8.74zM3214.21 223.90h3.01v3.01h-3.01zM3222.79 223.90h3.01v3.01h-3.01zM3228.52 223.90h11.60v3.01h-11.60zM3242.83 223.90h8.74v3.01h-8.74zM3254.28 223.90h3.01v3.01h-3.01zM3188.45 226.76h5.87v3.01h-5.87zM3197.03 226.76h5.87v3.01h-5.87zM3205.62 226.76h8.74v3.01h-8.74zM3225.66 226.76h3.01v3.01h-3.01zM3234.24 226.76h3.01v3.01h-3.01zM3242.83 226.76h5.87v3.01h-5.87zM3254.28 226.76h3.01v3.01h-3.01zM3185.59 229.62h3.01v3.01h-3.01zM3191.31 229.62h5.87v3.01h-5.87zM3205.62 229.62h3.01v3.01h-3.01zM3222.79 229.62h3.01v3.01h-3.01zM3231.38 229.62h8.74v3.01h-8.74zM3245.69 229.62h5.87v3.01h-5.87zM3254.28 229.62h3.01v3.01h-3.01zM3177.00 232.48h5.87v3.01h-5.87zM3185.59 232.48h5.87v3.01h-5.87zM3205.62 232.48h3.01v3.01h-3.01zM3211.34 232.48h5.87v3.01h-5.87zM3219.93 232.48h3.01v3.01h-3.01zM3237.10 232.48h5.87v3.01h-5.87zM3248.55 232.48h3.01v3.01h-3.01zM3179.86 235.34h3.01v3.01h-3.01zM3191.31 235.34h5.87v3.01h-5.87zM3199.90 235.34h3.01v3.01h-3.01zM3208.48 235.34h3.01v3.01h-3.01zM3214.21 235.34h3.01v3.01h-3.01zM3219.93 235.34h3.01v3.01h-3.01zM3228.52 235.34h11.60v3.01h-11.60zM3245.69 235.34h8.74v3.01h-8.74zM3177.00 238.21h3.01v3.01h-3.01zM3182.72 238.21h8.74v3.01h-8.74zM3197.03 238.21h3.01v3.01h-3.01zM3202.76 238.21h3.01v3.01h-3.01zM3208.48 238.21h3.01v3.01h-3.01zM3214.21 238.21h5.87v3.01h-5.87zM3222.79 238.21h8.74v3.01h-8.74zM3234.24 238.21h5.87v3.01h-5.87zM3257.14 238.21h3.01v3.01h-3.01zM3185.59 241.07h5.87v3.01h-5.87zM3194.17 241.07h3.01v3.01h-3.01zM3202.76 241.07h5.87v3.01h-5.87zM3211.34 241.07h5.87v3.01h-5.87zM3219.93 241.07h3.01v3.01h-3.01zM3225.66 241.07h5.87v3.01h-5.87zM3234.24 241.07h5.87v3.01h-5.87zM3248.55 241.07h3.01v3.01h-3.01zM3179.86 243.93h11.60v3.01h-11.60zM3199.90 243.93h8.74v3.01h-8.74zM3217.07 243.93h5.87v3.01h-5.87zM3225.66 243.93h3.01v3.01h-3.01zM3231.38 243.93h5.87v3.01h-5.87zM3239.97 243.93h3.01v3.01h-3.01zM3245.69 243.93h3.01v3.01h-3.01zM3254.28 243.93h5.87v3.01h-5.87zM3179.86 246.79h8.74v3.01h-8.74zM3191.31 246.79h5.87v3.01h-5.87zM3208.48 246.79h3.01v3.01h-3.01zM3222.79 246.79h3.01v3.01h-3.01zM3237.10 246.79h3.01v3.01h-3.01zM3254.28 246.79h3.01v3.01h-3.01zM3177.00 249.66h14.46v3.01h-14.46zM3197.03 249.66h3.01v3.01h-3.01zM3205.62 249.66h3.01v3.01h-3.01zM3217.07 249.66h3.01v3.01h-3.01zM3234.24 249.66h3.01v3.01h-3.01zM3242.83 249.66h17.32v3.01h-17.32zM3177.00 252.52h3.01v3.01h-3.01zM3194.17 252.52h3.01v3.01h-3.01zM3202.76 252.52h3.01v3.01h-3.01zM3211.34 252.52h3.01v3.01h-3.01zM3217.07 252.52h11.60v3.01h-11.60zM3231.38 252.52h3.01v3.01h-3.01zM3237.10 252.52h3.01v3.01h-3.01zM3245.69 252.52h5.87v3.01h-5.87zM3257.14 252.52h3.01v3.01h-3.01zM3179.86 255.38h14.46v3.01h-14.46zM3197.03 255.38h3.01v3.01h-3.01zM3205.62 255.38h3.01v3.01h-3.01zM3214.21 255.38h3.01v3.01h-3.01zM3219.93 255.38h5.87v3.01h-5.87zM3228.52 255.38h3.01v3.01h-3.01zM3239.97 255.38h3.01v3.01h-3.01zM3251.41 255.38h3.01v3.01h-3.01zM3257.14 255.38h3.01v3.01h-3.01zM3177.00 258.24h5.87v3.01h-5.87zM3185.59 258.24h5.87v3.01h-5.87zM3194.17 258.24h5.87v3.01h-5.87zM3202.76 258.24h3.01v3.01h-3.01zM3219.93 258.24h5.87v3.01h-5.87zM3234.24 258.24h14.46v3.01h-14.46zM3254.28 258.24h5.87v3.01h-5.87zM3199.90 261.10h3.01v3.01h-3.01zM3205.62 261.10h5.87v3.01h-5.87zM3219.93 261.10h11.60v3.01h-11.60zM3234.24 261.10h3.01v3.01h-3.01zM3245.69 261.10h3.01v3.01h-3.01zM3251.41 261.10h8.74v3.01h-8.74zM3177.00 263.97h20.18v3.01h-20.18zM3199.90 263.97h8.74v3.01h-8.74zM3211.34 263.97h5.87v3.01h-5.87zM3219.93 263.97h3.01v3.01h-3.01zM3225.66 263.97h3.01v3.01h-3.01zM3231.38 263.97h5.87v3.01h-5.87zM3239.97 263.97h3.01v3.01h-3.01zM3245.69 263.97h3.01v3.01h-3.01zM3251.41 263.97h8.74v3.01h-8.74zM3177.00 266.83h3.01v3.01h-3.01zM3194.17 266.83h3.01v3.01h-3.01zM3199.90 266.83h3.01v3.01h-3.01zM3205.62 266.83h8.74v3.01h-8.74zM3219.93 266.83h17.32v3.01h-17.32zM3245.69 266.83h3.01v3.01h-3.01zM3254.28 266.83h3.01v3.01h-3.01zM3177.00 269.69h3.01v3.01h-3.01zM3182.72 269.69h8.74v3.01h-8.74zM3194.17 269.69h3.01v3.01h-3.01zM3202.76 269.69h3.01v3.01h-3.01zM3211.34 269.69h5.87v3.01h-5.87zM3222.79 269.69h3.01v3.01h-3.01zM3228.52 269.69h3.01v3.01h-3.01zM3234.24 269.69h14.46v3.01h-14.46zM3251.41 269.69h5.87v3.01h-5.87zM3177.00 272.55h3.01v3.01h-3.01zM3182.72 272.55h8.74v3.01h-8.74zM3194.17 272.55h3.01v3.01h-3.01zM3228.52 272.55h8.74v3.01h-8.74zM3242.83 272.55h14.46v3.01h-14.46zM3177.00 275.41h3.01v3.01h-3.01zM3182.72 275.41h8.74v3.01h-8.74zM3194.17 275.41h3.01v3.01h-3.01zM3205.62 275.41h14.46v3.01h-14.46zM3225.66 275.41h11.60v3.01h-11.60zM3239.97 275.41h3.01v3.01h-3.01zM3248.55 275.41h5.87v3.01h-5.87zM3177.00 278.28h3.01v3.01h-3.01zM3194.17 278.28h3.01v3.01h-3.01zM3199.90 278.28h3.01v3.01h-3.01zM3208.48 278.28h3.01v3.01h-3.01zM3217.07 278.28h11.60v3.01h-11.60zM3237.10 278.28h11.60v3.01h-11.60zM3177.00 281.14h20.18v3.01h-20.18zM3199.90 281.14h5.87v3.01h-5.87zM3208.48 281.14h8.74v3.01h-8.74zM3225.66 281.14h3.01v3.01h-3.01zM3231.38 281.14h3.01v3.01h-3.01zM3237.10 281.14h3.01v3.01h-3.01zM3242.83 281.14h3.01v3.01h-3.01zM3251.41 281.14h3.01v3.01h-3.01zM3257.14 281.14h3.01v3.01h-3.01z" fill="#fff"/>
</svg>
</body></html>
